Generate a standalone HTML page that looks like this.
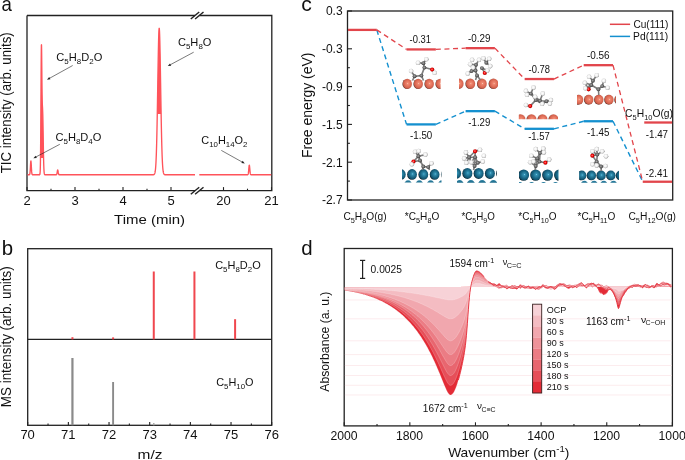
<!DOCTYPE html>
<html><head><meta charset="utf-8"><style>
html,body{margin:0;padding:0;background:#fff;}
svg{display:block;will-change:transform;font-family:"Liberation Sans",sans-serif;}
</style></head><body>
<svg width="685" height="460" viewBox="0 0 685 460">
<defs>
<radialGradient id="gcu" cx="0.55" cy="0.47" r="0.56" fx="0.56" fy="0.46"><stop offset="0" stop-color="#F9CDB9"/><stop offset="0.14" stop-color="#F08A72"/><stop offset="0.55" stop-color="#E06E58"/><stop offset="0.8" stop-color="#CC5E4A"/><stop offset="0.92" stop-color="#8A3A2C"/><stop offset="1" stop-color="#2A100A"/></radialGradient>
<radialGradient id="gpd" cx="0.55" cy="0.47" r="0.56" fx="0.56" fy="0.46"><stop offset="0" stop-color="#8AD8F0"/><stop offset="0.13" stop-color="#3593B5"/><stop offset="0.55" stop-color="#1B6A88"/><stop offset="0.8" stop-color="#135470"/><stop offset="0.92" stop-color="#0A3244"/><stop offset="1" stop-color="#02090C"/></radialGradient>
<linearGradient id="gpd2" x1="0" y1="0" x2="0" y2="1"><stop offset="0" stop-color="#2A80A2"/><stop offset="0.3" stop-color="#1D6A89"/><stop offset="1" stop-color="#0E4258"/></linearGradient>
<radialGradient id="gc" cx="0.45" cy="0.45" r="0.58"><stop offset="0" stop-color="#A8A8A8"/><stop offset="0.5" stop-color="#707070"/><stop offset="1" stop-color="#303030"/></radialGradient>
<radialGradient id="gh" cx="0.45" cy="0.45" r="0.58"><stop offset="0" stop-color="#FFFFFF"/><stop offset="0.5" stop-color="#F2F2F2"/><stop offset="0.82" stop-color="#C4C4C4"/><stop offset="1" stop-color="#707070"/></radialGradient>
<radialGradient id="go" cx="0.45" cy="0.45" r="0.6"><stop offset="0" stop-color="#FF8080"/><stop offset="0.5" stop-color="#F00000"/><stop offset="1" stop-color="#8A0000"/></radialGradient>
<clipPath id="cl0"><rect x="402.00" y="70.00" width="38.60" height="20.00"/></clipPath><clipPath id="cl1"><rect x="459.00" y="70.00" width="39.00" height="20.00"/></clipPath><clipPath id="cl2"><rect x="518.80" y="105.00" width="39.20" height="14.30"/></clipPath><clipPath id="cl3"><rect x="577.00" y="85.00" width="39.00" height="21.00"/></clipPath><clipPath id="cl4"><rect x="402.00" y="160.00" width="39.50" height="22.60"/></clipPath><clipPath id="cl5"><rect x="457.00" y="160.00" width="40.00" height="22.80"/></clipPath><clipPath id="cl6"><rect x="519.00" y="160.00" width="39.50" height="23.00"/></clipPath><clipPath id="cl7"><rect x="579.10" y="160.00" width="39.90" height="22.80"/></clipPath></defs>
<rect width="685" height="460" fill="#fff"/>
<text transform="translate(1.45 10.50) scale(0.9320 1)" fill="#111" font-size="20.00" ><tspan x="0.00" dy="0.00" font-size="20.00">a</tspan></text>
<text transform="translate(1.77 254.70) scale(1.0222 1)" fill="#111" font-size="20.00" ><tspan x="0.00" dy="0.00" font-size="20.00">b</tspan></text>
<text transform="translate(301.35 10.70) scale(1.0575 1)" fill="#111" font-size="20.00" ><tspan x="0.00" dy="0.00" font-size="20.00">c</tspan></text>
<text transform="translate(301.18 254.70) scale(1.0222 1)" fill="#111" font-size="20.00" ><tspan x="0.00" dy="0.00" font-size="20.00">d</tspan></text>
<path d="M195.00 15.50 H27.00 M199.30 15.50 H271.80 V190.70 H199.30 M195.00 190.70 H27.00 V15.50" fill="none" stroke="#222" stroke-width="1.3"/>
<line x1="190.80" y1="19.00" x2="199.20" y2="12.00" stroke="#222" stroke-width="1.45" />
<line x1="195.10" y1="19.00" x2="203.50" y2="12.00" stroke="#222" stroke-width="1.45" />
<line x1="190.80" y1="194.20" x2="199.20" y2="187.20" stroke="#222" stroke-width="1.45" />
<line x1="195.10" y1="194.20" x2="203.50" y2="187.20" stroke="#222" stroke-width="1.45" />
<line x1="27.00" y1="190.70" x2="27.00" y2="187.10" stroke="#222" stroke-width="1.10" />
<line x1="75.00" y1="190.70" x2="75.00" y2="187.10" stroke="#222" stroke-width="1.10" />
<line x1="123.00" y1="190.70" x2="123.00" y2="187.10" stroke="#222" stroke-width="1.10" />
<line x1="171.00" y1="190.70" x2="171.00" y2="187.10" stroke="#222" stroke-width="1.10" />
<line x1="223.50" y1="190.70" x2="223.50" y2="187.10" stroke="#222" stroke-width="1.10" />
<line x1="271.50" y1="190.70" x2="271.50" y2="187.10" stroke="#222" stroke-width="1.10" />
<line x1="51.00" y1="190.70" x2="51.00" y2="188.70" stroke="#222" stroke-width="1.10" />
<line x1="99.00" y1="190.70" x2="99.00" y2="188.70" stroke="#222" stroke-width="1.10" />
<line x1="147.00" y1="190.70" x2="147.00" y2="188.70" stroke="#222" stroke-width="1.10" />
<line x1="247.50" y1="190.70" x2="247.50" y2="188.70" stroke="#222" stroke-width="1.10" />
<text transform="translate(23.39 204.60) scale(1.0000 1)" fill="#111" font-size="13.00" ><tspan x="0.00" dy="0.00" font-size="13.00">2</tspan></text>
<text transform="translate(71.39 204.60) scale(1.0000 1)" fill="#111" font-size="13.00" ><tspan x="0.00" dy="0.00" font-size="13.00">3</tspan></text>
<text transform="translate(119.46 204.60) scale(1.0000 1)" fill="#111" font-size="13.00" ><tspan x="0.00" dy="0.00" font-size="13.00">4</tspan></text>
<text transform="translate(167.39 204.60) scale(1.0000 1)" fill="#111" font-size="13.00" ><tspan x="0.00" dy="0.00" font-size="13.00">5</tspan></text>
<text transform="translate(216.19 204.60) scale(1.0000 1)" fill="#111" font-size="13.00" ><tspan x="0.00" dy="0.00" font-size="13.00">20</tspan></text>
<text transform="translate(264.25 204.60) scale(1.0000 1)" fill="#111" font-size="13.00" ><tspan x="0.00" dy="0.00" font-size="13.00">21</tspan></text>
<text transform="translate(114.10 224.40) scale(1.1360 1)" fill="#111" font-size="13.20" ><tspan x="0.00" dy="0.00" font-size="13.20">Time (min)</tspan></text>
<text transform="translate(10.90 173.27) rotate(-90) scale(0.9997 1.0800)" fill="#111" font-size="13.30">TIC intensity (arb. units)</text>
<rect x="27.70" y="248.70" width="244.00" height="176.60" fill="none" stroke="#222" stroke-width="1.3"/>
<line x1="27.70" y1="339.40" x2="271.70" y2="339.40" stroke="#222" stroke-width="1.30" />
<line x1="27.70" y1="425.30" x2="27.70" y2="421.90" stroke="#222" stroke-width="1.10" />
<line x1="68.37" y1="425.30" x2="68.37" y2="421.90" stroke="#222" stroke-width="1.10" />
<line x1="109.03" y1="425.30" x2="109.03" y2="421.90" stroke="#222" stroke-width="1.10" />
<line x1="149.70" y1="425.30" x2="149.70" y2="421.90" stroke="#222" stroke-width="1.10" />
<line x1="190.37" y1="425.30" x2="190.37" y2="421.90" stroke="#222" stroke-width="1.10" />
<line x1="231.03" y1="425.30" x2="231.03" y2="421.90" stroke="#222" stroke-width="1.10" />
<line x1="271.70" y1="425.30" x2="271.70" y2="421.90" stroke="#222" stroke-width="1.10" />
<line x1="48.03" y1="425.30" x2="48.03" y2="423.50" stroke="#222" stroke-width="1.10" />
<line x1="88.70" y1="425.30" x2="88.70" y2="423.50" stroke="#222" stroke-width="1.10" />
<line x1="129.37" y1="425.30" x2="129.37" y2="423.50" stroke="#222" stroke-width="1.10" />
<line x1="170.03" y1="425.30" x2="170.03" y2="423.50" stroke="#222" stroke-width="1.10" />
<line x1="210.70" y1="425.30" x2="210.70" y2="423.50" stroke="#222" stroke-width="1.10" />
<line x1="251.37" y1="425.30" x2="251.37" y2="423.50" stroke="#222" stroke-width="1.10" />
<text transform="translate(20.39 439.40) scale(1.0000 1)" fill="#111" font-size="13.00" ><tspan x="0.00" dy="0.00" font-size="13.00">70</tspan></text>
<text transform="translate(61.12 439.40) scale(1.0000 1)" fill="#111" font-size="13.00" ><tspan x="0.00" dy="0.00" font-size="13.00">71</tspan></text>
<text transform="translate(101.82 439.40) scale(1.0000 1)" fill="#111" font-size="13.00" ><tspan x="0.00" dy="0.00" font-size="13.00">72</tspan></text>
<text transform="translate(142.42 439.40) scale(1.0000 1)" fill="#111" font-size="13.00" ><tspan x="0.00" dy="0.00" font-size="13.00">73</tspan></text>
<text transform="translate(183.02 439.40) scale(1.0000 1)" fill="#111" font-size="13.00" ><tspan x="0.00" dy="0.00" font-size="13.00">74</tspan></text>
<text transform="translate(223.75 439.40) scale(1.0000 1)" fill="#111" font-size="13.00" ><tspan x="0.00" dy="0.00" font-size="13.00">75</tspan></text>
<text transform="translate(264.42 439.40) scale(1.0000 1)" fill="#111" font-size="13.00" ><tspan x="0.00" dy="0.00" font-size="13.00">76</tspan></text>
<text transform="translate(137.60 459.20) scale(1.1706 1)" fill="#111" font-size="13.20" ><tspan x="0.00" dy="0.00" font-size="13.20">m/z</tspan></text>
<text transform="translate(10.90 407.17) rotate(-90) scale(1.0095 1.0800)" fill="#111" font-size="13.30">MS intensity (arb. units)</text>
<rect x="347.50" y="11.00" width="325.20" height="189.00" fill="none" stroke="#222" stroke-width="1.3"/>
<line x1="347.50" y1="11.00" x2="352.00" y2="11.00" stroke="#222" stroke-width="1.10" />
<line x1="347.50" y1="29.90" x2="349.90" y2="29.90" stroke="#222" stroke-width="1.10" />
<text x="342.6" y="15.30" font-size="12" text-anchor="end" fill="#111">0.3</text>
<line x1="347.50" y1="48.80" x2="352.00" y2="48.80" stroke="#222" stroke-width="1.10" />
<line x1="347.50" y1="67.70" x2="349.90" y2="67.70" stroke="#222" stroke-width="1.10" />
<text x="342.6" y="53.10" font-size="12" text-anchor="end" fill="#111">-0.3</text>
<line x1="347.50" y1="86.60" x2="352.00" y2="86.60" stroke="#222" stroke-width="1.10" />
<line x1="347.50" y1="105.50" x2="349.90" y2="105.50" stroke="#222" stroke-width="1.10" />
<text x="342.6" y="90.90" font-size="12" text-anchor="end" fill="#111">-0.9</text>
<line x1="347.50" y1="124.40" x2="352.00" y2="124.40" stroke="#222" stroke-width="1.10" />
<line x1="347.50" y1="143.30" x2="349.90" y2="143.30" stroke="#222" stroke-width="1.10" />
<text x="342.6" y="128.70" font-size="12" text-anchor="end" fill="#111">-1.5</text>
<line x1="347.50" y1="162.20" x2="352.00" y2="162.20" stroke="#222" stroke-width="1.10" />
<line x1="347.50" y1="181.10" x2="349.90" y2="181.10" stroke="#222" stroke-width="1.10" />
<text x="342.6" y="166.50" font-size="12" text-anchor="end" fill="#111">-2.1</text>
<line x1="347.50" y1="200.00" x2="352.00" y2="200.00" stroke="#222" stroke-width="1.10" />
<text x="342.6" y="204.30" font-size="12" text-anchor="end" fill="#111">-2.7</text>
<text transform="translate(311.60 158.12) rotate(-90) scale(1.0283 1.0300)" fill="#111" font-size="13.60">Free energy (eV)</text>
<rect x="344.20" y="248.50" width="328.20" height="177.40" fill="none" stroke="#222" stroke-width="1.3"/>
<line x1="344.20" y1="425.90" x2="344.20" y2="422.30" stroke="#222" stroke-width="1.10" />
<line x1="377.02" y1="425.90" x2="377.02" y2="423.90" stroke="#222" stroke-width="1.10" />
<line x1="409.84" y1="425.90" x2="409.84" y2="422.30" stroke="#222" stroke-width="1.10" />
<line x1="442.66" y1="425.90" x2="442.66" y2="423.90" stroke="#222" stroke-width="1.10" />
<line x1="475.48" y1="425.90" x2="475.48" y2="422.30" stroke="#222" stroke-width="1.10" />
<line x1="508.30" y1="425.90" x2="508.30" y2="423.90" stroke="#222" stroke-width="1.10" />
<line x1="541.12" y1="425.90" x2="541.12" y2="422.30" stroke="#222" stroke-width="1.10" />
<line x1="573.94" y1="425.90" x2="573.94" y2="423.90" stroke="#222" stroke-width="1.10" />
<line x1="606.76" y1="425.90" x2="606.76" y2="422.30" stroke="#222" stroke-width="1.10" />
<line x1="639.58" y1="425.90" x2="639.58" y2="423.90" stroke="#222" stroke-width="1.10" />
<line x1="672.40" y1="425.90" x2="672.40" y2="422.30" stroke="#222" stroke-width="1.10" />
<text transform="translate(330.54 440.00) scale(1.0000 1)" fill="#111" font-size="12.20" ><tspan x="0.00" dy="0.00" font-size="12.20">2000</tspan></text>
<text transform="translate(396.02 440.00) scale(1.0000 1)" fill="#111" font-size="12.20" ><tspan x="0.00" dy="0.00" font-size="12.20">1800</tspan></text>
<text transform="translate(461.66 440.00) scale(1.0000 1)" fill="#111" font-size="12.20" ><tspan x="0.00" dy="0.00" font-size="12.20">1600</tspan></text>
<text transform="translate(527.30 440.00) scale(1.0000 1)" fill="#111" font-size="12.20" ><tspan x="0.00" dy="0.00" font-size="12.20">1400</tspan></text>
<text transform="translate(592.94 440.00) scale(1.0000 1)" fill="#111" font-size="12.20" ><tspan x="0.00" dy="0.00" font-size="12.20">1200</tspan></text>
<text transform="translate(658.58 440.00) scale(1.0000 1)" fill="#111" font-size="12.20" ><tspan x="0.00" dy="0.00" font-size="12.20">1000</tspan></text>
<text transform="translate(448.13 457.40) scale(1.0119 1)" fill="#111" font-size="13.60" ><tspan x="0.00" dy="0.00" font-size="13.60">Wavenumber (cm</tspan><tspan x="106.81" dy="-5.17" font-size="9.52">-1</tspan><tspan x="115.28" dy="5.17" font-size="13.60">)</tspan></text>
<text transform="translate(329.30 391.70) rotate(-90) scale(0.9520 1.0500)" fill="#111" font-size="12.80">Absorbance (a. u.)</text>
<path d="M157.30 114.00 L157.30 112.66 L157.35 109.83 L157.40 106.95 L157.45 104.03 L157.50 101.07 L157.55 98.08 L157.60 95.06 L157.65 92.02 L157.70 88.96 L157.75 85.90 L157.80 82.84 L157.85 79.79 L157.90 76.75 L157.95 73.74 L158.00 70.75 L158.05 67.81 L158.10 64.91 L158.15 62.06 L158.20 59.29 L158.25 56.58 L158.30 53.95 L158.35 51.41 L158.40 48.97 L158.45 46.63 L158.50 44.40 L158.55 42.29 L158.60 40.31 L158.65 38.46 L158.70 36.75 L158.75 35.18 L158.80 33.77 L158.85 32.50 L158.90 31.40 L158.95 30.46 L159.00 29.69 L159.05 29.08 L159.10 28.65 L159.15 28.39 L159.20 28.30 L159.25 28.39 L159.30 28.65 L159.35 29.08 L159.40 29.69 L159.45 30.46 L159.50 31.40 L159.55 32.50 L159.60 33.77 L159.65 35.18 L159.70 36.75 L159.75 38.46 L159.80 40.31 L159.85 42.29 L159.90 44.40 L159.95 46.63 L160.00 48.97 L160.05 51.41 L160.10 53.95 L160.15 56.58 L160.20 59.29 L160.25 62.06 L160.30 64.91 L160.35 67.81 L160.40 70.75 L160.45 73.74 L160.50 76.75 L160.55 79.79 L160.60 82.84 L160.65 85.90 L160.70 88.96 L160.75 92.02 L160.80 95.06 L160.85 98.08 L160.90 101.07 L160.95 104.03 L161.00 106.95 L161.05 109.83 L161.10 112.66 L161.10 114.00 Z" fill="#FF535A"/>
<path d="M40.55 158.00 L40.55 154.14 L40.60 149.48 L40.65 144.14 L40.70 138.11 L40.75 131.43 L40.80 124.14 L40.85 116.34 L40.90 108.15 L40.95 99.71 L41.00 91.22 L41.05 82.86 L41.10 74.85 L41.15 67.40 L41.20 60.73 L41.25 55.02 L41.30 50.43 L41.35 47.07 L41.40 45.01 L41.45 44.27 L41.50 44.81 L41.55 46.55 L41.60 49.35 L41.65 53.04 L41.70 57.44 L41.75 62.33 L41.80 67.50 L41.85 72.74 L41.90 77.88 L41.95 82.75 L42.00 87.23 L42.05 91.23 L42.10 94.71 L42.15 97.65 L42.20 100.08 L42.25 102.02 L42.30 103.57 L42.35 104.79 L42.40 105.78 L42.45 106.63 L42.50 107.44 L42.55 108.28 L42.60 109.24 L42.65 110.35 L42.70 111.69 L42.75 113.26 L42.80 115.09 L42.85 117.18 L42.90 119.52 L42.95 122.08 L43.00 124.84 L43.05 127.75 L43.10 130.79 L43.15 133.91 L43.20 137.05 L43.25 140.20 L43.30 143.29 L43.35 146.30 L43.40 149.20 L43.45 151.97 L43.50 154.57 L43.55 157.00 L43.55 158.00 Z" fill="#FF535A"/>
<path d="M27.6 174.7 L27.7 174.7 L27.8 174.7 L27.9 174.7 L28.0 174.7 L28.1 174.7 L28.2 174.7 L28.3 174.7 L28.4 174.7 L28.5 174.7 L28.6 174.7 L28.7 174.7 L28.8 174.7 L28.9 174.7 L29.0 174.7 L29.1 174.7 L29.2 174.7 L29.3 174.7 L29.4 174.6 L29.5 174.6 L29.6 174.5 L29.7 174.3 L29.8 174.0 L29.9 173.5 L30.0 172.8 L30.1 171.9 L30.2 170.6 L30.3 169.0 L30.4 167.3 L30.5 165.4 L30.6 163.6 L30.7 162.2 L30.8 161.2 L30.9 160.9 L31.0 161.2 L31.1 162.2 L31.2 163.6 L31.3 165.4 L31.4 167.3 L31.5 169.0 L31.6 170.6 L31.7 171.9 L31.8 172.8 L31.9 173.5 L32.0 174.0 L32.1 174.3 L32.2 174.5 L32.3 174.6 L32.4 174.6 L32.5 174.7 L32.6 174.7 L32.7 174.7 L32.8 174.7 L32.9 174.7 L33.0 174.7 L33.1 174.7 L33.2 174.7 L33.3 174.7 L33.4 174.7 L33.5 174.7 L33.6 174.7 L33.7 174.7 L33.8 174.7 L33.9 174.7 L34.0 174.7 L34.1 174.7 L34.2 174.7 L34.3 174.7 L34.4 174.7 L34.5 174.7 L34.6 174.7 L34.7 174.7 L34.8 174.7 L34.9 174.7 L35.0 174.7 L35.1 174.7 L35.2 174.7 L35.3 174.7 L35.4 174.7 L35.5 174.7 L35.6 174.7 L35.7 174.7 L35.8 174.7 L35.9 174.7 L36.0 174.7 L36.1 174.7 L36.2 174.7 L36.3 174.7 L36.4 174.7 L36.5 174.7 L36.6 174.7 L36.7 174.7 L36.8 174.7 L36.9 174.7 L37.0 174.7 L37.1 174.7 L37.2 174.7 L37.3 174.7 L37.4 174.7 L37.5 174.7 L37.6 174.7 L37.7 174.7 L37.8 174.7 L37.9 174.7 L38.0 174.7 L38.1 174.7 L38.2 174.7 L38.3 174.7 L38.4 174.7 L38.5 174.7 L38.6 174.7 L38.7 174.7 L38.8 174.7 L38.9 174.7 L39.0 174.7 L39.1 174.7 L39.2 174.7 L39.3 174.7 L39.4 174.7 L39.5 174.7 L39.6 174.7 L39.7 174.6 L39.8 174.5 L39.9 174.2 L40.0 173.7 L40.1 172.8 L40.2 171.2 L40.3 168.5 L40.4 164.4 L40.5 158.1 L40.6 149.5 L40.7 138.1 L40.8 124.1 L40.9 108.1 L41.0 91.2 L41.1 74.8 L41.2 60.7 L41.3 50.4 L41.4 45.0 L41.5 44.8 L41.6 49.3 L41.7 57.4 L41.8 67.5 L41.9 77.9 L42.0 87.2 L42.1 94.7 L42.2 100.1 L42.3 103.6 L42.4 105.8 L42.5 107.4 L42.6 109.2 L42.7 111.7 L42.8 115.1 L42.9 119.5 L43.0 124.8 L43.1 130.8 L43.2 137.1 L43.3 143.3 L43.4 149.2 L43.5 154.6 L43.6 159.2 L43.7 163.2 L43.8 166.3 L43.9 168.8 L44.0 170.6 L44.1 172.0 L44.2 172.9 L44.3 173.6 L44.4 174.0 L44.5 174.3 L44.6 174.5 L44.7 174.6 L44.8 174.6 L44.9 174.7 L45.0 174.7 L45.1 174.7 L45.2 174.7 L45.3 174.7 L45.4 174.7 L45.5 174.7 L45.6 174.7 L45.7 174.7 L45.8 174.7 L45.9 174.7 L46.0 174.7 L46.1 174.7 L46.2 174.7 L46.3 174.7 L46.4 174.7 L46.5 174.7 L46.6 174.7 L46.7 174.7 L46.8 174.7 L46.9 174.7 L47.0 174.7 L47.1 174.7 L47.2 174.7 L47.3 174.7 L47.4 174.7 L47.5 174.7 L47.6 174.7 L47.7 174.7 L47.8 174.7 L47.9 174.7 L48.0 174.7 L48.1 174.7 L48.2 174.7 L48.3 174.7 L48.4 174.7 L48.5 174.7 L48.6 174.7 L48.7 174.7 L48.8 174.7 L48.9 174.7 L49.0 174.7 L49.1 174.7 L49.2 174.7 L49.3 174.7 L49.4 174.7 L49.5 174.7 L49.6 174.7 L49.7 174.7 L49.8 174.7 L49.9 174.7 L50.0 174.7 L50.1 174.7 L50.2 174.7 L50.3 174.7 L50.4 174.7 L50.5 174.7 L50.6 174.7 L50.7 174.7 L50.8 174.7 L50.9 174.7 L51.0 174.7 L51.1 174.7 L51.2 174.7 L51.3 174.7 L51.4 174.7 L51.5 174.7 L51.6 174.7 L51.7 174.7 L51.8 174.7 L51.9 174.7 L52.0 174.7 L52.1 174.7 L52.2 174.7 L52.3 174.7 L52.4 174.7 L52.5 174.7 L52.6 174.7 L52.7 174.7 L52.8 174.7 L52.9 174.7 L53.0 174.7 L53.1 174.7 L53.2 174.7 L53.3 174.7 L53.4 174.7 L53.5 174.7 L53.6 174.7 L53.7 174.7 L53.8 174.7 L53.9 174.7 L54.0 174.7 L54.1 174.7 L54.2 174.7 L54.3 174.7 L54.4 174.7 L54.5 174.7 L54.6 174.7 L54.7 174.7 L54.8 174.7 L54.9 174.7 L55.0 174.7 L55.1 174.7 L55.2 174.7 L55.3 174.7 L55.4 174.7 L55.5 174.7 L55.6 174.7 L55.7 174.7 L55.8 174.7 L55.9 174.7 L56.0 174.7 L56.1 174.7 L56.2 174.7 L56.3 174.7 L56.4 174.6 L56.5 174.6 L56.6 174.5 L56.7 174.3 L56.8 174.1 L56.9 173.7 L57.0 173.3 L57.1 172.8 L57.2 172.2 L57.3 171.5 L57.4 170.9 L57.5 170.4 L57.6 170.1 L57.7 170.0 L57.8 170.1 L57.9 170.4 L58.0 170.9 L58.1 171.5 L58.2 172.2 L58.3 172.8 L58.4 173.3 L58.5 173.7 L58.6 174.1 L58.7 174.3 L58.8 174.5 L58.9 174.6 L59.0 174.6 L59.1 174.7 L59.2 174.7 L59.3 174.7 L59.4 174.7 L59.5 174.7 L59.6 174.7 L59.7 174.7 L59.8 174.7 L59.9 174.7 L60.0 174.7 L60.1 174.7 L60.2 174.7 L60.3 174.7 L60.4 174.7 L60.5 174.7 L60.6 174.7 L60.7 174.7 L60.8 174.7 L60.9 174.7 L61.0 174.7 L61.1 174.7 L61.2 174.7 L61.3 174.7 L61.4 174.7 L61.5 174.7 L61.6 174.7 L61.7 174.7 L61.8 174.7 L61.9 174.7 L62.0 174.7 L62.1 174.7 L62.2 174.7 L62.3 174.7 L62.4 174.7 L62.5 174.7 L62.6 174.7 L62.7 174.7 L62.8 174.7 L62.9 174.7 L63.0 174.7 L63.1 174.7 L63.2 174.7 L63.3 174.7 L63.4 174.7 L63.5 174.7 L63.6 174.7 L63.7 174.7 L63.8 174.7 L63.9 174.7 L64.0 174.7 L64.1 174.7 L64.2 174.7 L64.3 174.7 L64.4 174.7 L64.5 174.7 L64.6 174.7 L64.7 174.7 L64.8 174.7 L64.9 174.7 L65.0 174.7 L65.1 174.7 L65.2 174.7 L65.3 174.7 L65.4 174.7 L65.5 174.7 L65.6 174.7 L65.7 174.7 L65.8 174.7 L65.9 174.7 L66.0 174.7 L66.1 174.7 L66.2 174.7 L66.3 174.7 L66.4 174.7 L66.5 174.7 L66.6 174.7 L66.7 174.7 L66.8 174.7 L66.9 174.7 L67.0 174.7 L67.1 174.7 L67.2 174.7 L67.3 174.7 L67.4 174.7 L67.5 174.7 L67.6 174.7 L67.7 174.7 L67.8 174.7 L67.9 174.7 L68.0 174.7 L68.1 174.7 L68.2 174.7 L68.3 174.7 L68.4 174.7 L68.5 174.7 L68.6 174.7 L68.7 174.7 L68.8 174.7 L68.9 174.7 L69.0 174.7 L69.1 174.7 L69.2 174.7 L69.3 174.7 L69.4 174.7 L69.5 174.7 L69.6 174.7 L69.7 174.7 L69.8 174.7 L69.9 174.7 L70.0 174.7 L70.1 174.7 L70.2 174.7 L70.3 174.7 L70.4 174.7 L70.5 174.7 L70.6 174.7 L70.7 174.7 L70.8 174.7 L70.9 174.7 L71.0 174.7 L71.1 174.7 L71.2 174.7 L71.3 174.7 L71.4 174.7 L71.5 174.7 L71.6 174.7 L71.7 174.7 L71.8 174.7 L71.9 174.7 L72.0 174.7 L72.1 174.7 L72.2 174.7 L72.3 174.7 L72.4 174.7 L72.5 174.7 L72.6 174.7 L72.7 174.7 L72.8 174.7 L72.9 174.7 L73.0 174.7 L73.1 174.7 L73.2 174.7 L73.3 174.7 L73.4 174.7 L73.5 174.7 L73.6 174.7 L73.7 174.7 L73.8 174.7 L73.9 174.7 L74.0 174.7 L74.1 174.7 L74.2 174.7 L74.3 174.7 L74.4 174.7 L74.5 174.7 L74.6 174.7 L74.7 174.7 L74.8 174.7 L74.9 174.7 L75.0 174.7 L75.1 174.7 L75.2 174.7 L75.3 174.7 L75.4 174.7 L75.5 174.7 L75.6 174.7 L75.7 174.7 L75.8 174.7 L75.9 174.7 L76.0 174.7 L76.1 174.7 L76.2 174.7 L76.3 174.7 L76.4 174.7 L76.5 174.7 L76.6 174.7 L76.7 174.7 L76.8 174.7 L76.9 174.7 L77.0 174.7 L77.1 174.7 L77.2 174.7 L77.3 174.7 L77.4 174.7 L77.5 174.7 L77.6 174.7 L77.7 174.7 L77.8 174.7 L77.9 174.7 L78.0 174.7 L78.1 174.7 L78.2 174.7 L78.3 174.7 L78.4 174.7 L78.5 174.7 L78.6 174.7 L78.7 174.7 L78.8 174.7 L78.9 174.7 L79.0 174.7 L79.1 174.7 L79.2 174.7 L79.3 174.7 L79.4 174.7 L79.5 174.7 L79.6 174.7 L79.7 174.7 L79.8 174.7 L79.9 174.7 L80.0 174.7 L80.1 174.7 L80.2 174.7 L80.3 174.7 L80.4 174.7 L80.5 174.7 L80.6 174.7 L80.7 174.7 L80.8 174.7 L80.9 174.7 L81.0 174.7 L81.1 174.7 L81.2 174.7 L81.3 174.7 L81.4 174.7 L81.5 174.7 L81.6 174.7 L81.7 174.7 L81.8 174.7 L81.9 174.7 L82.0 174.7 L82.1 174.7 L82.2 174.7 L82.3 174.7 L82.4 174.7 L82.5 174.7 L82.6 174.7 L82.7 174.7 L82.8 174.7 L82.9 174.7 L83.0 174.7 L83.1 174.7 L83.2 174.7 L83.3 174.7 L83.4 174.7 L83.5 174.7 L83.6 174.7 L83.7 174.7 L83.8 174.7 L83.9 174.7 L84.0 174.7 L84.1 174.7 L84.2 174.7 L84.3 174.7 L84.4 174.7 L84.5 174.7 L84.6 174.7 L84.7 174.7 L84.8 174.7 L84.9 174.7 L85.0 174.7 L85.1 174.7 L85.2 174.7 L85.3 174.7 L85.4 174.7 L85.5 174.7 L85.6 174.7 L85.7 174.7 L85.8 174.7 L85.9 174.7 L86.0 174.7 L86.1 174.7 L86.2 174.7 L86.3 174.7 L86.4 174.7 L86.5 174.7 L86.6 174.7 L86.7 174.7 L86.8 174.7 L86.9 174.7 L87.0 174.7 L87.1 174.7 L87.2 174.7 L87.3 174.7 L87.4 174.7 L87.5 174.7 L87.6 174.7 L87.7 174.7 L87.8 174.7 L87.9 174.7 L88.0 174.7 L88.1 174.7 L88.2 174.7 L88.3 174.7 L88.4 174.7 L88.5 174.7 L88.6 174.7 L88.7 174.7 L88.8 174.7 L88.9 174.7 L89.0 174.7 L89.1 174.7 L89.2 174.7 L89.3 174.7 L89.4 174.7 L89.5 174.7 L89.6 174.7 L89.7 174.7 L89.8 174.7 L89.9 174.7 L90.0 174.7 L90.1 174.7 L90.2 174.7 L90.3 174.7 L90.4 174.7 L90.5 174.7 L90.6 174.7 L90.7 174.7 L90.8 174.7 L90.9 174.7 L91.0 174.7 L91.1 174.7 L91.2 174.7 L91.3 174.7 L91.4 174.7 L91.5 174.7 L91.6 174.7 L91.7 174.7 L91.8 174.7 L91.9 174.7 L92.0 174.7 L92.1 174.7 L92.2 174.7 L92.3 174.7 L92.4 174.7 L92.5 174.7 L92.6 174.7 L92.7 174.7 L92.8 174.7 L92.9 174.7 L93.0 174.7 L93.1 174.7 L93.2 174.7 L93.3 174.7 L93.4 174.7 L93.5 174.7 L93.6 174.7 L93.7 174.7 L93.8 174.7 L93.9 174.7 L94.0 174.7 L94.1 174.7 L94.2 174.7 L94.3 174.7 L94.4 174.7 L94.5 174.7 L94.6 174.7 L94.7 174.7 L94.8 174.7 L94.9 174.7 L95.0 174.7 L95.1 174.7 L95.2 174.7 L95.3 174.7 L95.4 174.7 L95.5 174.7 L95.6 174.7 L95.7 174.7 L95.8 174.7 L95.9 174.7 L96.0 174.7 L96.1 174.7 L96.2 174.7 L96.3 174.7 L96.4 174.7 L96.5 174.7 L96.6 174.7 L96.7 174.7 L96.8 174.7 L96.9 174.7 L97.0 174.7 L97.1 174.7 L97.2 174.7 L97.3 174.7 L97.4 174.7 L97.5 174.7 L97.6 174.7 L97.7 174.7 L97.8 174.7 L97.9 174.7 L98.0 174.7 L98.1 174.7 L98.2 174.7 L98.3 174.7 L98.4 174.7 L98.5 174.7 L98.6 174.7 L98.7 174.7 L98.8 174.7 L98.9 174.7 L99.0 174.7 L99.1 174.7 L99.2 174.7 L99.3 174.7 L99.4 174.7 L99.5 174.7 L99.6 174.7 L99.7 174.7 L99.8 174.7 L99.9 174.7 L100.0 174.7 L100.1 174.7 L100.2 174.7 L100.3 174.7 L100.4 174.7 L100.5 174.7 L100.6 174.7 L100.7 174.7 L100.8 174.7 L100.9 174.7 L101.0 174.7 L101.1 174.7 L101.2 174.7 L101.3 174.7 L101.4 174.7 L101.5 174.7 L101.6 174.7 L101.7 174.7 L101.8 174.7 L101.9 174.7 L102.0 174.7 L102.1 174.7 L102.2 174.7 L102.3 174.7 L102.4 174.7 L102.5 174.7 L102.6 174.7 L102.7 174.7 L102.8 174.7 L102.9 174.7 L103.0 174.7 L103.1 174.7 L103.2 174.7 L103.3 174.7 L103.4 174.7 L103.5 174.7 L103.6 174.7 L103.7 174.7 L103.8 174.7 L103.9 174.7 L104.0 174.7 L104.1 174.7 L104.2 174.7 L104.3 174.7 L104.4 174.7 L104.5 174.7 L104.6 174.7 L104.7 174.7 L104.8 174.7 L104.9 174.7 L105.0 174.7 L105.1 174.7 L105.2 174.7 L105.3 174.7 L105.4 174.7 L105.5 174.7 L105.6 174.7 L105.7 174.7 L105.8 174.7 L105.9 174.7 L106.0 174.7 L106.1 174.7 L106.2 174.7 L106.3 174.7 L106.4 174.7 L106.5 174.7 L106.6 174.7 L106.7 174.7 L106.8 174.7 L106.9 174.7 L107.0 174.7 L107.1 174.7 L107.2 174.7 L107.3 174.7 L107.4 174.7 L107.5 174.7 L107.6 174.7 L107.7 174.7 L107.8 174.7 L107.9 174.7 L108.0 174.7 L108.1 174.7 L108.2 174.7 L108.3 174.7 L108.4 174.7 L108.5 174.7 L108.6 174.7 L108.7 174.7 L108.8 174.7 L108.9 174.7 L109.0 174.7 L109.1 174.7 L109.2 174.7 L109.3 174.7 L109.4 174.7 L109.5 174.7 L109.6 174.7 L109.7 174.7 L109.8 174.7 L109.9 174.7 L110.0 174.7 L110.1 174.7 L110.2 174.7 L110.3 174.7 L110.4 174.7 L110.5 174.7 L110.6 174.7 L110.7 174.7 L110.8 174.7 L110.9 174.7 L111.0 174.7 L111.1 174.7 L111.2 174.7 L111.3 174.7 L111.4 174.7 L111.5 174.7 L111.6 174.7 L111.7 174.7 L111.8 174.7 L111.9 174.7 L112.0 174.7 L112.1 174.7 L112.2 174.7 L112.3 174.7 L112.4 174.7 L112.5 174.7 L112.6 174.7 L112.7 174.7 L112.8 174.7 L112.9 174.7 L113.0 174.7 L113.1 174.7 L113.2 174.7 L113.3 174.7 L113.4 174.7 L113.5 174.7 L113.6 174.7 L113.7 174.7 L113.8 174.7 L113.9 174.7 L114.0 174.7 L114.1 174.7 L114.2 174.7 L114.3 174.7 L114.4 174.7 L114.5 174.7 L114.6 174.7 L114.7 174.7 L114.8 174.7 L114.9 174.7 L115.0 174.7 L115.1 174.7 L115.2 174.7 L115.3 174.7 L115.4 174.7 L115.5 174.7 L115.6 174.7 L115.7 174.7 L115.8 174.7 L115.9 174.7 L116.0 174.7 L116.1 174.7 L116.2 174.7 L116.3 174.7 L116.4 174.7 L116.5 174.7 L116.6 174.7 L116.7 174.7 L116.8 174.7 L116.9 174.7 L117.0 174.7 L117.1 174.7 L117.2 174.7 L117.3 174.7 L117.4 174.7 L117.5 174.7 L117.6 174.7 L117.7 174.7 L117.8 174.7 L117.9 174.7 L118.0 174.7 L118.1 174.7 L118.2 174.7 L118.3 174.7 L118.4 174.7 L118.5 174.7 L118.6 174.7 L118.7 174.7 L118.8 174.7 L118.9 174.7 L119.0 174.7 L119.1 174.7 L119.2 174.7 L119.3 174.7 L119.4 174.7 L119.5 174.7 L119.6 174.7 L119.7 174.7 L119.8 174.7 L119.9 174.7 L120.0 174.7 L120.1 174.7 L120.2 174.7 L120.3 174.7 L120.4 174.7 L120.5 174.7 L120.6 174.7 L120.7 174.7 L120.8 174.7 L120.9 174.7 L121.0 174.7 L121.1 174.7 L121.2 174.7 L121.3 174.7 L121.4 174.7 L121.5 174.7 L121.6 174.7 L121.7 174.7 L121.8 174.7 L121.9 174.7 L122.0 174.7 L122.1 174.7 L122.2 174.7 L122.3 174.7 L122.4 174.7 L122.5 174.7 L122.6 174.7 L122.7 174.7 L122.8 174.7 L122.9 174.7 L123.0 174.7 L123.1 174.7 L123.2 174.7 L123.3 174.7 L123.4 174.7 L123.5 174.7 L123.6 174.7 L123.7 174.7 L123.8 174.7 L123.9 174.7 L124.0 174.7 L124.1 174.7 L124.2 174.7 L124.3 174.7 L124.4 174.7 L124.5 174.7 L124.6 174.7 L124.7 174.7 L124.8 174.7 L124.9 174.7 L125.0 174.7 L125.1 174.7 L125.2 174.7 L125.3 174.7 L125.4 174.7 L125.5 174.7 L125.6 174.7 L125.7 174.7 L125.8 174.7 L125.9 174.7 L126.0 174.7 L126.1 174.7 L126.2 174.7 L126.3 174.7 L126.4 174.7 L126.5 174.7 L126.6 174.7 L126.7 174.7 L126.8 174.7 L126.9 174.7 L127.0 174.7 L127.1 174.7 L127.2 174.7 L127.3 174.7 L127.4 174.7 L127.5 174.7 L127.6 174.7 L127.7 174.7 L127.8 174.7 L127.9 174.7 L128.0 174.7 L128.1 174.7 L128.2 174.7 L128.3 174.7 L128.4 174.7 L128.5 174.7 L128.6 174.7 L128.7 174.7 L128.8 174.7 L128.9 174.7 L129.0 174.7 L129.1 174.7 L129.2 174.7 L129.3 174.7 L129.4 174.7 L129.5 174.7 L129.6 174.7 L129.7 174.7 L129.8 174.7 L129.9 174.7 L130.0 174.7 L130.1 174.7 L130.2 174.7 L130.3 174.7 L130.4 174.7 L130.5 174.7 L130.6 174.7 L130.7 174.7 L130.8 174.7 L130.9 174.7 L131.0 174.7 L131.1 174.7 L131.2 174.7 L131.3 174.7 L131.4 174.7 L131.5 174.7 L131.6 174.7 L131.7 174.7 L131.8 174.7 L131.9 174.7 L132.0 174.7 L132.1 174.7 L132.2 174.7 L132.3 174.7 L132.4 174.7 L132.5 174.7 L132.6 174.7 L132.7 174.7 L132.8 174.7 L132.9 174.7 L133.0 174.7 L133.1 174.7 L133.2 174.7 L133.3 174.7 L133.4 174.7 L133.5 174.7 L133.6 174.7 L133.7 174.7 L133.8 174.7 L133.9 174.7 L134.0 174.7 L134.1 174.7 L134.2 174.7 L134.3 174.7 L134.4 174.7 L134.5 174.7 L134.6 174.7 L134.7 174.7 L134.8 174.7 L134.9 174.7 L135.0 174.7 L135.1 174.7 L135.2 174.7 L135.3 174.7 L135.4 174.7 L135.5 174.7 L135.6 174.7 L135.7 174.7 L135.8 174.7 L135.9 174.7 L136.0 174.7 L136.1 174.7 L136.2 174.7 L136.3 174.7 L136.4 174.7 L136.5 174.7 L136.6 174.7 L136.7 174.7 L136.8 174.7 L136.9 174.7 L137.0 174.7 L137.1 174.7 L137.2 174.7 L137.3 174.7 L137.4 174.7 L137.5 174.7 L137.6 174.7 L137.7 174.7 L137.8 174.7 L137.9 174.7 L138.0 174.7 L138.1 174.7 L138.2 174.7 L138.3 174.7 L138.4 174.7 L138.5 174.7 L138.6 174.7 L138.7 174.7 L138.8 174.7 L138.9 174.7 L139.0 174.7 L139.1 174.7 L139.2 174.7 L139.3 174.7 L139.4 174.7 L139.5 174.7 L139.6 174.7 L139.7 174.7 L139.8 174.7 L139.9 174.7 L140.0 174.7 L140.1 174.7 L140.2 174.7 L140.3 174.7 L140.4 174.7 L140.5 174.7 L140.6 174.7 L140.7 174.7 L140.8 174.7 L140.9 174.7 L141.0 174.7 L141.1 174.7 L141.2 174.7 L141.3 174.7 L141.4 174.7 L141.5 174.7 L141.6 174.7 L141.7 174.7 L141.8 174.7 L141.9 174.7 L142.0 174.7 L142.1 174.7 L142.2 174.7 L142.3 174.7 L142.4 174.7 L142.5 174.7 L142.6 174.7 L142.7 174.7 L142.8 174.7 L142.9 174.7 L143.0 174.7 L143.1 174.7 L143.2 174.7 L143.3 174.7 L143.4 174.7 L143.5 174.7 L143.6 174.7 L143.7 174.7 L143.8 174.7 L143.9 174.7 L144.0 174.7 L144.1 174.7 L144.2 174.7 L144.3 174.7 L144.4 174.7 L144.5 174.7 L144.6 174.7 L144.7 174.7 L144.8 174.7 L144.9 174.7 L145.0 174.7 L145.1 174.7 L145.2 174.7 L145.3 174.7 L145.4 174.7 L145.5 174.7 L145.6 174.7 L145.7 174.7 L145.8 174.7 L145.9 174.7 L146.0 174.7 L146.1 174.7 L146.2 174.7 L146.3 174.7 L146.4 174.7 L146.5 174.7 L146.6 174.7 L146.7 174.7 L146.8 174.7 L146.9 174.7 L147.0 174.7 L147.1 174.7 L147.2 174.7 L147.3 174.7 L147.4 174.7 L147.5 174.7 L147.6 174.7 L147.7 174.7 L147.8 174.7 L147.9 174.7 L148.0 174.7 L148.1 174.7 L148.2 174.7 L148.3 174.7 L148.4 174.7 L148.5 174.7 L148.6 174.7 L148.7 174.7 L148.8 174.7 L148.9 174.7 L149.0 174.7 L149.1 174.7 L149.2 174.7 L149.3 174.7 L149.4 174.7 L149.5 174.7 L149.6 174.7 L149.7 174.7 L149.8 174.7 L149.9 174.7 L150.0 174.7 L150.1 174.7 L150.2 174.7 L150.3 174.7 L150.4 174.7 L150.5 174.7 L150.6 174.7 L150.7 174.7 L150.8 174.7 L150.9 174.7 L151.0 174.7 L151.1 174.7 L151.2 174.7 L151.3 174.7 L151.4 174.7 L151.5 174.7 L151.6 174.7 L151.7 174.7 L151.8 174.7 L151.9 174.7 L152.0 174.7 L152.1 174.7 L152.2 174.7 L152.3 174.7 L152.4 174.7 L152.5 174.7 L152.6 174.7 L152.7 174.7 L152.8 174.7 L152.9 174.7 L153.0 174.7 L153.1 174.7 L153.2 174.7 L153.3 174.7 L153.4 174.7 L153.5 174.6 L153.6 174.6 L153.7 174.6 L153.8 174.6 L153.9 174.5 L154.0 174.5 L154.1 174.4 L154.2 174.3 L154.3 174.2 L154.4 174.1 L154.5 173.9 L154.6 173.7 L154.7 173.5 L154.8 173.2 L154.9 172.9 L155.0 172.5 L155.1 172.0 L155.2 171.4 L155.3 170.8 L155.4 170.0 L155.5 169.1 L155.6 168.0 L155.7 166.8 L155.8 165.3 L155.9 163.7 L156.0 161.9 L156.1 159.8 L156.2 157.5 L156.3 154.9 L156.4 152.0 L156.5 148.8 L156.6 145.4 L156.7 141.6 L156.8 137.5 L156.9 133.1 L157.0 128.4 L157.1 123.4 L157.2 118.2 L157.3 112.7 L157.4 106.9 L157.5 101.1 L157.6 95.1 L157.7 89.0 L157.8 82.8 L157.9 76.8 L158.0 70.8 L158.1 64.9 L158.2 59.3 L158.3 54.0 L158.4 49.0 L158.5 44.4 L158.6 40.3 L158.7 36.8 L158.8 33.8 L158.9 31.4 L159.0 29.7 L159.1 28.6 L159.2 28.3 L159.3 28.6 L159.4 29.7 L159.5 31.4 L159.6 33.8 L159.7 36.8 L159.8 40.3 L159.9 44.4 L160.0 49.0 L160.1 54.0 L160.2 59.3 L160.3 64.9 L160.4 70.8 L160.5 76.8 L160.6 82.8 L160.7 89.0 L160.8 95.1 L160.9 101.1 L161.0 106.9 L161.1 112.7 L161.2 118.2 L161.3 123.4 L161.4 128.4 L161.5 133.1 L161.6 137.5 L161.7 141.6 L161.8 145.4 L161.9 148.8 L162.0 152.0 L162.1 154.9 L162.2 157.5 L162.3 159.8 L162.4 161.9 L162.5 163.7 L162.6 165.3 L162.7 166.8 L162.8 168.0 L162.9 169.1 L163.0 170.0 L163.1 170.8 L163.2 171.4 L163.3 172.0 L163.4 172.5 L163.5 172.9 L163.6 173.2 L163.7 173.5 L163.8 173.7 L163.9 173.9 L164.0 174.1 L164.1 174.2 L164.2 174.3 L164.3 174.4 L164.4 174.5 L164.5 174.5 L164.6 174.6 L164.7 174.6 L164.8 174.6 L164.9 174.6 L165.0 174.7 L165.1 174.7 L165.2 174.7 L165.3 174.7 L165.4 174.7 L165.5 174.7 L165.6 174.7 L165.7 174.7 L165.8 174.7 L165.9 174.7 L166.0 174.7 L166.1 174.7 L166.2 174.7 L166.3 174.7 L166.4 174.7 L166.5 174.7 L166.6 174.7 L166.7 174.7 L166.8 174.7 L166.9 174.7 L167.0 174.7 L167.1 174.7 L167.2 174.7 L167.3 174.7 L167.4 174.7 L167.5 174.7 L167.6 174.7 L167.7 174.7 L167.8 174.7 L167.9 174.7 L168.0 174.7 L168.1 174.7 L168.2 174.7 L168.3 174.7 L168.4 174.7 L168.5 174.7 L168.6 174.7 L168.7 174.7 L168.8 174.7 L168.9 174.7 L169.0 174.7 L169.1 174.7 L169.2 174.7 L169.3 174.7 L169.4 174.7 L169.5 174.7 L169.6 174.7 L169.7 174.7 L169.8 174.7 L169.9 174.7 L170.0 174.7 L170.1 174.7 L170.2 174.7 L170.3 174.7 L170.4 174.7 L170.5 174.7 L170.6 174.7 L170.7 174.7 L170.8 174.7 L170.9 174.7 L171.0 174.7 L171.1 174.7 L171.2 174.7 L171.3 174.7 L171.4 174.7 L171.5 174.7 L171.6 174.7 L171.7 174.7 L171.8 174.7 L171.9 174.7 L172.0 174.7 L172.1 174.7 L172.2 174.7 L172.3 174.7 L172.4 174.7 L172.5 174.7 L172.6 174.7 L172.7 174.7 L172.8 174.7 L172.9 174.7 L173.0 174.7 L173.1 174.7 L173.2 174.7 L173.3 174.7 L173.4 174.7 L173.5 174.7 L173.6 174.7 L173.7 174.7 L173.8 174.7 L173.9 174.7 L174.0 174.7 L174.1 174.7 L174.2 174.7 L174.3 174.7 L174.4 174.7 L174.5 174.7 L174.6 174.7 L174.7 174.7 L174.8 174.7 L174.9 174.7 L175.0 174.7 L175.1 174.7 L175.2 174.7 L175.3 174.7 L175.4 174.7 L175.5 174.7 L175.6 174.7 L175.7 174.7 L175.8 174.7 L175.9 174.7 L176.0 174.7 L176.1 174.7 L176.2 174.7 L176.3 174.7 L176.4 174.7 L176.5 174.7 L176.6 174.7 L176.7 174.7 L176.8 174.7 L176.9 174.7 L177.0 174.7 L177.1 174.7 L177.2 174.7 L177.3 174.7 L177.4 174.7 L177.5 174.7 L177.6 174.7 L177.7 174.7 L177.8 174.7 L177.9 174.7 L178.0 174.7 L178.1 174.7 L178.2 174.7 L178.3 174.7 L178.4 174.7 L178.5 174.7 L178.6 174.7 L178.7 174.7 L178.8 174.7 L178.9 174.7 L179.0 174.7 L179.1 174.7 L179.2 174.7 L179.3 174.7 L179.4 174.7 L179.5 174.7 L179.6 174.7 L179.7 174.7 L179.8 174.7 L179.9 174.7 L180.0 174.7 L180.1 174.7 L180.2 174.7 L180.3 174.7 L180.4 174.7 L180.5 174.7 L180.6 174.7 L180.7 174.7 L180.8 174.7 L180.9 174.7 L181.0 174.7 L181.1 174.7 L181.2 174.7 L181.3 174.7 L181.4 174.7 L181.5 174.7 L181.6 174.7 L181.7 174.7 L181.8 174.7 L181.9 174.7 L182.0 174.7 L182.1 174.7 L182.2 174.7 L182.3 174.7 L182.4 174.7 L182.5 174.7 L182.6 174.7 L182.7 174.7 L182.8 174.7 L182.9 174.7 L183.0 174.7 L183.1 174.7 L183.2 174.7 L183.3 174.7 L183.4 174.7 L183.5 174.7 L183.6 174.7 L183.7 174.7 L183.8 174.7 L183.9 174.7 L184.0 174.7 L184.1 174.7 L184.2 174.7 L184.3 174.7 L184.4 174.7 L184.5 174.7 L184.6 174.7 L184.7 174.7 L184.8 174.7 L184.9 174.7 L185.0 174.7 L185.1 174.7 L185.2 174.7 L185.3 174.7 L185.4 174.7 L185.5 174.7 L185.6 174.7 L185.7 174.7 L185.8 174.7 L185.9 174.7 L186.0 174.7 L186.1 174.7 L186.2 174.7 L186.3 174.7 L186.4 174.7 L186.5 174.7 L186.6 174.7 L186.7 174.7 L186.8 174.7 L186.9 174.7 L187.0 174.7 L187.1 174.7 L187.2 174.7 L187.3 174.7 L187.4 174.7 L187.5 174.7 L187.6 174.7 L187.7 174.7 L187.8 174.7 L187.9 174.7 L188.0 174.7 L188.1 174.7 L188.2 174.7 L188.3 174.7 L188.4 174.7 L188.5 174.7 L188.6 174.7 L188.7 174.7 L188.8 174.7 L188.9 174.7 L189.0 174.7 L189.1 174.7 L189.2 174.7 L189.3 174.7 L189.4 174.7 L189.5 174.7 L189.6 174.7 L189.7 174.7 L189.8 174.7 L189.9 174.7 L190.0 174.7 L190.1 174.7 L190.2 174.7 L190.3 174.7 L190.4 174.7 L190.5 174.7 L190.6 174.7 L190.7 174.7 L190.8 174.7 L190.9 174.7 L191.0 174.7 L191.1 174.7 L191.2 174.7 L191.3 174.7 L191.4 174.7 L191.5 174.7 L191.6 174.7 L191.7 174.7 L191.8 174.7 L191.9 174.7 L192.0 174.7 L192.1 174.7 L192.2 174.7 L192.3 174.7 L192.4 174.7 L192.5 174.7 L192.6 174.7 L192.7 174.7 L192.8 174.7 L192.9 174.7 L193.0 174.7 L193.1 174.7 L193.2 174.7 L193.3 174.7 L193.4 174.7 L193.5 174.7 L193.6 174.7 L193.7 174.7 L193.8 174.7 L193.9 174.7 L194.0 174.7 L194.1 174.7 L194.2 174.7 L194.3 174.7 L194.4 174.7 L194.5 174.7 L194.6 174.7 L194.7 174.7 L194.8 174.7 L194.9 174.7 L195.0 174.7" fill="none" stroke="#FF535A" stroke-width="1.35" stroke-linejoin="round" />
<path d="M199.3 174.7 L199.4 174.7 L199.5 174.7 L199.6 174.7 L199.7 174.7 L199.8 174.7 L199.9 174.7 L200.0 174.7 L200.1 174.7 L200.2 174.7 L200.3 174.7 L200.4 174.7 L200.5 174.7 L200.6 174.7 L200.7 174.7 L200.8 174.7 L200.9 174.7 L201.0 174.7 L201.1 174.7 L201.2 174.7 L201.3 174.7 L201.4 174.7 L201.5 174.7 L201.6 174.7 L201.7 174.7 L201.8 174.7 L201.9 174.7 L202.0 174.7 L202.1 174.7 L202.2 174.7 L202.3 174.7 L202.4 174.7 L202.5 174.7 L202.6 174.7 L202.7 174.7 L202.8 174.7 L202.9 174.7 L203.0 174.7 L203.1 174.7 L203.2 174.7 L203.3 174.7 L203.4 174.7 L203.5 174.7 L203.6 174.7 L203.7 174.7 L203.8 174.7 L203.9 174.7 L204.0 174.7 L204.1 174.7 L204.2 174.7 L204.3 174.7 L204.4 174.7 L204.5 174.7 L204.6 174.7 L204.7 174.7 L204.8 174.7 L204.9 174.7 L205.0 174.7 L205.1 174.7 L205.2 174.7 L205.3 174.7 L205.4 174.7 L205.5 174.7 L205.6 174.7 L205.7 174.7 L205.8 174.7 L205.9 174.7 L206.0 174.7 L206.1 174.7 L206.2 174.7 L206.3 174.7 L206.4 174.7 L206.5 174.7 L206.6 174.7 L206.7 174.7 L206.8 174.7 L206.9 174.7 L207.0 174.7 L207.1 174.7 L207.2 174.7 L207.3 174.7 L207.4 174.7 L207.5 174.7 L207.6 174.7 L207.7 174.7 L207.8 174.7 L207.9 174.7 L208.0 174.7 L208.1 174.7 L208.2 174.7 L208.3 174.7 L208.4 174.7 L208.5 174.7 L208.6 174.7 L208.7 174.7 L208.8 174.7 L208.9 174.7 L209.0 174.7 L209.1 174.7 L209.2 174.7 L209.3 174.7 L209.4 174.7 L209.5 174.7 L209.6 174.7 L209.7 174.7 L209.8 174.7 L209.9 174.7 L210.0 174.7 L210.1 174.7 L210.2 174.7 L210.3 174.7 L210.4 174.7 L210.5 174.7 L210.6 174.7 L210.7 174.7 L210.8 174.7 L210.9 174.7 L211.0 174.7 L211.1 174.7 L211.2 174.7 L211.3 174.7 L211.4 174.7 L211.5 174.7 L211.6 174.7 L211.7 174.7 L211.8 174.7 L211.9 174.7 L212.0 174.7 L212.1 174.7 L212.2 174.7 L212.3 174.7 L212.4 174.7 L212.5 174.7 L212.6 174.7 L212.7 174.7 L212.8 174.7 L212.9 174.7 L213.0 174.7 L213.1 174.7 L213.2 174.7 L213.3 174.7 L213.4 174.7 L213.5 174.7 L213.6 174.7 L213.7 174.7 L213.8 174.7 L213.9 174.7 L214.0 174.7 L214.1 174.7 L214.2 174.7 L214.3 174.7 L214.4 174.7 L214.5 174.7 L214.6 174.7 L214.7 174.7 L214.8 174.7 L214.9 174.7 L215.0 174.7 L215.1 174.7 L215.2 174.7 L215.3 174.7 L215.4 174.7 L215.5 174.7 L215.6 174.7 L215.7 174.7 L215.8 174.7 L215.9 174.7 L216.0 174.7 L216.1 174.7 L216.2 174.7 L216.3 174.7 L216.4 174.7 L216.5 174.7 L216.6 174.7 L216.7 174.7 L216.8 174.7 L216.9 174.7 L217.0 174.7 L217.1 174.7 L217.2 174.7 L217.3 174.7 L217.4 174.7 L217.5 174.7 L217.6 174.7 L217.7 174.7 L217.8 174.7 L217.9 174.7 L218.0 174.7 L218.1 174.7 L218.2 174.7 L218.3 174.7 L218.4 174.7 L218.5 174.7 L218.6 174.7 L218.7 174.7 L218.8 174.7 L218.9 174.7 L219.0 174.7 L219.1 174.7 L219.2 174.7 L219.3 174.7 L219.4 174.7 L219.5 174.7 L219.6 174.7 L219.7 174.7 L219.8 174.7 L219.9 174.7 L220.0 174.7 L220.1 174.7 L220.2 174.7 L220.3 174.7 L220.4 174.7 L220.5 174.7 L220.6 174.7 L220.7 174.7 L220.8 174.7 L220.9 174.7 L221.0 174.7 L221.1 174.7 L221.2 174.7 L221.3 174.7 L221.4 174.7 L221.5 174.7 L221.6 174.7 L221.7 174.7 L221.8 174.7 L221.9 174.7 L222.0 174.7 L222.1 174.7 L222.2 174.7 L222.3 174.7 L222.4 174.7 L222.5 174.7 L222.6 174.7 L222.7 174.7 L222.8 174.7 L222.9 174.7 L223.0 174.7 L223.1 174.7 L223.2 174.7 L223.3 174.7 L223.4 174.7 L223.5 174.7 L223.6 174.7 L223.7 174.7 L223.8 174.7 L223.9 174.7 L224.0 174.7 L224.1 174.7 L224.2 174.7 L224.3 174.7 L224.4 174.7 L224.5 174.7 L224.6 174.7 L224.7 174.7 L224.8 174.7 L224.9 174.7 L225.0 174.7 L225.1 174.7 L225.2 174.7 L225.3 174.7 L225.4 174.7 L225.5 174.7 L225.6 174.7 L225.7 174.7 L225.8 174.7 L225.9 174.7 L226.0 174.7 L226.1 174.7 L226.2 174.7 L226.3 174.7 L226.4 174.7 L226.5 174.7 L226.6 174.7 L226.7 174.7 L226.8 174.7 L226.9 174.7 L227.0 174.7 L227.1 174.7 L227.2 174.7 L227.3 174.7 L227.4 174.7 L227.5 174.7 L227.6 174.7 L227.7 174.7 L227.8 174.7 L227.9 174.7 L228.0 174.7 L228.1 174.7 L228.2 174.7 L228.3 174.7 L228.4 174.7 L228.5 174.7 L228.6 174.7 L228.7 174.7 L228.8 174.7 L228.9 174.7 L229.0 174.7 L229.1 174.7 L229.2 174.7 L229.3 174.7 L229.4 174.7 L229.5 174.7 L229.6 174.7 L229.7 174.7 L229.8 174.7 L229.9 174.7 L230.0 174.7 L230.1 174.7 L230.2 174.7 L230.3 174.7 L230.4 174.7 L230.5 174.7 L230.6 174.7 L230.7 174.7 L230.8 174.7 L230.9 174.7 L231.0 174.7 L231.1 174.7 L231.2 174.7 L231.3 174.7 L231.4 174.7 L231.5 174.7 L231.6 174.7 L231.7 174.7 L231.8 174.7 L231.9 174.7 L232.0 174.7 L232.1 174.7 L232.2 174.7 L232.3 174.7 L232.4 174.7 L232.5 174.7 L232.6 174.7 L232.7 174.7 L232.8 174.7 L232.9 174.7 L233.0 174.7 L233.1 174.7 L233.2 174.7 L233.3 174.7 L233.4 174.7 L233.5 174.7 L233.6 174.7 L233.7 174.7 L233.8 174.7 L233.9 174.7 L234.0 174.7 L234.1 174.7 L234.2 174.7 L234.3 174.7 L234.4 174.7 L234.5 174.7 L234.6 174.7 L234.7 174.7 L234.8 174.7 L234.9 174.7 L235.0 174.7 L235.1 174.7 L235.2 174.7 L235.3 174.7 L235.4 174.7 L235.5 174.7 L235.6 174.7 L235.7 174.7 L235.8 174.7 L235.9 174.7 L236.0 174.7 L236.1 174.7 L236.2 174.7 L236.3 174.7 L236.4 174.7 L236.5 174.7 L236.6 174.7 L236.7 174.7 L236.8 174.7 L236.9 174.7 L237.0 174.7 L237.1 174.7 L237.2 174.7 L237.3 174.7 L237.4 174.7 L237.5 174.7 L237.6 174.7 L237.7 174.7 L237.8 174.7 L237.9 174.7 L238.0 174.7 L238.1 174.7 L238.2 174.7 L238.3 174.7 L238.4 174.7 L238.5 174.7 L238.6 174.7 L238.7 174.7 L238.8 174.7 L238.9 174.7 L239.0 174.7 L239.1 174.7 L239.2 174.7 L239.3 174.7 L239.4 174.7 L239.5 174.7 L239.6 174.7 L239.7 174.7 L239.8 174.7 L239.9 174.7 L240.0 174.7 L240.1 174.7 L240.2 174.7 L240.3 174.7 L240.4 174.7 L240.5 174.7 L240.6 174.7 L240.7 174.7 L240.8 174.7 L240.9 174.7 L241.0 174.7 L241.1 174.7 L241.2 174.7 L241.3 174.7 L241.4 174.7 L241.5 174.7 L241.6 174.7 L241.7 174.7 L241.8 174.7 L241.9 174.7 L242.0 174.7 L242.1 174.7 L242.2 174.7 L242.3 174.7 L242.4 174.7 L242.5 174.7 L242.6 174.7 L242.7 174.7 L242.8 174.7 L242.9 174.7 L243.0 174.7 L243.1 174.7 L243.2 174.7 L243.3 174.7 L243.4 174.7 L243.5 174.7 L243.6 174.7 L243.7 174.7 L243.8 174.7 L243.9 174.7 L244.0 174.7 L244.1 174.7 L244.2 174.7 L244.3 174.7 L244.4 174.7 L244.5 174.7 L244.6 174.7 L244.7 174.7 L244.8 174.7 L244.9 174.7 L245.0 174.7 L245.1 174.7 L245.2 174.7 L245.3 174.7 L245.4 174.7 L245.5 174.7 L245.6 174.7 L245.7 174.7 L245.8 174.7 L245.9 174.7 L246.0 174.7 L246.1 174.7 L246.2 174.7 L246.3 174.7 L246.4 174.7 L246.5 174.7 L246.6 174.7 L246.7 174.7 L246.8 174.7 L246.9 174.7 L247.0 174.7 L247.1 174.7 L247.2 174.7 L247.3 174.7 L247.4 174.7 L247.5 174.7 L247.6 174.7 L247.7 174.6 L247.8 174.6 L247.9 174.5 L248.0 174.4 L248.1 174.2 L248.2 173.9 L248.3 173.4 L248.4 172.8 L248.5 172.1 L248.6 171.1 L248.7 170.1 L248.8 168.9 L248.9 167.8 L249.0 166.8 L249.1 165.9 L249.2 165.4 L249.3 165.2 L249.4 165.4 L249.5 165.9 L249.6 166.8 L249.7 167.8 L249.8 168.9 L249.9 170.1 L250.0 171.1 L250.1 172.1 L250.2 172.8 L250.3 173.4 L250.4 173.9 L250.5 174.2 L250.6 174.4 L250.7 174.5 L250.8 174.6 L250.9 174.6 L251.0 174.7 L251.1 174.7 L251.2 174.7 L251.3 174.7 L251.4 174.7 L251.5 174.7 L251.6 174.7 L251.7 174.7 L251.8 174.7 L251.9 174.7 L252.0 174.7 L252.1 174.7 L252.2 174.7 L252.3 174.7 L252.4 174.7 L252.5 174.7 L252.6 174.7 L252.7 174.7 L252.8 174.7 L252.9 174.7 L253.0 174.7 L253.1 174.7 L253.2 174.7 L253.3 174.7 L253.4 174.7 L253.5 174.7 L253.6 174.7 L253.7 174.7 L253.8 174.7 L253.9 174.7 L254.0 174.7 L254.1 174.7 L254.2 174.7 L254.3 174.7 L254.4 174.7 L254.5 174.7 L254.6 174.7 L254.7 174.7 L254.8 174.7 L254.9 174.7 L255.0 174.7 L255.1 174.7 L255.2 174.7 L255.3 174.7 L255.4 174.7 L255.5 174.7 L255.6 174.7 L255.7 174.7 L255.8 174.7 L255.9 174.7 L256.0 174.7 L256.1 174.7 L256.2 174.7 L256.3 174.7 L256.4 174.7 L256.5 174.7 L256.6 174.7 L256.7 174.7 L256.8 174.7 L256.9 174.7 L257.0 174.7 L257.1 174.7 L257.2 174.7 L257.3 174.7 L257.4 174.7 L257.5 174.7 L257.6 174.7 L257.7 174.7 L257.8 174.7 L257.9 174.7 L258.0 174.7 L258.1 174.7 L258.2 174.7 L258.3 174.7 L258.4 174.7 L258.5 174.7 L258.6 174.7 L258.7 174.7 L258.8 174.7 L258.9 174.7 L259.0 174.7 L259.1 174.7 L259.2 174.7 L259.3 174.7 L259.4 174.7 L259.5 174.7 L259.6 174.7 L259.7 174.7 L259.8 174.7 L259.9 174.7 L260.0 174.7 L260.1 174.7 L260.2 174.7 L260.3 174.7 L260.4 174.7 L260.5 174.7 L260.6 174.7 L260.7 174.7 L260.8 174.7 L260.9 174.7 L261.0 174.7 L261.1 174.7 L261.2 174.7 L261.3 174.7 L261.4 174.7 L261.5 174.7 L261.6 174.7 L261.7 174.7 L261.8 174.7 L261.9 174.7 L262.0 174.7 L262.1 174.7 L262.2 174.7 L262.3 174.7 L262.4 174.7 L262.5 174.7 L262.6 174.7 L262.7 174.7 L262.8 174.7 L262.9 174.7 L263.0 174.7 L263.1 174.7 L263.2 174.7 L263.3 174.7 L263.4 174.7 L263.5 174.7 L263.6 174.7 L263.7 174.7 L263.8 174.7 L263.9 174.7 L264.0 174.7 L264.1 174.7 L264.2 174.7 L264.3 174.7 L264.4 174.7 L264.5 174.7 L264.6 174.7 L264.7 174.7 L264.8 174.7 L264.9 174.7 L265.0 174.7 L265.1 174.7 L265.2 174.7 L265.3 174.7 L265.4 174.7 L265.5 174.7 L265.6 174.7 L265.7 174.7 L265.8 174.7 L265.9 174.7 L266.0 174.7 L266.1 174.7 L266.2 174.7 L266.3 174.7 L266.4 174.7 L266.5 174.7 L266.6 174.7 L266.7 174.7 L266.8 174.7 L266.9 174.7 L267.0 174.7 L267.1 174.7 L267.2 174.7 L267.3 174.7 L267.4 174.7 L267.5 174.7 L267.6 174.7 L267.7 174.7 L267.8 174.7 L267.9 174.7 L268.0 174.7 L268.1 174.7 L268.2 174.7 L268.3 174.7 L268.4 174.7 L268.5 174.7 L268.6 174.7 L268.7 174.7 L268.8 174.7 L268.9 174.7 L269.0 174.7 L269.1 174.7 L269.2 174.7 L269.3 174.7 L269.4 174.7 L269.5 174.7 L269.6 174.7 L269.7 174.7 L269.8 174.7 L269.9 174.7 L270.0 174.7 L270.1 174.7 L270.2 174.7 L270.3 174.7 L270.4 174.7 L270.5 174.7 L270.6 174.7 L270.7 174.7 L270.8 174.7 L270.9 174.7 L271.0 174.7 L271.1 174.7 L271.2 174.7" fill="none" stroke="#FF535A" stroke-width="1.35" stroke-linejoin="round" />
<text transform="translate(56.34 61.30) scale(1.0899 1)" fill="#111" font-size="10.20" ><tspan x="0.00" dy="0.00" font-size="10.20">C</tspan><tspan x="7.37" dy="2.75" font-size="7.34">5</tspan><tspan x="11.45" dy="-2.75" font-size="10.20">H</tspan><tspan x="18.82" dy="2.75" font-size="7.34">8</tspan><tspan x="22.90" dy="-2.75" font-size="10.20">D</tspan><tspan x="30.27" dy="2.75" font-size="7.34">2</tspan><tspan x="34.35" dy="-2.75" font-size="10.20">O</tspan></text>
<text transform="translate(55.45 141.00) scale(1.0875 1)" fill="#111" font-size="10.20" ><tspan x="0.00" dy="0.00" font-size="10.20">C</tspan><tspan x="7.37" dy="2.75" font-size="7.34">5</tspan><tspan x="11.45" dy="-2.75" font-size="10.20">H</tspan><tspan x="18.82" dy="2.75" font-size="7.34">8</tspan><tspan x="22.90" dy="-2.75" font-size="10.20">D</tspan><tspan x="30.27" dy="2.75" font-size="7.34">4</tspan><tspan x="34.35" dy="-2.75" font-size="10.20">O</tspan></text>
<text transform="translate(177.95 45.90) scale(1.0859 1)" fill="#111" font-size="10.20" ><tspan x="0.00" dy="0.00" font-size="10.20">C</tspan><tspan x="7.37" dy="2.75" font-size="7.34">5</tspan><tspan x="11.45" dy="-2.75" font-size="10.20">H</tspan><tspan x="18.82" dy="2.75" font-size="7.34">8</tspan><tspan x="22.90" dy="-2.75" font-size="10.20">O</tspan></text>
<text transform="translate(201.25 143.80) scale(1.0710 1)" fill="#111" font-size="10.20" ><tspan x="0.00" dy="0.00" font-size="10.20">C</tspan><tspan x="7.37" dy="2.75" font-size="7.34">10</tspan><tspan x="15.54" dy="-2.75" font-size="10.20">H</tspan><tspan x="22.90" dy="2.75" font-size="7.34">14</tspan><tspan x="31.07" dy="-2.75" font-size="10.20">O</tspan><tspan x="39.00" dy="2.75" font-size="7.34">2</tspan></text>
<line x1="72.70" y1="65.50" x2="49.36" y2="78.39" stroke="#222" stroke-width="0.60" />
<path d="M47.00 79.70 L49.17 77.01 L50.43 79.29 Z" fill="#222"/>
<line x1="59.80" y1="144.30" x2="35.79" y2="157.04" stroke="#222" stroke-width="0.60" />
<path d="M33.40 158.30 L35.62 155.65 L36.84 157.95 Z" fill="#222"/>
<line x1="193.70" y1="52.20" x2="170.18" y2="64.82" stroke="#222" stroke-width="0.60" />
<path d="M167.80 66.10 L170.00 63.44 L171.23 65.73 Z" fill="#222"/>
<line x1="221.30" y1="150.40" x2="242.44" y2="162.19" stroke="#222" stroke-width="0.60" />
<path d="M244.80 163.50 L241.37 163.08 L242.64 160.81 Z" fill="#222"/>
<rect x="71.43" y="337.20" width="2.00" height="2.20" fill="#F0474E"/>
<rect x="112.10" y="337.40" width="2.00" height="2.00" fill="#F0474E"/>
<rect x="152.77" y="271.50" width="2.00" height="67.90" fill="#F0474E"/>
<rect x="193.43" y="271.50" width="2.00" height="67.90" fill="#F0474E"/>
<rect x="234.10" y="319.20" width="2.00" height="20.20" fill="#F0474E"/>
<rect x="71.33" y="358.00" width="2.20" height="67.30" fill="#8A8A8A"/>
<rect x="112.15" y="382.00" width="1.90" height="43.30" fill="#8A8A8A"/>
<rect x="153.02" y="423.00" width="1.50" height="2.30" fill="#aaa"/>
<text transform="translate(215.15 269.20) scale(1.0778 1)" fill="#111" font-size="10.20" ><tspan x="0.00" dy="0.00" font-size="10.20">C</tspan><tspan x="7.37" dy="2.75" font-size="7.34">5</tspan><tspan x="11.45" dy="-2.75" font-size="10.20">H</tspan><tspan x="18.82" dy="2.75" font-size="7.34">8</tspan><tspan x="22.90" dy="-2.75" font-size="10.20">D</tspan><tspan x="30.27" dy="2.75" font-size="7.34">2</tspan><tspan x="34.35" dy="-2.75" font-size="10.20">O</tspan></text>
<text transform="translate(216.15 386.20) scale(1.0701 1)" fill="#111" font-size="10.20" ><tspan x="0.00" dy="0.00" font-size="10.20">C</tspan><tspan x="7.37" dy="2.75" font-size="7.34">5</tspan><tspan x="11.45" dy="-2.75" font-size="10.20">H</tspan><tspan x="18.82" dy="2.75" font-size="7.34">10</tspan><tspan x="26.99" dy="-2.75" font-size="10.20">O</tspan></text>
<g clip-path="url(#cl0)"><ellipse cx="407.20" cy="83.90" rx="4.75" ry="5.20" fill="url(#gcu)"/><ellipse cx="418.20" cy="83.90" rx="4.75" ry="5.20" fill="url(#gcu)"/><ellipse cx="429.20" cy="83.90" rx="4.75" ry="5.20" fill="url(#gcu)"/><ellipse cx="440.20" cy="83.90" rx="4.75" ry="5.20" fill="url(#gcu)"/></g>
<g clip-path="url(#cl1)"><ellipse cx="458.70" cy="83.80" rx="4.90" ry="5.30" fill="url(#gcu)"/><ellipse cx="470.30" cy="83.80" rx="4.90" ry="5.30" fill="url(#gcu)"/><ellipse cx="481.90" cy="83.80" rx="4.90" ry="5.30" fill="url(#gcu)"/><ellipse cx="493.50" cy="83.80" rx="4.90" ry="5.30" fill="url(#gcu)"/></g>
<g clip-path="url(#cl2)"><ellipse cx="520.50" cy="119.60" rx="5.00" ry="5.40" fill="url(#gcu)"/><ellipse cx="531.50" cy="119.60" rx="5.00" ry="5.40" fill="url(#gcu)"/><ellipse cx="542.50" cy="119.60" rx="5.00" ry="5.40" fill="url(#gcu)"/><ellipse cx="553.50" cy="119.60" rx="5.00" ry="5.40" fill="url(#gcu)"/></g>
<g clip-path="url(#cl3)"><ellipse cx="578.60" cy="99.70" rx="4.70" ry="5.00" fill="url(#gcu)"/><ellipse cx="588.70" cy="99.70" rx="4.70" ry="5.00" fill="url(#gcu)"/><ellipse cx="598.80" cy="99.70" rx="4.70" ry="5.00" fill="url(#gcu)"/><ellipse cx="608.90" cy="99.70" rx="4.70" ry="5.00" fill="url(#gcu)"/><ellipse cx="619.00" cy="99.70" rx="4.70" ry="5.00" fill="url(#gcu)"/></g>
<g clip-path="url(#cl4)"><ellipse cx="385.53" cy="184.90" rx="4.00" ry="4.6" fill="url(#gpd2)"/><ellipse cx="396.80" cy="184.90" rx="4.00" ry="4.6" fill="url(#gpd2)"/><ellipse cx="408.07" cy="184.90" rx="4.00" ry="4.6" fill="url(#gpd2)"/><ellipse cx="419.34" cy="184.90" rx="4.00" ry="4.6" fill="url(#gpd2)"/><ellipse cx="430.61" cy="184.90" rx="4.00" ry="4.6" fill="url(#gpd2)"/><ellipse cx="441.88" cy="184.90" rx="4.00" ry="4.6" fill="url(#gpd2)"/><ellipse cx="453.15" cy="184.90" rx="4.00" ry="4.6" fill="url(#gpd2)"/><ellipse cx="400.80" cy="174.40" rx="4.90" ry="5.30" fill="url(#gpd)"/><ellipse cx="412.07" cy="174.40" rx="4.90" ry="5.30" fill="url(#gpd)"/><ellipse cx="423.34" cy="174.40" rx="4.90" ry="5.30" fill="url(#gpd)"/><ellipse cx="434.61" cy="174.40" rx="4.90" ry="5.30" fill="url(#gpd)"/><ellipse cx="445.88" cy="174.40" rx="4.90" ry="5.30" fill="url(#gpd)"/></g>
<g clip-path="url(#cl5)"><ellipse cx="448.33" cy="184.70" rx="4.20" ry="4.6" fill="url(#gpd2)"/><ellipse cx="459.60" cy="184.70" rx="4.20" ry="4.6" fill="url(#gpd2)"/><ellipse cx="470.87" cy="184.70" rx="4.20" ry="4.6" fill="url(#gpd2)"/><ellipse cx="482.14" cy="184.70" rx="4.20" ry="4.6" fill="url(#gpd2)"/><ellipse cx="493.41" cy="184.70" rx="4.20" ry="4.6" fill="url(#gpd2)"/><ellipse cx="504.68" cy="184.70" rx="4.20" ry="4.6" fill="url(#gpd2)"/><ellipse cx="515.95" cy="184.70" rx="4.20" ry="4.6" fill="url(#gpd2)"/><ellipse cx="456.10" cy="173.40" rx="5.00" ry="5.50" fill="url(#gpd)"/><ellipse cx="467.37" cy="173.40" rx="5.00" ry="5.50" fill="url(#gpd)"/><ellipse cx="478.64" cy="173.40" rx="5.00" ry="5.50" fill="url(#gpd)"/><ellipse cx="489.91" cy="173.40" rx="5.00" ry="5.50" fill="url(#gpd)"/><ellipse cx="501.18" cy="173.40" rx="5.00" ry="5.50" fill="url(#gpd)"/></g>
<g clip-path="url(#cl6)"><ellipse cx="507.77" cy="186.70" rx="4.00" ry="4.6" fill="url(#gpd2)"/><ellipse cx="519.70" cy="186.70" rx="4.00" ry="4.6" fill="url(#gpd2)"/><ellipse cx="531.63" cy="186.70" rx="4.00" ry="4.6" fill="url(#gpd2)"/><ellipse cx="543.56" cy="186.70" rx="4.00" ry="4.6" fill="url(#gpd2)"/><ellipse cx="555.49" cy="186.70" rx="4.00" ry="4.6" fill="url(#gpd2)"/><ellipse cx="567.42" cy="186.70" rx="4.00" ry="4.6" fill="url(#gpd2)"/><ellipse cx="523.70" cy="175.10" rx="5.40" ry="5.70" fill="url(#gpd)"/><ellipse cx="535.63" cy="175.10" rx="5.40" ry="5.70" fill="url(#gpd)"/><ellipse cx="547.56" cy="175.10" rx="5.40" ry="5.70" fill="url(#gpd)"/><ellipse cx="559.49" cy="175.10" rx="5.40" ry="5.70" fill="url(#gpd)"/></g>
<g clip-path="url(#cl7)"><ellipse cx="574.70" cy="185.40" rx="4.00" ry="4.6" fill="url(#gpd2)"/><ellipse cx="584.40" cy="185.40" rx="4.00" ry="4.6" fill="url(#gpd2)"/><ellipse cx="594.10" cy="185.40" rx="4.00" ry="4.6" fill="url(#gpd2)"/><ellipse cx="603.80" cy="185.40" rx="4.00" ry="4.6" fill="url(#gpd2)"/><ellipse cx="613.50" cy="185.40" rx="4.00" ry="4.6" fill="url(#gpd2)"/><ellipse cx="623.20" cy="185.40" rx="4.00" ry="4.6" fill="url(#gpd2)"/><ellipse cx="632.90" cy="185.40" rx="4.00" ry="4.6" fill="url(#gpd2)"/><ellipse cx="581.70" cy="175.40" rx="4.70" ry="4.95" fill="url(#gpd)"/><ellipse cx="591.40" cy="175.40" rx="4.70" ry="4.95" fill="url(#gpd)"/><ellipse cx="601.10" cy="175.40" rx="4.70" ry="4.95" fill="url(#gpd)"/><ellipse cx="610.80" cy="175.40" rx="4.70" ry="4.95" fill="url(#gpd)"/><ellipse cx="620.50" cy="175.40" rx="4.70" ry="4.95" fill="url(#gpd)"/></g>
<g><line x1="411.10" y1="71.00" x2="414.60" y2="76.20" stroke="#7c7c7c" stroke-width="1.6"/><line x1="414.60" y1="76.20" x2="421.40" y2="75.60" stroke="#7c7c7c" stroke-width="1.6"/><line x1="421.40" y1="75.60" x2="424.40" y2="67.60" stroke="#7c7c7c" stroke-width="1.6"/><line x1="424.40" y1="67.60" x2="423.40" y2="63.20" stroke="#7c7c7c" stroke-width="1.6"/><line x1="424.40" y1="67.60" x2="432.20" y2="69.60" stroke="#7c7c7c" stroke-width="1.6"/><line x1="423.40" y1="63.20" x2="418.00" y2="62.70" stroke="#7c7c7c" stroke-width="1.6"/><line x1="423.40" y1="63.20" x2="426.30" y2="59.30" stroke="#7c7c7c" stroke-width="1.6"/><line x1="432.20" y1="69.60" x2="434.60" y2="72.80" stroke="#7c7c7c" stroke-width="1.6"/><line x1="414.60" y1="76.20" x2="412.50" y2="80.50" stroke="#7c7c7c" stroke-width="1.6"/><line x1="421.40" y1="75.60" x2="423.50" y2="80.50" stroke="#7c7c7c" stroke-width="1.6"/><circle cx="414.60" cy="76.20" r="1.95" fill="url(#gc)"/><circle cx="421.40" cy="75.60" r="1.95" fill="url(#gc)"/><circle cx="424.40" cy="67.60" r="1.95" fill="url(#gc)"/><circle cx="423.40" cy="63.20" r="1.95" fill="url(#gc)"/><circle cx="432.20" cy="69.60" r="2.10" fill="url(#go)"/><circle cx="411.10" cy="71.00" r="2.30" fill="url(#gh)"/><circle cx="418.00" cy="62.70" r="2.30" fill="url(#gh)"/><circle cx="426.30" cy="59.30" r="2.30" fill="url(#gh)"/><circle cx="434.60" cy="72.80" r="2.30" fill="url(#gh)"/></g>
<g><line x1="479.00" y1="59.80" x2="476.00" y2="64.70" stroke="#7c7c7c" stroke-width="1.6"/><line x1="483.40" y1="58.30" x2="486.30" y2="62.70" stroke="#7c7c7c" stroke-width="1.6"/><line x1="489.20" y1="58.80" x2="486.30" y2="62.70" stroke="#7c7c7c" stroke-width="1.6"/><line x1="470.20" y1="64.20" x2="476.00" y2="64.70" stroke="#7c7c7c" stroke-width="1.6"/><line x1="476.00" y1="64.70" x2="473.10" y2="67.60" stroke="#7c7c7c" stroke-width="1.6"/><line x1="476.00" y1="64.70" x2="475.50" y2="70.50" stroke="#7c7c7c" stroke-width="1.6"/><line x1="481.90" y1="68.10" x2="484.80" y2="73.00" stroke="#7c7c7c" stroke-width="1.6"/><line x1="481.90" y1="68.10" x2="487.30" y2="70.50" stroke="#7c7c7c" stroke-width="1.6"/><line x1="486.30" y1="62.70" x2="490.20" y2="66.10" stroke="#7c7c7c" stroke-width="1.6"/><line x1="473.10" y1="67.60" x2="475.50" y2="70.50" stroke="#7c7c7c" stroke-width="1.6"/><line x1="473.10" y1="67.60" x2="471.60" y2="71.00" stroke="#7c7c7c" stroke-width="1.6"/><line x1="475.50" y1="70.50" x2="471.60" y2="71.00" stroke="#7c7c7c" stroke-width="1.6"/><line x1="475.50" y1="70.50" x2="477.00" y2="75.40" stroke="#7c7c7c" stroke-width="1.6"/><line x1="467.70" y1="73.50" x2="471.60" y2="71.00" stroke="#7c7c7c" stroke-width="1.6"/><line x1="484.80" y1="73.00" x2="487.30" y2="70.50" stroke="#7c7c7c" stroke-width="1.6"/><line x1="477.00" y1="75.40" x2="475.50" y2="80.00" stroke="#7c7c7c" stroke-width="1.6"/><line x1="477.00" y1="75.40" x2="480.50" y2="80.00" stroke="#7c7c7c" stroke-width="1.6"/><circle cx="476.00" cy="64.70" r="1.95" fill="url(#gc)"/><circle cx="481.90" cy="68.10" r="1.95" fill="url(#gc)"/><circle cx="486.30" cy="62.70" r="1.95" fill="url(#gc)"/><circle cx="475.50" cy="70.50" r="1.95" fill="url(#gc)"/><circle cx="471.60" cy="71.00" r="1.95" fill="url(#gc)"/><circle cx="477.00" cy="75.40" r="1.95" fill="url(#gc)"/><circle cx="484.80" cy="73.00" r="2.10" fill="url(#go)"/><circle cx="472.10" cy="59.80" r="2.30" fill="url(#gh)"/><circle cx="479.00" cy="59.80" r="2.30" fill="url(#gh)"/><circle cx="483.40" cy="58.30" r="2.30" fill="url(#gh)"/><circle cx="489.20" cy="58.80" r="2.30" fill="url(#gh)"/><circle cx="470.20" cy="64.20" r="2.30" fill="url(#gh)"/><circle cx="490.20" cy="66.10" r="2.30" fill="url(#gh)"/><circle cx="473.10" cy="67.60" r="2.30" fill="url(#gh)"/><circle cx="467.70" cy="73.50" r="2.30" fill="url(#gh)"/><circle cx="487.30" cy="70.50" r="2.30" fill="url(#gh)"/></g>
<g><line x1="533.50" y1="87.60" x2="530.80" y2="93.60" stroke="#7c7c7c" stroke-width="1.6"/><line x1="525.90" y1="90.90" x2="530.80" y2="93.60" stroke="#7c7c7c" stroke-width="1.6"/><line x1="530.80" y1="93.60" x2="527.00" y2="94.80" stroke="#7c7c7c" stroke-width="1.6"/><line x1="530.80" y1="93.60" x2="535.10" y2="96.80" stroke="#7c7c7c" stroke-width="1.6"/><line x1="530.80" y1="93.60" x2="535.70" y2="100.10" stroke="#7c7c7c" stroke-width="1.6"/><line x1="535.10" y1="96.80" x2="535.70" y2="100.10" stroke="#7c7c7c" stroke-width="1.6"/><line x1="535.10" y1="96.80" x2="540.00" y2="100.70" stroke="#7c7c7c" stroke-width="1.6"/><line x1="535.70" y1="100.10" x2="540.00" y2="100.70" stroke="#7c7c7c" stroke-width="1.6"/><line x1="535.70" y1="100.10" x2="542.20" y2="103.80" stroke="#7c7c7c" stroke-width="1.6"/><line x1="535.70" y1="100.10" x2="530.20" y2="106.10" stroke="#7c7c7c" stroke-width="1.6"/><line x1="540.00" y1="100.70" x2="542.70" y2="93.60" stroke="#7c7c7c" stroke-width="1.6"/><line x1="540.00" y1="100.70" x2="546.50" y2="101.20" stroke="#7c7c7c" stroke-width="1.6"/><line x1="540.00" y1="100.70" x2="542.20" y2="103.80" stroke="#7c7c7c" stroke-width="1.6"/><line x1="546.50" y1="101.20" x2="550.90" y2="100.10" stroke="#7c7c7c" stroke-width="1.6"/><line x1="546.50" y1="101.20" x2="549.80" y2="103.60" stroke="#7c7c7c" stroke-width="1.6"/><line x1="546.50" y1="101.20" x2="542.20" y2="103.80" stroke="#7c7c7c" stroke-width="1.6"/><line x1="530.20" y1="106.10" x2="525.90" y2="105.00" stroke="#7c7c7c" stroke-width="1.6"/><circle cx="530.80" cy="93.60" r="1.95" fill="url(#gc)"/><circle cx="535.70" cy="100.10" r="1.95" fill="url(#gc)"/><circle cx="540.00" cy="100.70" r="1.95" fill="url(#gc)"/><circle cx="546.50" cy="101.20" r="1.95" fill="url(#gc)"/><circle cx="530.20" cy="106.10" r="2.10" fill="url(#go)"/><circle cx="533.50" cy="87.60" r="2.30" fill="url(#gh)"/><circle cx="525.90" cy="90.90" r="2.30" fill="url(#gh)"/><circle cx="527.00" cy="94.80" r="2.30" fill="url(#gh)"/><circle cx="535.10" cy="96.80" r="2.30" fill="url(#gh)"/><circle cx="542.70" cy="93.60" r="2.30" fill="url(#gh)"/><circle cx="550.90" cy="100.10" r="2.30" fill="url(#gh)"/><circle cx="549.80" cy="103.60" r="2.30" fill="url(#gh)"/><circle cx="542.20" cy="103.80" r="2.30" fill="url(#gh)"/><circle cx="525.90" cy="105.00" r="2.30" fill="url(#gh)"/></g>
<g><line x1="589.10" y1="76.80" x2="592.90" y2="80.70" stroke="#7c7c7c" stroke-width="1.6"/><line x1="596.70" y1="75.20" x2="592.90" y2="80.70" stroke="#7c7c7c" stroke-width="1.6"/><line x1="592.90" y1="80.70" x2="591.30" y2="85.00" stroke="#7c7c7c" stroke-width="1.6"/><line x1="584.80" y1="82.80" x2="591.30" y2="85.00" stroke="#7c7c7c" stroke-width="1.6"/><line x1="584.80" y1="82.80" x2="588.60" y2="89.30" stroke="#7c7c7c" stroke-width="1.6"/><line x1="591.30" y1="85.00" x2="585.30" y2="88.30" stroke="#7c7c7c" stroke-width="1.6"/><line x1="591.30" y1="85.00" x2="588.60" y2="89.30" stroke="#7c7c7c" stroke-width="1.6"/><line x1="591.30" y1="85.00" x2="598.40" y2="89.30" stroke="#7c7c7c" stroke-width="1.6"/><line x1="585.30" y1="88.30" x2="588.60" y2="89.30" stroke="#7c7c7c" stroke-width="1.6"/><line x1="598.40" y1="89.30" x2="602.20" y2="86.10" stroke="#7c7c7c" stroke-width="1.6"/><line x1="603.80" y1="80.70" x2="602.20" y2="86.10" stroke="#7c7c7c" stroke-width="1.6"/><line x1="602.20" y1="86.10" x2="607.60" y2="87.70" stroke="#7c7c7c" stroke-width="1.6"/><line x1="598.40" y1="89.30" x2="598.80" y2="95.00" stroke="#7c7c7c" stroke-width="1.6"/><circle cx="592.90" cy="80.70" r="1.95" fill="url(#gc)"/><circle cx="591.30" cy="85.00" r="1.95" fill="url(#gc)"/><circle cx="598.40" cy="89.30" r="1.95" fill="url(#gc)"/><circle cx="602.20" cy="86.10" r="1.95" fill="url(#gc)"/><circle cx="588.60" cy="89.30" r="2.10" fill="url(#go)"/><circle cx="589.10" cy="76.80" r="2.30" fill="url(#gh)"/><circle cx="596.70" cy="75.20" r="2.30" fill="url(#gh)"/><circle cx="584.80" cy="82.80" r="2.30" fill="url(#gh)"/><circle cx="585.30" cy="88.30" r="2.30" fill="url(#gh)"/><circle cx="603.80" cy="80.70" r="2.30" fill="url(#gh)"/><circle cx="607.60" cy="87.70" r="2.30" fill="url(#gh)"/></g>
<g><line x1="415.10" y1="151.80" x2="418.40" y2="156.20" stroke="#7c7c7c" stroke-width="1.6"/><line x1="418.60" y1="151.00" x2="418.40" y2="156.20" stroke="#7c7c7c" stroke-width="1.6"/><line x1="418.40" y1="156.20" x2="425.40" y2="154.60" stroke="#7c7c7c" stroke-width="1.6"/><line x1="418.40" y1="156.20" x2="420.00" y2="160.50" stroke="#7c7c7c" stroke-width="1.6"/><line x1="418.40" y1="156.20" x2="413.50" y2="161.60" stroke="#7c7c7c" stroke-width="1.6"/><line x1="420.00" y1="160.50" x2="413.50" y2="161.60" stroke="#7c7c7c" stroke-width="1.6"/><line x1="420.00" y1="160.50" x2="423.30" y2="166.50" stroke="#7c7c7c" stroke-width="1.6"/><line x1="413.50" y1="161.60" x2="411.80" y2="164.30" stroke="#7c7c7c" stroke-width="1.6"/><line x1="423.30" y1="166.50" x2="428.20" y2="167.10" stroke="#7c7c7c" stroke-width="1.6"/><line x1="428.20" y1="167.10" x2="431.40" y2="163.30" stroke="#7c7c7c" stroke-width="1.6"/><line x1="423.30" y1="166.50" x2="422.50" y2="170.00" stroke="#7c7c7c" stroke-width="1.6"/><line x1="428.20" y1="167.10" x2="429.50" y2="170.00" stroke="#7c7c7c" stroke-width="1.6"/><circle cx="418.40" cy="156.20" r="1.95" fill="url(#gc)"/><circle cx="420.00" cy="160.50" r="1.95" fill="url(#gc)"/><circle cx="423.30" cy="166.50" r="1.95" fill="url(#gc)"/><circle cx="428.20" cy="167.10" r="1.95" fill="url(#gc)"/><circle cx="413.50" cy="161.60" r="2.10" fill="url(#go)"/><circle cx="415.10" cy="151.80" r="2.30" fill="url(#gh)"/><circle cx="418.60" cy="151.00" r="2.30" fill="url(#gh)"/><circle cx="425.40" cy="154.60" r="2.30" fill="url(#gh)"/><circle cx="411.80" cy="164.30" r="2.30" fill="url(#gh)"/><circle cx="431.40" cy="163.30" r="2.30" fill="url(#gh)"/></g>
<g><line x1="475.10" y1="151.30" x2="480.00" y2="149.70" stroke="#7c7c7c" stroke-width="1.6"/><line x1="475.10" y1="151.30" x2="469.10" y2="157.30" stroke="#7c7c7c" stroke-width="1.6"/><line x1="475.10" y1="151.30" x2="475.10" y2="157.30" stroke="#7c7c7c" stroke-width="1.6"/><line x1="465.90" y1="152.40" x2="469.10" y2="157.30" stroke="#7c7c7c" stroke-width="1.6"/><line x1="469.10" y1="157.30" x2="464.20" y2="158.40" stroke="#7c7c7c" stroke-width="1.6"/><line x1="469.10" y1="157.30" x2="475.10" y2="157.30" stroke="#7c7c7c" stroke-width="1.6"/><line x1="469.10" y1="157.30" x2="466.40" y2="162.70" stroke="#7c7c7c" stroke-width="1.6"/><line x1="469.10" y1="157.30" x2="471.30" y2="162.20" stroke="#7c7c7c" stroke-width="1.6"/><line x1="475.10" y1="157.30" x2="477.80" y2="162.70" stroke="#7c7c7c" stroke-width="1.6"/><line x1="475.10" y1="157.30" x2="471.30" y2="162.20" stroke="#7c7c7c" stroke-width="1.6"/><line x1="475.10" y1="157.30" x2="474.60" y2="166.00" stroke="#7c7c7c" stroke-width="1.6"/><line x1="477.80" y1="162.70" x2="471.30" y2="162.20" stroke="#7c7c7c" stroke-width="1.6"/><line x1="477.80" y1="162.70" x2="482.70" y2="161.60" stroke="#7c7c7c" stroke-width="1.6"/><line x1="477.80" y1="162.70" x2="474.60" y2="166.00" stroke="#7c7c7c" stroke-width="1.6"/><line x1="471.30" y1="162.20" x2="474.60" y2="166.00" stroke="#7c7c7c" stroke-width="1.6"/><line x1="474.60" y1="166.00" x2="473.50" y2="170.00" stroke="#7c7c7c" stroke-width="1.6"/><circle cx="469.10" cy="157.30" r="1.95" fill="url(#gc)"/><circle cx="475.10" cy="157.30" r="1.95" fill="url(#gc)"/><circle cx="477.80" cy="162.70" r="1.95" fill="url(#gc)"/><circle cx="474.60" cy="166.00" r="1.95" fill="url(#gc)"/><circle cx="475.10" cy="151.30" r="2.10" fill="url(#go)"/><circle cx="480.00" cy="149.70" r="2.30" fill="url(#gh)"/><circle cx="465.90" cy="152.40" r="2.30" fill="url(#gh)"/><circle cx="464.20" cy="158.40" r="2.30" fill="url(#gh)"/><circle cx="483.80" cy="155.70" r="2.30" fill="url(#gh)"/><circle cx="466.40" cy="162.70" r="2.30" fill="url(#gh)"/><circle cx="471.30" cy="162.20" r="2.30" fill="url(#gh)"/><circle cx="482.70" cy="161.60" r="2.30" fill="url(#gh)"/></g>
<g><line x1="535.70" y1="149.10" x2="540.00" y2="152.90" stroke="#7c7c7c" stroke-width="1.6"/><line x1="543.30" y1="148.60" x2="540.00" y2="152.90" stroke="#7c7c7c" stroke-width="1.6"/><line x1="540.00" y1="152.90" x2="543.80" y2="152.40" stroke="#7c7c7c" stroke-width="1.6"/><line x1="540.00" y1="152.90" x2="537.30" y2="158.40" stroke="#7c7c7c" stroke-width="1.6"/><line x1="540.00" y1="152.90" x2="539.50" y2="161.60" stroke="#7c7c7c" stroke-width="1.6"/><line x1="531.30" y1="155.70" x2="537.30" y2="158.40" stroke="#7c7c7c" stroke-width="1.6"/><line x1="537.30" y1="158.40" x2="533.50" y2="161.60" stroke="#7c7c7c" stroke-width="1.6"/><line x1="537.30" y1="158.40" x2="539.50" y2="161.60" stroke="#7c7c7c" stroke-width="1.6"/><line x1="537.30" y1="158.40" x2="535.70" y2="166.00" stroke="#7c7c7c" stroke-width="1.6"/><line x1="530.20" y1="162.20" x2="535.70" y2="166.00" stroke="#7c7c7c" stroke-width="1.6"/><line x1="533.50" y1="161.60" x2="539.50" y2="161.60" stroke="#7c7c7c" stroke-width="1.6"/><line x1="533.50" y1="161.60" x2="535.70" y2="166.00" stroke="#7c7c7c" stroke-width="1.6"/><line x1="539.50" y1="161.60" x2="545.40" y2="162.70" stroke="#7c7c7c" stroke-width="1.6"/><line x1="539.50" y1="161.60" x2="535.70" y2="166.00" stroke="#7c7c7c" stroke-width="1.6"/><line x1="545.40" y1="162.70" x2="549.20" y2="159.50" stroke="#7c7c7c" stroke-width="1.6"/><line x1="535.70" y1="166.00" x2="535.20" y2="170.00" stroke="#7c7c7c" stroke-width="1.6"/><circle cx="540.00" cy="152.90" r="1.95" fill="url(#gc)"/><circle cx="537.30" cy="158.40" r="1.95" fill="url(#gc)"/><circle cx="539.50" cy="161.60" r="1.95" fill="url(#gc)"/><circle cx="535.70" cy="166.00" r="1.95" fill="url(#gc)"/><circle cx="545.40" cy="162.70" r="2.10" fill="url(#go)"/><circle cx="535.70" cy="149.10" r="2.30" fill="url(#gh)"/><circle cx="543.30" cy="148.60" r="2.30" fill="url(#gh)"/><circle cx="543.80" cy="152.40" r="2.30" fill="url(#gh)"/><circle cx="531.30" cy="155.70" r="2.30" fill="url(#gh)"/><circle cx="530.20" cy="162.20" r="2.30" fill="url(#gh)"/><circle cx="533.50" cy="161.60" r="2.30" fill="url(#gh)"/><circle cx="549.20" cy="159.50" r="2.30" fill="url(#gh)"/></g>
<g><line x1="592.40" y1="151.30" x2="592.40" y2="155.70" stroke="#7c7c7c" stroke-width="1.6"/><line x1="592.40" y1="151.30" x2="597.30" y2="154.60" stroke="#7c7c7c" stroke-width="1.6"/><line x1="596.70" y1="149.10" x2="597.30" y2="154.60" stroke="#7c7c7c" stroke-width="1.6"/><line x1="592.40" y1="155.70" x2="597.30" y2="154.60" stroke="#7c7c7c" stroke-width="1.6"/><line x1="592.40" y1="155.70" x2="596.70" y2="161.60" stroke="#7c7c7c" stroke-width="1.6"/><line x1="597.30" y1="154.60" x2="602.20" y2="151.30" stroke="#7c7c7c" stroke-width="1.6"/><line x1="597.30" y1="154.60" x2="596.70" y2="161.60" stroke="#7c7c7c" stroke-width="1.6"/><line x1="596.70" y1="161.60" x2="592.40" y2="164.30" stroke="#7c7c7c" stroke-width="1.6"/><line x1="596.70" y1="161.60" x2="596.70" y2="165.40" stroke="#7c7c7c" stroke-width="1.6"/><line x1="596.70" y1="161.60" x2="601.10" y2="166.50" stroke="#7c7c7c" stroke-width="1.6"/><line x1="596.70" y1="165.40" x2="601.10" y2="166.50" stroke="#7c7c7c" stroke-width="1.6"/><line x1="601.10" y1="166.50" x2="605.40" y2="166.00" stroke="#7c7c7c" stroke-width="1.6"/><line x1="601.10" y1="166.50" x2="601.20" y2="171.00" stroke="#7c7c7c" stroke-width="1.6"/><circle cx="597.30" cy="154.60" r="1.95" fill="url(#gc)"/><circle cx="596.70" cy="161.60" r="1.95" fill="url(#gc)"/><circle cx="601.10" cy="166.50" r="1.95" fill="url(#gc)"/><circle cx="592.40" cy="155.70" r="2.10" fill="url(#go)"/><circle cx="592.40" cy="151.30" r="2.30" fill="url(#gh)"/><circle cx="596.70" cy="149.10" r="2.30" fill="url(#gh)"/><circle cx="602.20" cy="151.30" r="2.30" fill="url(#gh)"/><circle cx="606.00" cy="156.20" r="2.30" fill="url(#gh)"/><circle cx="592.40" cy="164.30" r="2.30" fill="url(#gh)"/><circle cx="596.70" cy="165.40" r="2.30" fill="url(#gh)"/><circle cx="605.40" cy="166.00" r="2.30" fill="url(#gh)"/></g>
<line x1="376.80" y1="29.90" x2="406.55" y2="124.40" stroke="#1490CF" stroke-width="1.40" stroke-dasharray="5 3.6"/>
<line x1="435.85" y1="124.40" x2="465.60" y2="111.17" stroke="#1490CF" stroke-width="1.40" stroke-dasharray="5 3.6"/>
<line x1="494.90" y1="111.17" x2="524.65" y2="128.81" stroke="#1490CF" stroke-width="1.40" stroke-dasharray="5 3.6"/>
<line x1="553.95" y1="128.81" x2="583.70" y2="121.25" stroke="#1490CF" stroke-width="1.40" stroke-dasharray="5 3.6"/>
<line x1="613.00" y1="121.25" x2="642.75" y2="181.73" stroke="#1490CF" stroke-width="1.40" stroke-dasharray="5 3.6"/>
<line x1="406.55" y1="124.40" x2="435.85" y2="124.40" stroke="#1490CF" stroke-width="2.30" />
<line x1="465.60" y1="111.17" x2="494.90" y2="111.17" stroke="#1490CF" stroke-width="2.30" />
<line x1="524.65" y1="128.81" x2="553.95" y2="128.81" stroke="#1490CF" stroke-width="2.30" />
<line x1="583.70" y1="121.25" x2="613.00" y2="121.25" stroke="#1490CF" stroke-width="2.30" />
<line x1="376.80" y1="29.90" x2="406.55" y2="49.43" stroke="#E2454B" stroke-width="1.30" stroke-dasharray="5 3.6"/>
<line x1="435.85" y1="49.43" x2="465.60" y2="48.17" stroke="#E2454B" stroke-width="1.30" stroke-dasharray="5 3.6"/>
<line x1="494.90" y1="48.17" x2="524.65" y2="79.04" stroke="#E2454B" stroke-width="1.30" stroke-dasharray="5 3.6"/>
<line x1="553.95" y1="79.04" x2="583.70" y2="65.18" stroke="#E2454B" stroke-width="1.30" stroke-dasharray="5 3.6"/>
<line x1="613.00" y1="65.18" x2="642.75" y2="181.73" stroke="#E2454B" stroke-width="1.30" stroke-dasharray="5 3.6"/>
<line x1="348.10" y1="29.90" x2="376.80" y2="29.90" stroke="#E2454B" stroke-width="2.30" />
<line x1="406.55" y1="49.43" x2="435.85" y2="49.43" stroke="#E2454B" stroke-width="2.30" />
<line x1="465.60" y1="48.17" x2="494.90" y2="48.17" stroke="#E2454B" stroke-width="2.30" />
<line x1="524.65" y1="79.04" x2="553.95" y2="79.04" stroke="#E2454B" stroke-width="2.30" />
<line x1="583.70" y1="65.18" x2="613.00" y2="65.18" stroke="#E2454B" stroke-width="2.30" />
<line x1="642.75" y1="181.73" x2="672.10" y2="181.73" stroke="#E2454B" stroke-width="2.30" />
<line x1="644.25" y1="122.51" x2="672.10" y2="122.51" stroke="#E2454B" stroke-width="2.30" />
<text transform="translate(409.58 42.60) scale(0.9222 1)" fill="#111" font-size="10.20" ><tspan x="0.00" dy="0.00" font-size="10.20">-0.31</tspan></text>
<text transform="translate(467.96 42.10) scale(0.9670 1)" fill="#111" font-size="10.20" ><tspan x="0.00" dy="0.00" font-size="10.20">-0.29</tspan></text>
<text transform="translate(528.58 73.30) scale(0.9201 1)" fill="#111" font-size="10.20" ><tspan x="0.00" dy="0.00" font-size="10.20">-0.78</tspan></text>
<text transform="translate(586.95 59.30) scale(0.9782 1)" fill="#111" font-size="10.20" ><tspan x="0.00" dy="0.00" font-size="10.20">-0.56</tspan></text>
<text transform="translate(410.06 139.10) scale(0.9581 1)" fill="#111" font-size="10.20" ><tspan x="0.00" dy="0.00" font-size="10.20">-1.50</tspan></text>
<text transform="translate(468.37 125.50) scale(0.9446 1)" fill="#111" font-size="10.20" ><tspan x="0.00" dy="0.00" font-size="10.20">-1.29</tspan></text>
<text transform="translate(528.17 139.70) scale(0.9288 1)" fill="#111" font-size="10.20" ><tspan x="0.00" dy="0.00" font-size="10.20">-1.57</tspan></text>
<text transform="translate(586.96 136.10) scale(0.9648 1)" fill="#111" font-size="10.20" ><tspan x="0.00" dy="0.00" font-size="10.20">-1.45</tspan></text>
<text transform="translate(645.76 138.00) scale(0.9602 1)" fill="#111" font-size="10.20" ><tspan x="0.00" dy="0.00" font-size="10.20">-1.47</tspan></text>
<text transform="translate(645.56 176.60) scale(0.9670 1)" fill="#111" font-size="10.20" ><tspan x="0.00" dy="0.00" font-size="10.20">-2.41</tspan></text>
<line x1="609.90" y1="24.30" x2="630.10" y2="24.30" stroke="#E2454B" stroke-width="1.50" />
<line x1="609.90" y1="36.40" x2="630.10" y2="36.40" stroke="#1490CF" stroke-width="1.50" />
<text transform="translate(633.39 27.50) scale(0.9921 1)" fill="#111" font-size="10.20" ><tspan x="0.00" dy="0.00" font-size="10.20">Cu(111)</tspan></text>
<text transform="translate(633.08 39.80) scale(1.0089 1)" fill="#111" font-size="10.20" ><tspan x="0.00" dy="0.00" font-size="10.20">Pd(111)</tspan></text>
<text transform="translate(343.39 220.00) scale(1.0193 1)" fill="#111" font-size="10.00" ><tspan x="0.00" dy="0.00" font-size="10.00">C</tspan><tspan x="7.22" dy="2.70" font-size="7.20">5</tspan><tspan x="11.23" dy="-2.70" font-size="10.00">H</tspan><tspan x="18.45" dy="2.70" font-size="7.20">8</tspan><tspan x="22.45" dy="-2.70" font-size="10.00">O(g)</tspan></text>
<text transform="translate(404.85 220.00) scale(1.0091 1)" fill="#111" font-size="10.00" ><tspan x="0.00" dy="0.00" font-size="10.00">*C</tspan><tspan x="11.11" dy="2.70" font-size="7.20">5</tspan><tspan x="15.12" dy="-2.70" font-size="10.00">H</tspan><tspan x="22.34" dy="2.70" font-size="7.20">8</tspan><tspan x="26.34" dy="-2.70" font-size="10.00">O</tspan></text>
<text transform="translate(461.45 220.00) scale(0.9793 1)" fill="#111" font-size="10.00" ><tspan x="0.00" dy="0.00" font-size="10.00">*C</tspan><tspan x="11.11" dy="2.70" font-size="7.20">5</tspan><tspan x="15.12" dy="-2.70" font-size="10.00">H</tspan><tspan x="22.34" dy="2.70" font-size="7.20">9</tspan><tspan x="26.34" dy="-2.70" font-size="10.00">O</tspan></text>
<text transform="translate(518.35 220.00) scale(1.0000 1)" fill="#111" font-size="10.00" ><tspan x="0.00" dy="0.00" font-size="10.00">*C</tspan><tspan x="11.11" dy="2.70" font-size="7.20">5</tspan><tspan x="15.12" dy="-2.70" font-size="10.00">H</tspan><tspan x="22.34" dy="2.70" font-size="7.20">10</tspan><tspan x="30.35" dy="-2.70" font-size="10.00">O</tspan></text>
<text transform="translate(577.45 220.00) scale(1.0118 1)" fill="#111" font-size="10.00" ><tspan x="0.00" dy="0.00" font-size="10.00">*C</tspan><tspan x="11.11" dy="2.70" font-size="7.20">5</tspan><tspan x="15.12" dy="-2.70" font-size="10.00">H</tspan><tspan x="22.34" dy="2.70" font-size="7.20">11</tspan><tspan x="29.81" dy="-2.70" font-size="10.00">O</tspan></text>
<text transform="translate(628.49 220.00) scale(1.0241 1)" fill="#111" font-size="10.00" ><tspan x="0.00" dy="0.00" font-size="10.00">C</tspan><tspan x="7.22" dy="2.70" font-size="7.20">5</tspan><tspan x="11.23" dy="-2.70" font-size="10.00">H</tspan><tspan x="18.45" dy="2.70" font-size="7.20">12</tspan><tspan x="26.46" dy="-2.70" font-size="10.00">O(g)</tspan></text>
<text transform="translate(625.08 117.40) scale(1.0330 1)" fill="#111" font-size="10.00" ><tspan x="0.00" dy="0.00" font-size="10.00">C</tspan><tspan x="7.22" dy="2.70" font-size="7.20">5</tspan><tspan x="11.23" dy="-2.70" font-size="10.00">H</tspan><tspan x="18.45" dy="2.70" font-size="7.20">10</tspan><tspan x="26.46" dy="-2.70" font-size="10.00">O(g)</tspan></text>
<line x1="344.90" y1="300.00" x2="671.70" y2="300.00" stroke="#FBE4E7" stroke-width="0.70" />
<line x1="344.90" y1="318.80" x2="671.70" y2="318.80" stroke="#FBE4E7" stroke-width="0.70" />
<line x1="344.90" y1="340.80" x2="671.70" y2="340.80" stroke="#FBE4E7" stroke-width="0.70" />
<line x1="344.90" y1="354.60" x2="671.70" y2="354.60" stroke="#FBE4E7" stroke-width="0.70" />
<line x1="344.90" y1="365.50" x2="671.70" y2="365.50" stroke="#FBE4E7" stroke-width="0.70" />
<line x1="344.90" y1="375.50" x2="671.70" y2="375.50" stroke="#FBE4E7" stroke-width="0.70" />
<line x1="344.90" y1="385.30" x2="671.70" y2="385.30" stroke="#FBE4E7" stroke-width="0.70" />
<line x1="344.90" y1="395.00" x2="671.70" y2="395.00" stroke="#FBE4E7" stroke-width="0.70" />
<path d="M344.90 287.60 L344.9 290.6 L345.4 290.6 L345.9 290.7 L346.4 290.8 L346.9 290.9 L347.4 290.9 L347.9 291.0 L348.4 291.1 L348.9 291.2 L349.4 291.3 L349.9 291.3 L350.4 291.4 L350.9 291.5 L351.4 291.6 L351.9 291.7 L352.4 291.8 L352.9 291.9 L353.4 292.0 L353.9 292.1 L354.4 292.2 L354.9 292.3 L355.4 292.4 L355.9 292.5 L356.4 292.6 L356.9 292.7 L357.4 292.8 L357.9 293.0 L358.4 293.1 L358.9 293.2 L359.4 293.3 L359.9 293.4 L360.4 293.6 L360.9 293.7 L361.4 293.8 L361.9 293.9 L362.4 294.1 L362.9 294.2 L363.4 294.4 L363.9 294.5 L364.4 294.6 L364.9 294.8 L365.4 294.9 L365.9 295.1 L366.4 295.2 L366.9 295.4 L367.4 295.5 L367.9 295.7 L368.4 295.9 L368.9 296.0 L369.4 296.2 L369.9 296.4 L370.4 296.5 L370.9 296.7 L371.4 296.9 L371.9 297.1 L372.4 297.3 L372.9 297.4 L373.4 297.6 L373.9 297.8 L374.4 298.0 L374.9 298.2 L375.4 298.4 L375.9 298.6 L376.4 298.8 L376.9 299.0 L377.4 299.3 L377.9 299.5 L378.4 299.7 L378.9 299.9 L379.4 300.2 L379.9 300.4 L380.4 300.6 L380.9 300.9 L381.4 301.1 L381.9 301.3 L382.4 301.6 L382.9 301.8 L383.4 302.1 L383.9 302.4 L384.4 302.6 L384.9 302.9 L385.4 303.2 L385.9 303.4 L386.4 303.7 L386.9 304.0 L387.4 304.3 L387.9 304.6 L388.4 304.9 L388.9 305.2 L389.4 305.5 L389.9 305.8 L390.4 306.1 L390.9 306.4 L391.4 306.7 L391.9 307.1 L392.4 307.4 L392.9 307.7 L393.4 308.1 L393.9 308.4 L394.4 308.8 L394.9 309.1 L395.4 309.5 L395.9 309.9 L396.4 310.2 L396.9 310.6 L397.4 311.0 L397.9 311.4 L398.4 311.8 L398.9 312.2 L399.4 312.6 L399.9 313.0 L400.4 313.4 L400.9 313.8 L401.4 314.3 L401.9 314.7 L402.4 315.1 L402.9 315.6 L403.4 316.0 L403.9 316.5 L404.4 317.0 L404.9 317.4 L405.4 317.9 L405.9 318.4 L406.4 318.9 L406.9 319.4 L407.4 319.9 L407.9 320.4 L408.4 321.0 L408.9 321.5 L409.4 322.0 L409.9 322.6 L410.4 323.1 L410.9 323.7 L411.4 324.3 L411.9 324.9 L412.4 325.4 L412.9 326.0 L413.4 326.6 L413.9 327.3 L414.4 327.9 L414.9 328.5 L415.4 329.2 L415.9 329.8 L416.4 330.5 L416.9 331.1 L417.4 331.8 L417.9 332.5 L418.4 333.2 L418.9 333.9 L419.4 334.6 L419.9 335.4 L420.4 336.1 L420.9 336.8 L421.4 337.6 L421.9 338.4 L422.4 339.2 L422.9 340.0 L423.4 340.8 L423.9 341.6 L424.4 342.4 L424.9 343.2 L425.4 344.1 L425.9 345.0 L426.4 345.8 L426.9 346.7 L427.4 347.6 L427.9 348.5 L428.4 349.5 L428.9 350.4 L429.4 351.4 L429.9 352.3 L430.4 353.3 L430.9 354.3 L431.4 355.3 L431.9 356.3 L432.4 357.3 L432.9 358.4 L433.4 359.4 L433.9 360.5 L434.4 361.6 L434.9 362.7 L435.4 363.8 L435.9 364.9 L436.4 366.1 L436.9 367.2 L437.4 368.4 L437.9 369.5 L438.4 370.7 L438.9 371.9 L439.4 373.1 L439.9 374.3 L440.4 375.6 L440.9 376.8 L441.4 378.0 L441.9 379.3 L442.4 380.5 L442.9 381.7 L443.4 383.0 L443.9 384.2 L444.4 385.4 L444.9 386.6 L445.4 387.7 L445.9 388.8 L446.4 389.9 L446.9 390.9 L447.4 391.9 L447.9 392.7 L448.4 393.5 L448.9 394.1 L449.4 394.6 L449.9 394.9 L450.4 395.0 L450.9 395.0 L451.4 394.8 L451.9 394.5 L452.4 394.1 L452.9 393.5 L453.4 392.9 L453.9 392.1 L454.4 391.2 L454.9 390.1 L455.4 389.0 L455.9 387.7 L456.4 386.4 L456.9 384.9 L457.4 383.4 L457.9 381.7 L458.4 380.0 L458.9 378.2 L459.4 376.3 L459.9 374.3 L460.4 372.3 L460.9 370.2 L461.4 368.0 L461.9 365.7 L462.4 363.4 L462.9 360.9 L463.4 358.3 L463.9 355.6 L464.4 352.5 L464.9 349.2 L465.4 345.4 L465.9 340.9 L466.4 335.8 L466.9 329.9 L467.4 323.3 L467.9 316.3 L468.4 309.3 L468.9 302.9 L469.4 297.3 L469.9 292.7 L470.4 289.1 L470.9 286.1 L471.4 283.7 L471.9 281.6 L472.4 279.8 L472.9 278.1 L473.4 276.5 L473.9 275.0 L474.4 273.7 L474.9 272.6 L475.4 271.7 L475.9 271.2 L476.4 271.0 L476.9 271.0 L477.4 271.1 L477.9 271.2 L478.4 271.4 L478.9 271.7 L479.4 272.0 L479.9 272.4 L480.4 272.8 L480.9 273.3 L481.4 273.8 L481.9 274.3 L482.4 274.9 L482.9 275.4 L483.4 276.0 L483.9 276.7 L484.4 277.3 L484.9 277.9 L485.4 278.5 L485.9 279.1 L486.4 279.6 L486.9 280.2 L487.4 280.6 L487.9 281.1 L488.4 281.5 L488.9 281.9 L489.4 282.2 L489.9 282.5 L490.4 282.8 L490.9 283.1 L491.4 283.5 L491.9 284.0 L492.4 284.4 L492.9 284.9 L493.4 285.2 L493.9 285.3 L494.4 285.1 L494.9 284.9 L495.4 284.9 L495.9 285.1 L496.4 285.4 L496.9 285.5 L497.4 285.2 L497.9 284.6 L498.4 284.0 L498.9 283.7 L499.4 283.8 L499.9 284.2 L500.4 284.8 L500.9 285.4 L501.4 285.8 L501.9 286.0 L502.4 286.0 L502.9 286.1 L503.4 286.2 L503.9 286.4 L504.4 286.8 L504.9 287.1 L505.4 287.5 L505.9 288.0 L506.4 288.6 L506.9 288.8 L507.4 288.7 L507.9 288.2 L508.4 287.7 L508.9 287.5 L509.4 287.6 L509.9 287.9 L510.4 288.1 L510.9 288.2 L511.4 288.2 L511.9 288.3 L512.4 288.4 L512.9 288.4 L513.4 288.4 L513.9 288.2 L514.4 288.2 L514.9 288.2 L515.4 288.4 L515.9 288.7 L516.4 288.9 L516.9 289.0 L517.4 288.7 L517.9 288.2 L518.4 287.4 L518.9 286.6 L519.4 285.9 L519.9 285.6 L520.4 285.6 L520.9 285.9 L521.4 286.3 L521.9 286.6 L522.4 286.9 L522.9 287.2 L523.4 287.5 L523.9 287.8 L524.4 288.0 L524.9 288.1 L525.4 288.1 L525.9 288.0 L526.4 287.7 L526.9 287.3 L527.4 286.7 L527.9 286.4 L528.4 286.5 L528.9 286.9 L529.4 287.5 L529.9 287.9 L530.4 288.1 L530.9 288.2 L531.4 288.1 L531.9 287.8 L532.4 287.4 L532.9 287.2 L533.4 287.3 L533.9 287.8 L534.4 288.5 L534.9 289.1 L535.4 289.4 L535.9 289.3 L536.4 289.0 L536.9 288.5 L537.4 288.1 L537.9 287.7 L538.4 287.3 L538.9 287.0 L539.4 286.9 L539.9 287.0 L540.4 287.2 L540.9 287.2 L541.4 286.9 L541.9 286.5 L542.4 286.1 L542.9 286.0 L543.4 286.2 L543.9 286.7 L544.4 287.1 L544.9 287.4 L545.4 287.7 L545.9 287.9 L546.4 288.0 L546.9 288.0 L547.4 287.8 L547.9 287.6 L548.4 287.4 L548.9 287.2 L549.4 286.9 L549.9 286.7 L550.4 286.7 L550.9 286.8 L551.4 287.0 L551.9 287.3 L552.4 287.7 L552.9 288.2 L553.4 288.7 L553.9 289.1 L554.4 289.3 L554.9 289.2 L555.4 288.9 L555.9 288.4 L556.4 287.9 L556.9 287.4 L557.4 286.7 L557.9 286.1 L558.4 285.5 L558.9 285.1 L559.4 284.9 L559.9 284.7 L560.4 284.6 L560.9 284.6 L561.4 284.6 L561.9 284.6 L562.4 284.5 L562.9 284.6 L563.4 285.0 L563.9 285.5 L564.4 285.9 L564.9 286.3 L565.4 286.5 L565.9 286.8 L566.4 287.2 L566.9 287.5 L567.4 287.8 L567.9 288.0 L568.4 288.2 L568.9 288.3 L569.4 288.1 L569.9 287.7 L570.4 287.2 L570.9 286.9 L571.4 286.9 L571.9 287.2 L572.4 287.6 L572.9 287.7 L573.4 287.4 L573.9 286.9 L574.4 286.5 L574.9 286.4 L575.4 286.6 L575.9 287.0 L576.4 287.4 L576.9 287.5 L577.4 287.2 L577.9 286.7 L578.4 286.0 L578.9 285.5 L579.4 285.2 L579.9 285.1 L580.4 285.1 L580.9 285.2 L581.4 285.5 L581.9 285.7 L582.4 285.8 L582.9 285.6 L583.4 285.5 L583.9 285.5 L584.4 285.8 L584.9 286.4 L585.4 287.0 L585.9 287.6 L586.4 287.8 L586.9 287.6 L587.4 287.1 L587.9 286.5 L588.4 285.9 L588.9 285.3 L589.4 284.8 L589.9 284.4 L590.4 284.1 L590.9 284.1 L591.4 284.1 L591.9 284.0 L592.4 283.7 L592.9 283.4 L593.4 283.3 L593.9 283.5 L594.4 284.1 L594.9 284.8 L595.4 285.4 L595.9 285.9 L596.4 286.3 L596.9 287.0 L597.4 287.7 L597.9 288.4 L598.4 289.2 L598.9 290.3 L599.4 291.5 L599.9 292.4 L600.4 292.8 L600.9 292.8 L601.4 292.8 L601.9 293.1 L602.4 293.7 L602.9 294.2 L603.4 294.5 L603.9 294.4 L604.4 294.2 L604.9 293.9 L605.4 293.8 L605.9 293.6 L606.4 293.2 L606.9 292.5 L607.4 291.6 L607.9 290.7 L608.4 290.0 L608.9 289.5 L609.4 289.4 L609.9 289.4 L610.4 289.5 L610.9 289.7 L611.4 290.1 L611.9 290.8 L612.4 291.6 L612.9 292.3 L613.4 292.9 L613.9 293.6 L614.4 294.7 L614.9 296.0 L615.4 297.5 L615.9 299.0 L616.4 300.8 L616.9 302.7 L617.4 304.9 L617.9 307.1 L618.4 308.6 L618.9 308.0 L619.4 306.3 L619.9 304.5 L620.4 302.6 L620.9 300.9 L621.4 299.2 L621.9 297.8 L622.4 296.8 L622.9 296.0 L623.4 295.4 L623.9 294.6 L624.4 293.7 L624.9 292.8 L625.4 292.1 L625.9 291.5 L626.4 290.8 L626.9 289.9 L627.4 289.0 L627.9 288.1 L628.4 287.4 L628.9 287.0 L629.4 286.9 L629.9 286.9 L630.4 286.7 L630.9 286.4 L631.4 286.1 L631.9 285.8 L632.4 285.7 L632.9 285.6 L633.4 285.6 L633.9 285.7 L634.4 286.0 L634.9 286.2 L635.4 286.3 L635.9 286.3 L636.4 286.1 L636.9 285.7 L637.4 285.3 L637.9 285.0 L638.4 284.9 L638.9 285.1 L639.4 285.4 L639.9 285.7 L640.4 286.1 L640.9 286.4 L641.4 286.8 L641.9 287.3 L642.4 287.7 L642.9 287.7 L643.4 287.0 L643.9 286.0 L644.4 285.0 L644.9 284.5 L645.4 284.5 L645.9 284.9 L646.4 285.1 L646.9 285.2 L647.4 285.2 L647.9 285.5 L648.4 286.1 L648.9 286.6 L649.4 286.9 L649.9 286.9 L650.4 286.7 L650.9 286.5 L651.4 286.3 L651.9 286.3 L652.4 286.6 L652.9 287.0 L653.4 287.5 L653.9 287.8 L654.4 287.7 L654.9 287.0 L655.4 285.9 L655.9 284.6 L656.4 283.7 L656.9 283.4 L657.4 283.6 L657.9 284.0 L658.4 284.5 L658.9 284.9 L659.4 285.3 L659.9 285.6 L660.4 285.7 L660.9 285.6 L661.4 285.3 L661.9 285.0 L662.4 284.7 L662.9 284.6 L663.4 284.6 L663.9 284.7 L664.4 284.8 L664.9 284.8 L665.4 284.6 L665.9 284.3 L666.4 284.0 L666.9 283.8 L667.4 283.8 L667.9 283.9 L668.4 284.3 L668.9 284.9 L669.4 285.7 L669.9 286.4 L670.4 286.9 L670.9 286.8 L671.4 286.5 L671.40 286.00 Z" fill="#E32B36" stroke="none"/>
<path d="M344.90 287.60 L344.9 290.3 L345.4 290.4 L345.9 290.4 L346.4 290.5 L346.9 290.6 L347.4 290.6 L347.9 290.7 L348.4 290.8 L348.9 290.9 L349.4 290.9 L349.9 291.0 L350.4 291.1 L350.9 291.2 L351.4 291.2 L351.9 291.3 L352.4 291.4 L352.9 291.5 L353.4 291.6 L353.9 291.7 L354.4 291.8 L354.9 291.9 L355.4 292.0 L355.9 292.1 L356.4 292.2 L356.9 292.3 L357.4 292.4 L357.9 292.5 L358.4 292.6 L358.9 292.7 L359.4 292.8 L359.9 292.9 L360.4 293.0 L360.9 293.1 L361.4 293.3 L361.9 293.4 L362.4 293.5 L362.9 293.6 L363.4 293.7 L363.9 293.9 L364.4 294.0 L364.9 294.1 L365.4 294.3 L365.9 294.4 L366.4 294.5 L366.9 294.7 L367.4 294.8 L367.9 295.0 L368.4 295.1 L368.9 295.3 L369.4 295.4 L369.9 295.6 L370.4 295.7 L370.9 295.9 L371.4 296.0 L371.9 296.2 L372.4 296.4 L372.9 296.6 L373.4 296.7 L373.9 296.9 L374.4 297.1 L374.9 297.3 L375.4 297.4 L375.9 297.6 L376.4 297.8 L376.9 298.0 L377.4 298.2 L377.9 298.4 L378.4 298.6 L378.9 298.8 L379.4 299.0 L379.9 299.2 L380.4 299.4 L380.9 299.6 L381.4 299.9 L381.9 300.1 L382.4 300.3 L382.9 300.5 L383.4 300.8 L383.9 301.0 L384.4 301.3 L384.9 301.5 L385.4 301.7 L385.9 302.0 L386.4 302.2 L386.9 302.5 L387.4 302.8 L387.9 303.0 L388.4 303.3 L388.9 303.6 L389.4 303.8 L389.9 304.1 L390.4 304.4 L390.9 304.7 L391.4 305.0 L391.9 305.3 L392.4 305.6 L392.9 305.9 L393.4 306.2 L393.9 306.5 L394.4 306.8 L394.9 307.2 L395.4 307.5 L395.9 307.8 L396.4 308.2 L396.9 308.5 L397.4 308.9 L397.9 309.2 L398.4 309.6 L398.9 309.9 L399.4 310.3 L399.9 310.7 L400.4 311.1 L400.9 311.4 L401.4 311.8 L401.9 312.2 L402.4 312.6 L402.9 313.0 L403.4 313.5 L403.9 313.9 L404.4 314.3 L404.9 314.7 L405.4 315.2 L405.9 315.6 L406.4 316.1 L406.9 316.5 L407.4 317.0 L407.9 317.5 L408.4 317.9 L408.9 318.4 L409.4 318.9 L409.9 319.4 L410.4 319.9 L410.9 320.4 L411.4 320.9 L411.9 321.5 L412.4 322.0 L412.9 322.6 L413.4 323.1 L413.9 323.7 L414.4 324.2 L414.9 324.8 L415.4 325.4 L415.9 326.0 L416.4 326.6 L416.9 327.2 L417.4 327.8 L417.9 328.4 L418.4 329.1 L418.9 329.7 L419.4 330.4 L419.9 331.0 L420.4 331.7 L420.9 332.4 L421.4 333.1 L421.9 333.8 L422.4 334.5 L422.9 335.2 L423.4 335.9 L423.9 336.7 L424.4 337.4 L424.9 338.2 L425.4 339.0 L425.9 339.8 L426.4 340.6 L426.9 341.4 L427.4 342.2 L427.9 343.0 L428.4 343.9 L428.9 344.7 L429.4 345.6 L429.9 346.5 L430.4 347.4 L430.9 348.3 L431.4 349.2 L431.9 350.1 L432.4 351.0 L432.9 352.0 L433.4 352.9 L433.9 353.9 L434.4 354.9 L434.9 355.9 L435.4 356.9 L435.9 357.9 L436.4 359.0 L436.9 360.0 L437.4 361.1 L437.9 362.1 L438.4 363.2 L438.9 364.3 L439.4 365.4 L439.9 366.5 L440.4 367.6 L440.9 368.7 L441.4 369.9 L441.9 371.0 L442.4 372.1 L442.9 373.2 L443.4 374.3 L443.9 375.5 L444.4 376.6 L444.9 377.6 L445.4 378.7 L445.9 379.7 L446.4 380.7 L446.9 381.6 L447.4 382.5 L447.9 383.2 L448.4 383.9 L448.9 384.5 L449.4 384.9 L449.9 385.2 L450.4 385.3 L450.9 385.3 L451.4 385.1 L451.9 384.9 L452.4 384.5 L452.9 384.0 L453.4 383.4 L453.9 382.6 L454.4 381.8 L454.9 380.9 L455.4 379.8 L455.9 378.7 L456.4 377.4 L456.9 376.1 L457.4 374.7 L457.9 373.2 L458.4 371.6 L458.9 370.0 L459.4 368.2 L459.9 366.5 L460.4 364.6 L460.9 362.7 L461.4 360.7 L461.9 358.6 L462.4 356.5 L462.9 354.3 L463.4 351.9 L463.9 349.4 L464.4 346.7 L464.9 343.6 L465.4 340.1 L465.9 336.1 L466.4 331.4 L466.9 326.0 L467.4 320.0 L467.9 313.7 L468.4 307.3 L468.9 301.4 L469.4 296.3 L469.9 292.1 L470.4 288.8 L470.9 286.1 L471.4 283.9 L471.9 282.0 L472.4 280.2 L472.9 278.6 L473.4 277.1 L473.9 275.7 L474.4 274.5 L474.9 273.5 L475.4 272.7 L475.9 272.2 L476.4 272.0 L476.9 272.0 L477.4 272.1 L477.9 272.2 L478.4 272.4 L478.9 272.7 L479.4 273.0 L479.9 273.3 L480.4 273.7 L480.9 274.1 L481.4 274.6 L481.9 275.1 L482.4 275.6 L482.9 276.2 L483.4 276.7 L483.9 277.3 L484.4 277.9 L484.9 278.5 L485.4 279.0 L485.9 279.6 L486.4 280.1 L486.9 280.7 L487.4 281.3 L487.9 281.8 L488.4 282.3 L488.9 282.6 L489.4 282.8 L489.9 282.9 L490.4 283.1 L490.9 283.3 L491.4 283.5 L491.9 283.7 L492.4 283.7 L492.9 283.8 L493.4 283.8 L493.9 283.8 L494.4 283.9 L494.9 284.2 L495.4 284.6 L495.9 284.9 L496.4 285.2 L496.9 285.6 L497.4 285.9 L497.9 286.3 L498.4 286.7 L498.9 287.0 L499.4 287.3 L499.9 287.4 L500.4 287.4 L500.9 287.2 L501.4 286.9 L501.9 286.7 L502.4 286.6 L502.9 286.6 L503.4 286.9 L503.9 287.2 L504.4 287.4 L504.9 287.4 L505.4 287.1 L505.9 286.8 L506.4 286.7 L506.9 286.8 L507.4 287.1 L507.9 287.3 L508.4 287.4 L508.9 287.3 L509.4 287.2 L509.9 286.9 L510.4 286.6 L510.9 286.3 L511.4 286.1 L511.9 285.9 L512.4 285.9 L512.9 286.1 L513.4 286.6 L513.9 287.3 L514.4 287.7 L514.9 287.9 L515.4 287.7 L515.9 287.4 L516.4 287.1 L516.9 286.8 L517.4 286.6 L517.9 286.6 L518.4 286.7 L518.9 287.1 L519.4 287.6 L519.9 288.1 L520.4 288.2 L520.9 287.9 L521.4 287.3 L521.9 286.6 L522.4 286.0 L522.9 285.7 L523.4 285.7 L523.9 285.9 L524.4 286.1 L524.9 286.4 L525.4 286.5 L525.9 286.7 L526.4 286.7 L526.9 286.7 L527.4 286.6 L527.9 286.3 L528.4 286.1 L528.9 286.1 L529.4 286.5 L529.9 287.0 L530.4 287.4 L530.9 287.6 L531.4 287.6 L531.9 287.5 L532.4 287.6 L532.9 287.8 L533.4 288.0 L533.9 288.2 L534.4 288.3 L534.9 288.3 L535.4 288.2 L535.9 288.2 L536.4 288.1 L536.9 288.1 L537.4 287.9 L537.9 287.6 L538.4 287.3 L538.9 287.0 L539.4 286.9 L539.9 287.0 L540.4 287.0 L540.9 286.9 L541.4 286.6 L541.9 286.1 L542.4 285.8 L542.9 285.7 L543.4 285.9 L543.9 286.1 L544.4 286.3 L544.9 286.5 L545.4 286.8 L545.9 287.2 L546.4 287.6 L546.9 288.0 L547.4 288.3 L547.9 288.4 L548.4 288.3 L548.9 288.0 L549.4 287.6 L549.9 287.1 L550.4 286.8 L550.9 286.7 L551.4 286.8 L551.9 286.9 L552.4 287.1 L552.9 287.4 L553.4 287.6 L553.9 287.5 L554.4 287.3 L554.9 287.0 L555.4 286.6 L555.9 286.3 L556.4 286.0 L556.9 285.8 L557.4 285.4 L557.9 284.8 L558.4 284.3 L558.9 283.9 L559.4 283.7 L559.9 283.6 L560.4 283.6 L560.9 283.8 L561.4 284.0 L561.9 284.0 L562.4 284.0 L562.9 283.9 L563.4 283.9 L563.9 284.3 L564.4 284.9 L564.9 285.5 L565.4 286.0 L565.9 286.1 L566.4 285.9 L566.9 285.6 L567.4 285.5 L567.9 285.5 L568.4 285.7 L568.9 286.1 L569.4 286.5 L569.9 286.8 L570.4 286.8 L570.9 286.7 L571.4 286.5 L571.9 286.4 L572.4 286.2 L572.9 286.0 L573.4 285.9 L573.9 286.0 L574.4 286.3 L574.9 286.5 L575.4 286.5 L575.9 286.1 L576.4 285.7 L576.9 285.4 L577.4 285.1 L577.9 284.9 L578.4 284.7 L578.9 284.4 L579.4 284.1 L579.9 283.6 L580.4 283.1 L580.9 282.8 L581.4 282.6 L581.9 282.9 L582.4 283.4 L582.9 283.9 L583.4 284.5 L583.9 285.0 L584.4 285.4 L584.9 285.7 L585.4 285.5 L585.9 285.0 L586.4 284.5 L586.9 284.1 L587.4 283.9 L587.9 283.8 L588.4 283.8 L588.9 283.8 L589.4 283.9 L589.9 283.8 L590.4 283.6 L590.9 283.4 L591.4 283.2 L591.9 283.3 L592.4 283.6 L592.9 283.9 L593.4 284.4 L593.9 284.9 L594.4 285.5 L594.9 285.9 L595.4 286.1 L595.9 285.9 L596.4 285.5 L596.9 285.0 L597.4 284.5 L597.9 284.3 L598.4 284.2 L598.9 284.4 L599.4 284.7 L599.9 285.2 L600.4 285.9 L600.9 286.5 L601.4 287.0 L601.9 287.3 L602.4 287.6 L602.9 287.7 L603.4 287.8 L603.9 288.0 L604.4 288.3 L604.9 288.7 L605.4 289.1 L605.9 289.5 L606.4 289.6 L606.9 289.4 L607.4 288.8 L607.9 288.0 L608.4 287.3 L608.9 287.2 L609.4 287.5 L609.9 287.9 L610.4 288.3 L610.9 288.6 L611.4 288.9 L611.9 289.5 L612.4 290.4 L612.9 291.5 L613.4 292.8 L613.9 294.1 L614.4 295.2 L614.9 296.3 L615.4 297.2 L615.9 298.0 L616.4 299.0 L616.9 300.1 L617.4 301.4 L617.9 302.7 L618.4 303.8 L618.9 303.3 L619.4 302.2 L619.9 301.0 L620.4 299.8 L620.9 298.6 L621.4 297.6 L621.9 296.7 L622.4 295.8 L622.9 294.8 L623.4 293.7 L623.9 292.7 L624.4 291.7 L624.9 290.9 L625.4 290.3 L625.9 289.8 L626.4 289.5 L626.9 289.3 L627.4 289.0 L627.9 288.8 L628.4 288.6 L628.9 288.4 L629.4 288.1 L629.9 287.7 L630.4 287.2 L630.9 287.1 L631.4 287.2 L631.9 287.5 L632.4 287.5 L632.9 287.2 L633.4 286.7 L633.9 286.1 L634.4 285.6 L634.9 285.4 L635.4 285.3 L635.9 285.5 L636.4 285.7 L636.9 286.0 L637.4 286.1 L637.9 286.1 L638.4 286.1 L638.9 286.0 L639.4 285.9 L639.9 285.9 L640.4 285.9 L640.9 285.9 L641.4 286.0 L641.9 286.1 L642.4 286.1 L642.9 286.0 L643.4 285.7 L643.9 285.5 L644.4 285.6 L644.9 286.2 L645.4 286.8 L645.9 287.3 L646.4 287.4 L646.9 287.3 L647.4 287.3 L647.9 287.4 L648.4 287.7 L648.9 287.8 L649.4 287.7 L649.9 287.4 L650.4 286.9 L650.9 286.5 L651.4 286.1 L651.9 285.9 L652.4 285.9 L652.9 286.0 L653.4 286.1 L653.9 286.2 L654.4 286.3 L654.9 286.2 L655.4 286.1 L655.9 285.9 L656.4 285.8 L656.9 285.6 L657.4 285.3 L657.9 285.1 L658.4 285.0 L658.9 285.0 L659.4 284.8 L659.9 284.4 L660.4 283.9 L660.9 283.6 L661.4 283.4 L661.9 283.5 L662.4 283.7 L662.9 283.9 L663.4 283.9 L663.9 283.8 L664.4 283.6 L664.9 283.5 L665.4 283.3 L665.9 283.3 L666.4 283.2 L666.9 283.3 L667.4 283.4 L667.9 283.5 L668.4 283.7 L668.9 284.0 L669.4 284.3 L669.9 284.7 L670.4 285.2 L670.9 285.6 L671.4 285.9 L671.40 286.00 Z" fill="#E64F59" stroke="none"/>
<path d="M344.90 287.60 L344.9 290.0 L345.4 290.1 L345.9 290.1 L346.4 290.2 L346.9 290.3 L347.4 290.3 L347.9 290.4 L348.4 290.5 L348.9 290.5 L349.4 290.6 L349.9 290.7 L350.4 290.7 L350.9 290.8 L351.4 290.9 L351.9 291.0 L352.4 291.0 L352.9 291.1 L353.4 291.2 L353.9 291.3 L354.4 291.4 L354.9 291.4 L355.4 291.5 L355.9 291.6 L356.4 291.7 L356.9 291.8 L357.4 291.9 L357.9 292.0 L358.4 292.1 L358.9 292.2 L359.4 292.3 L359.9 292.4 L360.4 292.5 L360.9 292.6 L361.4 292.7 L361.9 292.8 L362.4 292.9 L362.9 293.0 L363.4 293.1 L363.9 293.2 L364.4 293.3 L364.9 293.5 L365.4 293.6 L365.9 293.7 L366.4 293.8 L366.9 294.0 L367.4 294.1 L367.9 294.2 L368.4 294.4 L368.9 294.5 L369.4 294.6 L369.9 294.8 L370.4 294.9 L370.9 295.0 L371.4 295.2 L371.9 295.3 L372.4 295.5 L372.9 295.6 L373.4 295.8 L373.9 296.0 L374.4 296.1 L374.9 296.3 L375.4 296.4 L375.9 296.6 L376.4 296.8 L376.9 297.0 L377.4 297.1 L377.9 297.3 L378.4 297.5 L378.9 297.7 L379.4 297.9 L379.9 298.0 L380.4 298.2 L380.9 298.4 L381.4 298.6 L381.9 298.8 L382.4 299.0 L382.9 299.2 L383.4 299.4 L383.9 299.7 L384.4 299.9 L384.9 300.1 L385.4 300.3 L385.9 300.5 L386.4 300.8 L386.9 301.0 L387.4 301.2 L387.9 301.5 L388.4 301.7 L388.9 302.0 L389.4 302.2 L389.9 302.5 L390.4 302.7 L390.9 303.0 L391.4 303.2 L391.9 303.5 L392.4 303.8 L392.9 304.1 L393.4 304.3 L393.9 304.6 L394.4 304.9 L394.9 305.2 L395.4 305.5 L395.9 305.8 L396.4 306.1 L396.9 306.4 L397.4 306.7 L397.9 307.0 L398.4 307.4 L398.9 307.7 L399.4 308.0 L399.9 308.4 L400.4 308.7 L400.9 309.0 L401.4 309.4 L401.9 309.7 L402.4 310.1 L402.9 310.5 L403.4 310.8 L403.9 311.2 L404.4 311.6 L404.9 312.0 L405.4 312.4 L405.9 312.8 L406.4 313.2 L406.9 313.6 L407.4 314.0 L407.9 314.4 L408.4 314.9 L408.9 315.3 L409.4 315.8 L409.9 316.2 L410.4 316.7 L410.9 317.1 L411.4 317.6 L411.9 318.1 L412.4 318.5 L412.9 319.0 L413.4 319.5 L413.9 320.0 L414.4 320.5 L414.9 321.1 L415.4 321.6 L415.9 322.1 L416.4 322.7 L416.9 323.2 L417.4 323.8 L417.9 324.3 L418.4 324.9 L418.9 325.5 L419.4 326.1 L419.9 326.7 L420.4 327.3 L420.9 327.9 L421.4 328.5 L421.9 329.1 L422.4 329.8 L422.9 330.4 L423.4 331.1 L423.9 331.8 L424.4 332.4 L424.9 333.1 L425.4 333.8 L425.9 334.5 L426.4 335.2 L426.9 336.0 L427.4 336.7 L427.9 337.5 L428.4 338.2 L428.9 339.0 L429.4 339.8 L429.9 340.5 L430.4 341.3 L430.9 342.2 L431.4 343.0 L431.9 343.8 L432.4 344.7 L432.9 345.5 L433.4 346.4 L433.9 347.3 L434.4 348.1 L434.9 349.0 L435.4 350.0 L435.9 350.9 L436.4 351.8 L436.9 352.7 L437.4 353.7 L437.9 354.7 L438.4 355.6 L438.9 356.6 L439.4 357.6 L439.9 358.6 L440.4 359.6 L440.9 360.6 L441.4 361.6 L441.9 362.6 L442.4 363.6 L442.9 364.6 L443.4 365.6 L443.9 366.6 L444.4 367.6 L444.9 368.6 L445.4 369.5 L445.9 370.5 L446.4 371.3 L446.9 372.2 L447.4 372.9 L447.9 373.6 L448.4 374.2 L448.9 374.7 L449.4 375.1 L449.9 375.4 L450.4 375.5 L450.9 375.5 L451.4 375.3 L451.9 375.1 L452.4 374.8 L452.9 374.3 L453.4 373.8 L453.9 373.1 L454.4 372.4 L454.9 371.5 L455.4 370.6 L455.9 369.5 L456.4 368.4 L456.9 367.2 L457.4 366.0 L457.9 364.6 L458.4 363.2 L458.9 361.7 L459.4 360.1 L459.9 358.5 L460.4 356.9 L460.9 355.1 L461.4 353.3 L461.9 351.5 L462.4 349.6 L462.9 347.6 L463.4 345.4 L463.9 343.2 L464.4 340.7 L464.9 337.9 L465.4 334.8 L465.9 331.2 L466.4 327.0 L466.9 322.1 L467.4 316.7 L467.9 311.0 L468.4 305.3 L468.9 299.9 L469.4 295.3 L469.9 291.5 L470.4 288.5 L470.9 286.1 L471.4 284.0 L471.9 282.3 L472.4 280.7 L472.9 279.2 L473.4 277.8 L473.9 276.5 L474.4 275.4 L474.9 274.4 L475.4 273.7 L475.9 273.2 L476.4 273.1 L476.9 273.1 L477.4 273.1 L477.9 273.3 L478.4 273.4 L478.9 273.7 L479.4 274.0 L479.9 274.3 L480.4 274.6 L480.9 275.0 L481.4 275.5 L481.9 276.0 L482.4 276.4 L482.9 276.9 L483.4 277.5 L483.9 278.0 L484.4 278.5 L484.9 279.1 L485.4 279.6 L485.9 280.1 L486.4 280.6 L486.9 281.0 L487.4 281.4 L487.9 281.8 L488.4 282.1 L488.9 282.5 L489.4 282.9 L489.9 283.3 L490.4 283.7 L490.9 284.1 L491.4 284.4 L491.9 284.7 L492.4 285.1 L492.9 285.5 L493.4 285.8 L493.9 285.8 L494.4 285.8 L494.9 285.9 L495.4 286.0 L495.9 286.3 L496.4 286.5 L496.9 286.7 L497.4 286.8 L497.9 286.9 L498.4 286.8 L498.9 286.7 L499.4 286.6 L499.9 286.4 L500.4 286.2 L500.9 285.9 L501.4 285.8 L501.9 285.8 L502.4 286.1 L502.9 286.5 L503.4 286.8 L503.9 287.1 L504.4 287.4 L504.9 287.6 L505.4 287.7 L505.9 287.8 L506.4 288.0 L506.9 288.2 L507.4 288.5 L507.9 288.6 L508.4 288.4 L508.9 287.9 L509.4 287.4 L509.9 286.9 L510.4 286.5 L510.9 286.1 L511.4 285.7 L511.9 285.4 L512.4 285.3 L512.9 285.3 L513.4 285.5 L513.9 285.4 L514.4 285.3 L514.9 285.1 L515.4 285.3 L515.9 285.9 L516.4 286.7 L516.9 287.4 L517.4 287.6 L517.9 287.4 L518.4 286.7 L518.9 285.8 L519.4 284.9 L519.9 284.4 L520.4 284.2 L520.9 284.4 L521.4 284.7 L521.9 285.0 L522.4 285.2 L522.9 285.5 L523.4 285.8 L523.9 286.2 L524.4 286.4 L524.9 286.7 L525.4 286.9 L525.9 287.2 L526.4 287.4 L526.9 287.3 L527.4 287.0 L527.9 286.8 L528.4 286.8 L528.9 287.1 L529.4 287.5 L529.9 288.0 L530.4 288.3 L530.9 288.4 L531.4 288.4 L531.9 288.2 L532.4 288.2 L532.9 288.2 L533.4 288.1 L533.9 288.0 L534.4 287.8 L534.9 287.8 L535.4 287.9 L535.9 288.0 L536.4 287.9 L536.9 287.8 L537.4 287.7 L537.9 287.5 L538.4 287.2 L538.9 286.9 L539.4 286.8 L539.9 287.0 L540.4 287.4 L540.9 287.9 L541.4 288.2 L541.9 288.2 L542.4 287.8 L542.9 287.1 L543.4 286.2 L543.9 285.5 L544.4 285.4 L544.9 285.7 L545.4 286.3 L545.9 286.7 L546.4 286.9 L546.9 287.0 L547.4 287.1 L547.9 287.2 L548.4 287.4 L548.9 287.6 L549.4 287.8 L549.9 287.9 L550.4 288.0 L550.9 288.0 L551.4 288.0 L551.9 288.2 L552.4 288.6 L552.9 288.9 L553.4 289.1 L553.9 289.0 L554.4 288.6 L554.9 288.0 L555.4 287.4 L555.9 286.7 L556.4 286.1 L556.9 285.5 L557.4 285.2 L557.9 285.0 L558.4 285.1 L558.9 285.4 L559.4 285.6 L559.9 285.7 L560.4 285.8 L560.9 285.9 L561.4 286.1 L561.9 286.4 L562.4 286.7 L562.9 286.7 L563.4 286.5 L563.9 286.1 L564.4 285.6 L564.9 285.4 L565.4 285.2 L565.9 285.1 L566.4 285.1 L566.9 285.2 L567.4 285.4 L567.9 285.8 L568.4 286.1 L568.9 286.3 L569.4 286.4 L569.9 286.4 L570.4 286.5 L570.9 286.6 L571.4 286.7 L571.9 287.0 L572.4 287.3 L572.9 287.3 L573.4 287.0 L573.9 286.5 L574.4 285.9 L574.9 285.4 L575.4 285.0 L575.9 284.8 L576.4 284.4 L576.9 284.2 L577.4 284.1 L577.9 284.3 L578.4 284.7 L578.9 285.0 L579.4 285.2 L579.9 285.2 L580.4 285.1 L580.9 284.9 L581.4 284.9 L581.9 284.9 L582.4 285.2 L582.9 285.4 L583.4 285.5 L583.9 285.4 L584.4 285.2 L584.9 284.9 L585.4 284.7 L585.9 284.6 L586.4 284.7 L586.9 284.8 L587.4 285.0 L587.9 285.1 L588.4 285.2 L588.9 285.2 L589.4 285.2 L589.9 285.1 L590.4 285.0 L590.9 284.8 L591.4 284.6 L591.9 284.5 L592.4 284.5 L592.9 284.7 L593.4 284.9 L593.9 285.0 L594.4 285.0 L594.9 285.0 L595.4 285.1 L595.9 285.3 L596.4 285.4 L596.9 285.7 L597.4 285.8 L597.9 285.9 L598.4 285.8 L598.9 285.5 L599.4 285.4 L599.9 285.3 L600.4 285.4 L600.9 285.4 L601.4 285.4 L601.9 285.4 L602.4 285.8 L602.9 286.3 L603.4 287.1 L603.9 288.0 L604.4 288.7 L604.9 289.3 L605.4 289.6 L605.9 289.6 L606.4 289.5 L606.9 289.3 L607.4 289.1 L607.9 289.1 L608.4 289.0 L608.9 289.0 L609.4 289.2 L609.9 289.6 L610.4 290.0 L610.9 290.3 L611.4 290.6 L611.9 290.9 L612.4 291.2 L612.9 291.5 L613.4 291.9 L613.9 292.3 L614.4 292.9 L614.9 293.9 L615.4 295.2 L615.9 296.7 L616.4 298.1 L616.9 299.5 L617.4 301.0 L617.9 302.7 L618.4 304.2 L618.9 304.3 L619.4 303.5 L619.9 302.2 L620.4 300.7 L620.9 299.1 L621.4 297.5 L621.9 295.9 L622.4 294.4 L622.9 292.9 L623.4 291.4 L623.9 290.1 L624.4 289.0 L624.9 288.3 L625.4 287.8 L625.9 287.7 L626.4 287.7 L626.9 287.9 L627.4 288.0 L627.9 288.0 L628.4 287.9 L628.9 287.7 L629.4 287.4 L629.9 287.0 L630.4 286.6 L630.9 286.3 L631.4 286.0 L631.9 285.7 L632.4 285.3 L632.9 284.9 L633.4 284.4 L633.9 283.9 L634.4 283.7 L634.9 283.7 L635.4 283.9 L635.9 284.1 L636.4 284.1 L636.9 284.2 L637.4 284.5 L637.9 285.0 L638.4 285.3 L638.9 285.4 L639.4 285.2 L639.9 285.0 L640.4 285.0 L640.9 285.2 L641.4 285.5 L641.9 285.9 L642.4 286.2 L642.9 286.3 L643.4 286.2 L643.9 286.1 L644.4 286.1 L644.9 286.0 L645.4 285.8 L645.9 285.3 L646.4 285.0 L646.9 285.1 L647.4 285.5 L647.9 285.8 L648.4 286.0 L648.9 285.9 L649.4 285.9 L649.9 286.1 L650.4 286.5 L650.9 286.9 L651.4 287.1 L651.9 286.9 L652.4 286.6 L652.9 286.2 L653.4 286.0 L653.9 286.0 L654.4 286.1 L654.9 286.3 L655.4 286.4 L655.9 286.3 L656.4 286.1 L656.9 285.8 L657.4 285.5 L657.9 285.1 L658.4 284.8 L658.9 284.6 L659.4 284.4 L659.9 284.4 L660.4 284.5 L660.9 284.5 L661.4 284.4 L661.9 284.0 L662.4 283.8 L662.9 283.8 L663.4 283.9 L663.9 283.9 L664.4 283.7 L664.9 283.6 L665.4 283.7 L665.9 284.2 L666.4 284.7 L666.9 285.2 L667.4 285.6 L667.9 285.8 L668.4 286.0 L668.9 286.0 L669.4 286.0 L669.9 285.9 L670.4 285.7 L670.9 285.6 L671.4 285.6 L671.40 286.00 Z" fill="#E8666F" stroke="none"/>
<path d="M344.90 287.60 L344.9 289.7 L345.4 289.8 L345.9 289.9 L346.4 289.9 L346.9 290.0 L347.4 290.0 L347.9 290.1 L348.4 290.1 L348.9 290.2 L349.4 290.3 L349.9 290.3 L350.4 290.4 L350.9 290.4 L351.4 290.5 L351.9 290.6 L352.4 290.6 L352.9 290.7 L353.4 290.8 L353.9 290.9 L354.4 290.9 L354.9 291.0 L355.4 291.1 L355.9 291.2 L356.4 291.2 L356.9 291.3 L357.4 291.4 L357.9 291.5 L358.4 291.6 L358.9 291.6 L359.4 291.7 L359.9 291.8 L360.4 291.9 L360.9 292.0 L361.4 292.1 L361.9 292.2 L362.4 292.3 L362.9 292.4 L363.4 292.5 L363.9 292.6 L364.4 292.7 L364.9 292.8 L365.4 292.9 L365.9 293.0 L366.4 293.1 L366.9 293.2 L367.4 293.3 L367.9 293.5 L368.4 293.6 L368.9 293.7 L369.4 293.8 L369.9 293.9 L370.4 294.1 L370.9 294.2 L371.4 294.3 L371.9 294.5 L372.4 294.6 L372.9 294.7 L373.4 294.9 L373.9 295.0 L374.4 295.1 L374.9 295.3 L375.4 295.4 L375.9 295.6 L376.4 295.7 L376.9 295.9 L377.4 296.0 L377.9 296.2 L378.4 296.3 L378.9 296.5 L379.4 296.7 L379.9 296.8 L380.4 297.0 L380.9 297.2 L381.4 297.4 L381.9 297.5 L382.4 297.7 L382.9 297.9 L383.4 298.1 L383.9 298.3 L384.4 298.5 L384.9 298.7 L385.4 298.8 L385.9 299.0 L386.4 299.3 L386.9 299.5 L387.4 299.7 L387.9 299.9 L388.4 300.1 L388.9 300.3 L389.4 300.5 L389.9 300.8 L390.4 301.0 L390.9 301.2 L391.4 301.4 L391.9 301.7 L392.4 301.9 L392.9 302.2 L393.4 302.4 L393.9 302.7 L394.4 302.9 L394.9 303.2 L395.4 303.4 L395.9 303.7 L396.4 304.0 L396.9 304.2 L397.4 304.5 L397.9 304.8 L398.4 305.1 L398.9 305.4 L399.4 305.7 L399.9 306.0 L400.4 306.3 L400.9 306.6 L401.4 306.9 L401.9 307.2 L402.4 307.5 L402.9 307.9 L403.4 308.2 L403.9 308.5 L404.4 308.9 L404.9 309.2 L405.4 309.6 L405.9 309.9 L406.4 310.3 L406.9 310.6 L407.4 311.0 L407.9 311.4 L408.4 311.8 L408.9 312.1 L409.4 312.5 L409.9 312.9 L410.4 313.3 L410.9 313.7 L411.4 314.2 L411.9 314.6 L412.4 315.0 L412.9 315.4 L413.4 315.9 L413.9 316.3 L414.4 316.8 L414.9 317.2 L415.4 317.7 L415.9 318.2 L416.4 318.7 L416.9 319.1 L417.4 319.6 L417.9 320.1 L418.4 320.6 L418.9 321.2 L419.4 321.7 L419.9 322.2 L420.4 322.7 L420.9 323.3 L421.4 323.8 L421.9 324.4 L422.4 325.0 L422.9 325.5 L423.4 326.1 L423.9 326.7 L424.4 327.3 L424.9 327.9 L425.4 328.5 L425.9 329.2 L426.4 329.8 L426.9 330.5 L427.4 331.1 L427.9 331.8 L428.4 332.4 L428.9 333.1 L429.4 333.8 L429.9 334.5 L430.4 335.2 L430.9 335.9 L431.4 336.7 L431.9 337.4 L432.4 338.2 L432.9 338.9 L433.4 339.7 L433.9 340.5 L434.4 341.2 L434.9 342.0 L435.4 342.8 L435.9 343.7 L436.4 344.5 L436.9 345.3 L437.4 346.2 L437.9 347.0 L438.4 347.9 L438.9 348.7 L439.4 349.6 L439.9 350.5 L440.4 351.4 L440.9 352.3 L441.4 353.2 L441.9 354.1 L442.4 355.0 L442.9 355.9 L443.4 356.8 L443.9 357.6 L444.4 358.5 L444.9 359.4 L445.4 360.2 L445.9 361.0 L446.4 361.8 L446.9 362.6 L447.4 363.2 L447.9 363.9 L448.4 364.4 L448.9 364.8 L449.4 365.2 L449.9 365.4 L450.4 365.5 L450.9 365.5 L451.4 365.4 L451.9 365.1 L452.4 364.8 L452.9 364.4 L453.4 363.9 L453.9 363.4 L454.4 362.7 L454.9 362.0 L455.4 361.1 L455.9 360.2 L456.4 359.2 L456.9 358.2 L457.4 357.0 L457.9 355.8 L458.4 354.6 L458.9 353.3 L459.4 351.9 L459.9 350.4 L460.4 349.0 L460.9 347.4 L461.4 345.8 L461.9 344.2 L462.4 342.5 L462.9 340.7 L463.4 338.8 L463.9 336.8 L464.4 334.6 L464.9 332.2 L465.4 329.4 L465.9 326.2 L466.4 322.5 L466.9 318.2 L467.4 313.4 L467.9 308.2 L468.4 303.2 L468.9 298.4 L469.4 294.3 L469.9 291.0 L470.4 288.2 L470.9 286.0 L471.4 284.2 L471.9 282.6 L472.4 281.2 L472.9 279.8 L473.4 278.5 L473.9 277.4 L474.4 276.3 L474.9 275.5 L475.4 274.8 L475.9 274.3 L476.4 274.2 L476.9 274.2 L477.4 274.2 L477.9 274.4 L478.4 274.5 L478.9 274.7 L479.4 275.0 L479.9 275.3 L480.4 275.6 L480.9 276.0 L481.4 276.4 L481.9 276.8 L482.4 277.3 L482.9 277.7 L483.4 278.2 L483.9 278.7 L484.4 279.2 L484.9 279.7 L485.4 280.2 L485.9 280.7 L486.4 281.1 L486.9 281.5 L487.4 281.8 L487.9 282.0 L488.4 282.3 L488.9 282.6 L489.4 283.0 L489.9 283.3 L490.4 283.6 L490.9 283.9 L491.4 284.2 L491.9 284.4 L492.4 284.6 L492.9 284.9 L493.4 285.1 L493.9 285.3 L494.4 285.6 L494.9 286.0 L495.4 286.4 L495.9 286.6 L496.4 286.7 L496.9 286.9 L497.4 287.1 L497.9 287.4 L498.4 287.7 L498.9 287.9 L499.4 287.8 L499.9 287.8 L500.4 287.8 L500.9 287.8 L501.4 287.8 L501.9 287.7 L502.4 287.5 L502.9 287.1 L503.4 286.7 L503.9 286.4 L504.4 286.2 L504.9 286.1 L505.4 286.2 L505.9 286.2 L506.4 286.2 L506.9 286.3 L507.4 286.4 L507.9 286.6 L508.4 286.9 L508.9 287.1 L509.4 287.3 L509.9 287.3 L510.4 287.4 L510.9 287.3 L511.4 287.3 L511.9 287.3 L512.4 287.3 L512.9 287.4 L513.4 287.5 L513.9 287.4 L514.4 287.1 L514.9 286.8 L515.4 286.5 L515.9 286.4 L516.4 286.5 L516.9 286.6 L517.4 286.8 L517.9 286.9 L518.4 286.9 L518.9 286.8 L519.4 286.5 L519.9 286.2 L520.4 286.0 L520.9 286.0 L521.4 286.1 L521.9 286.3 L522.4 286.6 L522.9 286.9 L523.4 287.2 L523.9 287.3 L524.4 287.3 L524.9 287.4 L525.4 287.5 L525.9 287.7 L526.4 287.9 L526.9 288.1 L527.4 288.1 L527.9 288.0 L528.4 288.0 L528.9 288.2 L529.4 288.4 L529.9 288.5 L530.4 288.3 L530.9 287.9 L531.4 287.3 L531.9 287.0 L532.4 287.0 L532.9 287.1 L533.4 287.2 L533.9 287.3 L534.4 287.3 L534.9 287.3 L535.4 287.5 L535.9 287.8 L536.4 288.1 L536.9 288.5 L537.4 288.9 L537.9 289.3 L538.4 289.4 L538.9 289.3 L539.4 289.1 L539.9 288.8 L540.4 288.2 L540.9 287.4 L541.4 286.4 L541.9 285.5 L542.4 284.8 L542.9 284.6 L543.4 284.8 L543.9 285.2 L544.4 285.5 L544.9 285.7 L545.4 285.7 L545.9 285.6 L546.4 285.5 L546.9 285.7 L547.4 286.1 L547.9 286.6 L548.4 287.0 L548.9 287.3 L549.4 287.3 L549.9 287.3 L550.4 287.2 L550.9 287.1 L551.4 287.0 L551.9 287.0 L552.4 286.9 L552.9 287.0 L553.4 287.2 L553.9 287.5 L554.4 287.7 L554.9 287.7 L555.4 287.3 L555.9 286.7 L556.4 286.2 L556.9 285.9 L557.4 285.8 L557.9 285.8 L558.4 286.0 L558.9 286.0 L559.4 285.9 L559.9 285.7 L560.4 285.5 L560.9 285.2 L561.4 285.0 L561.9 284.8 L562.4 284.5 L562.9 284.3 L563.4 284.1 L563.9 284.0 L564.4 284.0 L564.9 284.2 L565.4 284.5 L565.9 284.8 L566.4 285.3 L566.9 285.7 L567.4 285.9 L567.9 285.7 L568.4 285.3 L568.9 285.0 L569.4 284.9 L569.9 285.0 L570.4 285.2 L570.9 285.4 L571.4 285.6 L571.9 285.7 L572.4 285.9 L572.9 286.3 L573.4 286.7 L573.9 287.1 L574.4 287.2 L574.9 287.0 L575.4 286.6 L575.9 286.3 L576.4 286.1 L576.9 285.9 L577.4 285.7 L577.9 285.4 L578.4 284.9 L578.9 284.5 L579.4 284.2 L579.9 283.9 L580.4 283.7 L580.9 283.6 L581.4 283.6 L581.9 283.8 L582.4 284.2 L582.9 284.7 L583.4 285.1 L583.9 285.4 L584.4 285.5 L584.9 285.5 L585.4 285.6 L585.9 285.8 L586.4 285.9 L586.9 285.8 L587.4 285.7 L587.9 285.5 L588.4 285.1 L588.9 284.6 L589.4 284.1 L589.9 283.9 L590.4 284.1 L590.9 284.9 L591.4 285.9 L591.9 286.7 L592.4 287.0 L592.9 286.8 L593.4 286.1 L593.9 285.5 L594.4 285.1 L594.9 284.9 L595.4 285.0 L595.9 285.0 L596.4 285.2 L596.9 285.3 L597.4 285.4 L597.9 285.3 L598.4 285.1 L598.9 284.9 L599.4 284.8 L599.9 284.9 L600.4 285.0 L600.9 285.2 L601.4 285.2 L601.9 285.2 L602.4 285.4 L602.9 285.8 L603.4 286.3 L603.9 286.8 L604.4 287.0 L604.9 287.2 L605.4 287.4 L605.9 287.4 L606.4 287.4 L606.9 287.3 L607.4 287.2 L607.9 287.1 L608.4 287.2 L608.9 287.5 L609.4 287.9 L609.9 288.5 L610.4 289.1 L610.9 289.7 L611.4 290.0 L611.9 290.3 L612.4 290.7 L612.9 291.2 L613.4 291.8 L613.9 292.6 L614.4 293.6 L614.9 294.7 L615.4 295.6 L615.9 296.4 L616.4 297.1 L616.9 297.7 L617.4 298.6 L617.9 299.6 L618.4 300.8 L618.9 300.9 L619.4 300.7 L619.9 300.2 L620.4 299.4 L620.9 298.3 L621.4 296.9 L621.9 295.5 L622.4 294.2 L622.9 293.0 L623.4 292.1 L623.9 291.2 L624.4 290.6 L624.9 290.2 L625.4 289.9 L625.9 289.6 L626.4 289.3 L626.9 288.9 L627.4 288.7 L627.9 288.4 L628.4 288.0 L628.9 287.5 L629.4 287.0 L629.9 286.5 L630.4 286.1 L630.9 285.8 L631.4 285.6 L631.9 285.5 L632.4 285.4 L632.9 285.3 L633.4 285.3 L633.9 285.3 L634.4 285.3 L634.9 285.2 L635.4 285.0 L635.9 284.8 L636.4 284.7 L636.9 284.7 L637.4 284.8 L637.9 285.0 L638.4 285.1 L638.9 285.4 L639.4 285.6 L639.9 285.7 L640.4 285.8 L640.9 285.9 L641.4 286.2 L641.9 286.4 L642.4 286.4 L642.9 286.4 L643.4 286.4 L643.9 286.5 L644.4 286.7 L644.9 286.9 L645.4 287.0 L645.9 287.0 L646.4 287.1 L646.9 287.1 L647.4 287.1 L647.9 287.0 L648.4 287.0 L648.9 287.2 L649.4 287.4 L649.9 287.6 L650.4 287.5 L650.9 287.1 L651.4 286.6 L651.9 286.1 L652.4 285.8 L652.9 285.6 L653.4 285.6 L653.9 285.8 L654.4 286.1 L654.9 286.4 L655.4 286.7 L655.9 286.9 L656.4 286.9 L656.9 286.8 L657.4 286.5 L657.9 286.2 L658.4 285.8 L658.9 285.5 L659.4 285.1 L659.9 284.6 L660.4 284.1 L660.9 283.6 L661.4 283.2 L661.9 282.7 L662.4 282.4 L662.9 282.1 L663.4 282.1 L663.9 282.2 L664.4 282.5 L664.9 283.0 L665.4 283.5 L665.9 284.1 L666.4 284.4 L666.9 284.6 L667.4 284.5 L667.9 284.4 L668.4 284.4 L668.9 284.5 L669.4 284.6 L669.9 284.7 L670.4 284.7 L670.9 284.7 L671.4 284.8 L671.40 286.00 Z" fill="#EB7C84" stroke="none"/>
<path d="M344.90 287.60 L344.9 289.6 L345.4 289.7 L345.9 289.7 L346.4 289.8 L346.9 289.8 L347.4 289.9 L347.9 289.9 L348.4 290.0 L348.9 290.0 L349.4 290.1 L349.9 290.1 L350.4 290.2 L350.9 290.2 L351.4 290.3 L351.9 290.4 L352.4 290.4 L352.9 290.5 L353.4 290.5 L353.9 290.6 L354.4 290.7 L354.9 290.7 L355.4 290.8 L355.9 290.9 L356.4 291.0 L356.9 291.0 L357.4 291.1 L357.9 291.2 L358.4 291.2 L358.9 291.3 L359.4 291.4 L359.9 291.5 L360.4 291.6 L360.9 291.6 L361.4 291.7 L361.9 291.8 L362.4 291.9 L362.9 292.0 L363.4 292.1 L363.9 292.2 L364.4 292.3 L364.9 292.4 L365.4 292.4 L365.9 292.5 L366.4 292.6 L366.9 292.7 L367.4 292.8 L367.9 292.9 L368.4 293.0 L368.9 293.2 L369.4 293.3 L369.9 293.4 L370.4 293.5 L370.9 293.6 L371.4 293.7 L371.9 293.8 L372.4 293.9 L372.9 294.1 L373.4 294.2 L373.9 294.3 L374.4 294.4 L374.9 294.6 L375.4 294.7 L375.9 294.8 L376.4 295.0 L376.9 295.1 L377.4 295.2 L377.9 295.4 L378.4 295.5 L378.9 295.7 L379.4 295.8 L379.9 296.0 L380.4 296.1 L380.9 296.3 L381.4 296.4 L381.9 296.6 L382.4 296.7 L382.9 296.9 L383.4 297.1 L383.9 297.2 L384.4 297.4 L384.9 297.6 L385.4 297.7 L385.9 297.9 L386.4 298.1 L386.9 298.3 L387.4 298.5 L387.9 298.7 L388.4 298.8 L388.9 299.0 L389.4 299.2 L389.9 299.4 L390.4 299.6 L390.9 299.8 L391.4 300.0 L391.9 300.2 L392.4 300.5 L392.9 300.7 L393.4 300.9 L393.9 301.1 L394.4 301.3 L394.9 301.6 L395.4 301.8 L395.9 302.0 L396.4 302.3 L396.9 302.5 L397.4 302.8 L397.9 303.0 L398.4 303.2 L398.9 303.5 L399.4 303.8 L399.9 304.0 L400.4 304.3 L400.9 304.6 L401.4 304.8 L401.9 305.1 L402.4 305.4 L402.9 305.7 L403.4 306.0 L403.9 306.3 L404.4 306.5 L404.9 306.9 L405.4 307.2 L405.9 307.5 L406.4 307.8 L406.9 308.1 L407.4 308.4 L407.9 308.7 L408.4 309.1 L408.9 309.4 L409.4 309.8 L409.9 310.1 L410.4 310.4 L410.9 310.8 L411.4 311.2 L411.9 311.5 L412.4 311.9 L412.9 312.3 L413.4 312.7 L413.9 313.0 L414.4 313.4 L414.9 313.8 L415.4 314.2 L415.9 314.6 L416.4 315.0 L416.9 315.5 L417.4 315.9 L417.9 316.3 L418.4 316.8 L418.9 317.2 L419.4 317.6 L419.9 318.1 L420.4 318.6 L420.9 319.0 L421.4 319.5 L421.9 320.0 L422.4 320.5 L422.9 321.0 L423.4 321.5 L423.9 322.0 L424.4 322.5 L424.9 323.0 L425.4 323.5 L425.9 324.1 L426.4 324.6 L426.9 325.2 L427.4 325.7 L427.9 326.3 L428.4 326.8 L428.9 327.4 L429.4 328.0 L429.9 328.6 L430.4 329.2 L430.9 329.8 L431.4 330.4 L431.9 331.1 L432.4 331.7 L432.9 332.3 L433.4 333.0 L433.9 333.6 L434.4 334.3 L434.9 335.0 L435.4 335.6 L435.9 336.3 L436.4 337.0 L436.9 337.7 L437.4 338.4 L437.9 339.2 L438.4 339.9 L438.9 340.6 L439.4 341.3 L439.9 342.1 L440.4 342.8 L440.9 343.6 L441.4 344.3 L441.9 345.1 L442.4 345.8 L442.9 346.6 L443.4 347.3 L443.9 348.1 L444.4 348.8 L444.9 349.5 L445.4 350.2 L445.9 350.9 L446.4 351.5 L446.9 352.1 L447.4 352.7 L447.9 353.2 L448.4 353.7 L448.9 354.0 L449.4 354.3 L449.9 354.5 L450.4 354.6 L450.9 354.6 L451.4 354.5 L451.9 354.3 L452.4 354.0 L452.9 353.7 L453.4 353.3 L453.9 352.8 L454.4 352.2 L454.9 351.5 L455.4 350.8 L455.9 350.0 L456.4 349.2 L456.9 348.3 L457.4 347.3 L457.9 346.3 L458.4 345.2 L458.9 344.0 L459.4 342.9 L459.9 341.6 L460.4 340.4 L460.9 339.0 L461.4 337.7 L461.9 336.3 L462.4 334.8 L462.9 333.3 L463.4 331.6 L463.9 329.9 L464.4 328.0 L464.9 325.9 L465.4 323.5 L465.9 320.7 L466.4 317.5 L466.9 313.8 L467.4 309.7 L467.9 305.3 L468.4 300.9 L468.9 296.8 L469.4 293.2 L469.9 290.3 L470.4 288.0 L470.9 286.0 L471.4 284.4 L471.9 283.0 L472.4 281.7 L472.9 280.5 L473.4 279.4 L473.9 278.3 L474.4 277.4 L474.9 276.6 L475.4 276.0 L475.9 275.6 L476.4 275.4 L476.9 275.5 L477.4 275.5 L477.9 275.6 L478.4 275.8 L478.9 276.0 L479.4 276.2 L479.9 276.5 L480.4 276.8 L480.9 277.1 L481.4 277.5 L481.9 277.8 L482.4 278.2 L482.9 278.7 L483.4 279.1 L483.9 279.5 L484.4 280.0 L484.9 280.4 L485.4 280.8 L485.9 281.2 L486.4 281.7 L486.9 282.1 L487.4 282.5 L487.9 282.8 L488.4 283.2 L488.9 283.5 L489.4 283.7 L489.9 284.0 L490.4 284.3 L490.9 284.6 L491.4 284.9 L491.9 285.1 L492.4 285.2 L492.9 285.3 L493.4 285.3 L493.9 285.4 L494.4 285.6 L494.9 285.7 L495.4 285.8 L495.9 285.9 L496.4 286.1 L496.9 286.3 L497.4 286.8 L497.9 287.4 L498.4 288.0 L498.9 288.4 L499.4 288.5 L499.9 288.3 L500.4 287.9 L500.9 287.5 L501.4 287.3 L501.9 287.3 L502.4 287.3 L502.9 287.3 L503.4 287.4 L503.9 287.6 L504.4 287.8 L504.9 287.9 L505.4 287.8 L505.9 287.7 L506.4 287.5 L506.9 287.4 L507.4 287.2 L507.9 287.0 L508.4 286.7 L508.9 286.5 L509.4 286.5 L509.9 286.5 L510.4 286.5 L510.9 286.6 L511.4 286.8 L511.9 287.1 L512.4 287.4 L512.9 287.4 L513.4 287.2 L513.9 286.9 L514.4 286.8 L514.9 286.8 L515.4 287.1 L515.9 287.5 L516.4 287.7 L516.9 287.8 L517.4 287.6 L517.9 287.1 L518.4 286.6 L518.9 286.2 L519.4 285.9 L519.9 285.8 L520.4 285.6 L520.9 285.5 L521.4 285.5 L521.9 285.6 L522.4 285.8 L522.9 286.1 L523.4 286.3 L523.9 286.5 L524.4 286.6 L524.9 286.6 L525.4 286.3 L525.9 286.0 L526.4 285.8 L526.9 285.9 L527.4 286.4 L527.9 287.1 L528.4 287.9 L528.9 288.4 L529.4 288.7 L529.9 288.7 L530.4 288.5 L530.9 288.2 L531.4 288.2 L531.9 288.3 L532.4 288.4 L532.9 288.5 L533.4 288.5 L533.9 288.6 L534.4 288.8 L534.9 289.0 L535.4 289.1 L535.9 289.1 L536.4 289.0 L536.9 288.8 L537.4 288.5 L537.9 288.3 L538.4 288.0 L538.9 287.6 L539.4 287.2 L539.9 286.8 L540.4 286.5 L540.9 286.4 L541.4 286.6 L541.9 286.8 L542.4 286.9 L542.9 286.9 L543.4 286.7 L543.9 286.6 L544.4 286.5 L544.9 286.5 L545.4 286.5 L545.9 286.6 L546.4 286.8 L546.9 287.1 L547.4 287.4 L547.9 287.7 L548.4 288.1 L548.9 288.5 L549.4 288.9 L549.9 289.2 L550.4 289.5 L550.9 289.7 L551.4 289.7 L551.9 289.5 L552.4 289.1 L552.9 288.8 L553.4 288.5 L553.9 288.3 L554.4 288.1 L554.9 287.7 L555.4 287.0 L555.9 286.2 L556.4 285.3 L556.9 284.7 L557.4 284.3 L557.9 284.2 L558.4 284.1 L558.9 283.9 L559.4 283.7 L559.9 283.6 L560.4 283.5 L560.9 283.5 L561.4 283.7 L561.9 283.8 L562.4 284.1 L562.9 284.5 L563.4 285.0 L563.9 285.5 L564.4 285.9 L564.9 286.0 L565.4 286.0 L565.9 285.9 L566.4 285.8 L566.9 285.8 L567.4 285.8 L567.9 285.9 L568.4 286.0 L568.9 286.2 L569.4 286.4 L569.9 286.7 L570.4 287.0 L570.9 287.3 L571.4 287.5 L571.9 287.4 L572.4 287.0 L572.9 286.3 L573.4 285.7 L573.9 285.1 L574.4 284.7 L574.9 284.5 L575.4 284.6 L575.9 284.7 L576.4 284.8 L576.9 284.9 L577.4 285.0 L577.9 285.1 L578.4 285.1 L578.9 285.2 L579.4 285.4 L579.9 285.7 L580.4 285.9 L580.9 286.0 L581.4 286.0 L581.9 286.0 L582.4 286.1 L582.9 286.1 L583.4 285.9 L583.9 285.5 L584.4 285.2 L584.9 285.0 L585.4 285.1 L585.9 285.4 L586.4 285.7 L586.9 286.0 L587.4 286.3 L587.9 286.4 L588.4 286.3 L588.9 286.1 L589.4 286.0 L589.9 285.9 L590.4 285.7 L590.9 285.4 L591.4 284.9 L591.9 284.6 L592.4 284.4 L592.9 284.4 L593.4 284.5 L593.9 284.6 L594.4 284.6 L594.9 284.6 L595.4 284.6 L595.9 284.7 L596.4 284.8 L596.9 285.0 L597.4 285.3 L597.9 285.5 L598.4 285.6 L598.9 285.8 L599.4 286.1 L599.9 286.3 L600.4 286.3 L600.9 286.3 L601.4 286.3 L601.9 286.4 L602.4 286.6 L602.9 286.9 L603.4 287.2 L603.9 287.4 L604.4 287.5 L604.9 287.6 L605.4 287.9 L605.9 288.2 L606.4 288.5 L606.9 288.7 L607.4 288.8 L607.9 288.8 L608.4 288.8 L608.9 288.7 L609.4 288.7 L609.9 288.7 L610.4 288.6 L610.9 288.7 L611.4 289.0 L611.9 289.5 L612.4 290.0 L612.9 290.4 L613.4 290.6 L613.9 290.7 L614.4 290.8 L614.9 291.0 L615.4 291.7 L615.9 292.8 L616.4 294.3 L616.9 295.8 L617.4 297.1 L617.9 298.2 L618.4 299.0 L618.9 298.7 L619.4 298.0 L619.9 297.3 L620.4 296.5 L620.9 295.8 L621.4 295.2 L621.9 294.5 L622.4 293.7 L622.9 292.9 L623.4 292.2 L623.9 291.7 L624.4 291.2 L624.9 290.8 L625.4 290.3 L625.9 289.7 L626.4 289.1 L626.9 288.7 L627.4 288.4 L627.9 288.1 L628.4 287.7 L628.9 287.2 L629.4 286.6 L629.9 286.1 L630.4 285.7 L630.9 285.4 L631.4 285.2 L631.9 285.1 L632.4 284.9 L632.9 284.6 L633.4 284.3 L633.9 284.1 L634.4 284.1 L634.9 284.3 L635.4 284.6 L635.9 284.9 L636.4 285.2 L636.9 285.4 L637.4 285.5 L637.9 285.5 L638.4 285.6 L638.9 285.6 L639.4 285.6 L639.9 285.6 L640.4 285.7 L640.9 285.8 L641.4 285.9 L641.9 285.9 L642.4 285.7 L642.9 285.4 L643.4 285.3 L643.9 285.2 L644.4 285.2 L644.9 285.2 L645.4 285.2 L645.9 285.3 L646.4 285.3 L646.9 285.2 L647.4 285.1 L647.9 285.0 L648.4 284.9 L648.9 285.1 L649.4 285.4 L649.9 285.7 L650.4 285.9 L650.9 285.9 L651.4 285.7 L651.9 285.5 L652.4 285.4 L652.9 285.6 L653.4 286.0 L653.9 286.3 L654.4 286.7 L654.9 287.0 L655.4 287.2 L655.9 287.2 L656.4 286.9 L656.9 286.4 L657.4 285.9 L657.9 285.6 L658.4 285.5 L658.9 285.5 L659.4 285.2 L659.9 284.7 L660.4 284.1 L660.9 283.7 L661.4 283.7 L661.9 283.9 L662.4 284.1 L662.9 284.2 L663.4 284.2 L663.9 284.2 L664.4 284.3 L664.9 284.3 L665.4 284.5 L665.9 284.6 L666.4 284.8 L666.9 284.9 L667.4 285.1 L667.9 285.3 L668.4 285.5 L668.9 285.9 L669.4 286.2 L669.9 286.4 L670.4 286.3 L670.9 286.2 L671.4 286.0 L671.40 286.00 Z" fill="#EE9299" stroke="none"/>
<path d="M344.90 287.60 L344.9 289.4 L345.4 289.4 L345.9 289.5 L346.4 289.5 L346.9 289.6 L347.4 289.6 L347.9 289.6 L348.4 289.7 L348.9 289.7 L349.4 289.8 L349.9 289.8 L350.4 289.9 L350.9 289.9 L351.4 290.0 L351.9 290.0 L352.4 290.1 L352.9 290.1 L353.4 290.2 L353.9 290.2 L354.4 290.3 L354.9 290.3 L355.4 290.4 L355.9 290.5 L356.4 290.5 L356.9 290.6 L357.4 290.6 L357.9 290.7 L358.4 290.8 L358.9 290.8 L359.4 290.9 L359.9 291.0 L360.4 291.0 L360.9 291.1 L361.4 291.2 L361.9 291.2 L362.4 291.3 L362.9 291.4 L363.4 291.5 L363.9 291.5 L364.4 291.6 L364.9 291.7 L365.4 291.8 L365.9 291.8 L366.4 291.9 L366.9 292.0 L367.4 292.1 L367.9 292.2 L368.4 292.3 L368.9 292.4 L369.4 292.4 L369.9 292.5 L370.4 292.6 L370.9 292.7 L371.4 292.8 L371.9 292.9 L372.4 293.0 L372.9 293.1 L373.4 293.2 L373.9 293.3 L374.4 293.4 L374.9 293.5 L375.4 293.6 L375.9 293.8 L376.4 293.9 L376.9 294.0 L377.4 294.1 L377.9 294.2 L378.4 294.3 L378.9 294.4 L379.4 294.6 L379.9 294.7 L380.4 294.8 L380.9 294.9 L381.4 295.1 L381.9 295.2 L382.4 295.3 L382.9 295.5 L383.4 295.6 L383.9 295.7 L384.4 295.9 L384.9 296.0 L385.4 296.2 L385.9 296.3 L386.4 296.5 L386.9 296.6 L387.4 296.8 L387.9 296.9 L388.4 297.1 L388.9 297.2 L389.4 297.4 L389.9 297.6 L390.4 297.7 L390.9 297.9 L391.4 298.1 L391.9 298.2 L392.4 298.4 L392.9 298.6 L393.4 298.8 L393.9 298.9 L394.4 299.1 L394.9 299.3 L395.4 299.5 L395.9 299.7 L396.4 299.9 L396.9 300.1 L397.4 300.3 L397.9 300.5 L398.4 300.7 L398.9 300.9 L399.4 301.1 L399.9 301.3 L400.4 301.5 L400.9 301.8 L401.4 302.0 L401.9 302.2 L402.4 302.4 L402.9 302.7 L403.4 302.9 L403.9 303.1 L404.4 303.4 L404.9 303.6 L405.4 303.9 L405.9 304.1 L406.4 304.4 L406.9 304.6 L407.4 304.9 L407.9 305.2 L408.4 305.4 L408.9 305.7 L409.4 306.0 L409.9 306.2 L410.4 306.5 L410.9 306.8 L411.4 307.1 L411.9 307.4 L412.4 307.7 L412.9 308.0 L413.4 308.3 L413.9 308.6 L414.4 308.9 L414.9 309.2 L415.4 309.6 L415.9 309.9 L416.4 310.2 L416.9 310.5 L417.4 310.9 L417.9 311.2 L418.4 311.6 L418.9 311.9 L419.4 312.3 L419.9 312.6 L420.4 313.0 L420.9 313.4 L421.4 313.7 L421.9 314.1 L422.4 314.5 L422.9 314.9 L423.4 315.3 L423.9 315.7 L424.4 316.1 L424.9 316.5 L425.4 316.9 L425.9 317.3 L426.4 317.8 L426.9 318.2 L427.4 318.6 L427.9 319.1 L428.4 319.5 L428.9 320.0 L429.4 320.4 L429.9 320.9 L430.4 321.3 L430.9 321.8 L431.4 322.3 L431.9 322.8 L432.4 323.3 L432.9 323.8 L433.4 324.3 L433.9 324.8 L434.4 325.3 L434.9 325.8 L435.4 326.3 L435.9 326.9 L436.4 327.4 L436.9 327.9 L437.4 328.5 L437.9 329.0 L438.4 329.6 L438.9 330.1 L439.4 330.7 L439.9 331.3 L440.4 331.8 L440.9 332.4 L441.4 333.0 L441.9 333.6 L442.4 334.1 L442.9 334.7 L443.4 335.3 L443.9 335.8 L444.4 336.4 L444.9 336.9 L445.4 337.5 L445.9 338.0 L446.4 338.5 L446.9 338.9 L447.4 339.4 L447.9 339.7 L448.4 340.1 L448.9 340.4 L449.4 340.6 L449.9 340.7 L450.4 340.8 L450.9 340.8 L451.4 340.7 L451.9 340.6 L452.4 340.3 L452.9 340.1 L453.4 339.7 L453.9 339.3 L454.4 338.9 L454.9 338.4 L455.4 337.8 L455.9 337.2 L456.4 336.5 L456.9 335.8 L457.4 335.0 L457.9 334.2 L458.4 333.3 L458.9 332.4 L459.4 331.5 L459.9 330.5 L460.4 329.5 L460.9 328.4 L461.4 327.3 L461.9 326.2 L462.4 325.0 L462.9 323.8 L463.4 322.5 L463.9 321.1 L464.4 319.6 L464.9 317.9 L465.4 316.0 L465.9 313.8 L466.4 311.3 L466.9 308.3 L467.4 305.0 L467.9 301.5 L468.4 298.0 L468.9 294.7 L469.4 291.9 L469.9 289.5 L470.4 287.6 L470.9 286.0 L471.4 284.7 L471.9 283.5 L472.4 282.5 L472.9 281.4 L473.4 280.5 L473.9 279.6 L474.4 278.8 L474.9 278.1 L475.4 277.6 L475.9 277.3 L476.4 277.1 L476.9 277.2 L477.4 277.2 L477.9 277.3 L478.4 277.4 L478.9 277.6 L479.4 277.8 L479.9 278.0 L480.4 278.3 L480.9 278.5 L481.4 278.9 L481.9 279.2 L482.4 279.5 L482.9 279.9 L483.4 280.2 L483.9 280.6 L484.4 281.0 L484.9 281.4 L485.4 281.7 L485.9 282.1 L486.4 282.4 L486.9 282.7 L487.4 283.0 L487.9 283.2 L488.4 283.4 L488.9 283.5 L489.4 283.7 L489.9 283.9 L490.4 284.1 L490.9 284.4 L491.4 284.7 L491.9 285.1 L492.4 285.5 L492.9 285.8 L493.4 286.0 L493.9 286.0 L494.4 286.0 L494.9 285.9 L495.4 285.9 L495.9 286.1 L496.4 286.5 L496.9 286.9 L497.4 287.4 L497.9 287.8 L498.4 288.1 L498.9 288.0 L499.4 287.8 L499.9 287.4 L500.4 287.0 L500.9 286.6 L501.4 286.1 L501.9 285.7 L502.4 285.6 L502.9 285.7 L503.4 286.0 L503.9 286.1 L504.4 286.1 L504.9 285.9 L505.4 285.5 L505.9 285.2 L506.4 285.0 L506.9 285.2 L507.4 285.5 L507.9 286.0 L508.4 286.5 L508.9 287.0 L509.4 287.2 L509.9 287.2 L510.4 286.9 L510.9 286.6 L511.4 286.4 L511.9 286.3 L512.4 286.4 L512.9 286.7 L513.4 287.1 L513.9 287.4 L514.4 287.4 L514.9 287.2 L515.4 286.9 L515.9 286.7 L516.4 286.8 L516.9 287.1 L517.4 287.4 L517.9 287.5 L518.4 287.4 L518.9 287.2 L519.4 287.0 L519.9 286.7 L520.4 286.4 L520.9 286.2 L521.4 286.2 L521.9 286.3 L522.4 286.4 L522.9 286.3 L523.4 286.2 L523.9 286.1 L524.4 286.2 L524.9 286.6 L525.4 286.9 L525.9 287.3 L526.4 287.5 L526.9 287.6 L527.4 287.7 L527.9 287.7 L528.4 287.7 L528.9 287.8 L529.4 287.8 L529.9 287.8 L530.4 287.8 L530.9 287.8 L531.4 288.0 L531.9 288.0 L532.4 287.9 L532.9 287.7 L533.4 287.4 L533.9 287.2 L534.4 287.0 L534.9 286.7 L535.4 286.5 L535.9 286.4 L536.4 286.4 L536.9 286.3 L537.4 286.3 L537.9 286.4 L538.4 286.7 L538.9 287.1 L539.4 287.4 L539.9 287.7 L540.4 287.8 L540.9 287.9 L541.4 287.7 L541.9 287.4 L542.4 286.9 L542.9 286.4 L543.4 286.0 L543.9 285.7 L544.4 285.6 L544.9 285.6 L545.4 285.6 L545.9 285.8 L546.4 286.0 L546.9 286.5 L547.4 286.9 L547.9 287.4 L548.4 287.6 L548.9 287.8 L549.4 287.9 L549.9 288.0 L550.4 288.0 L550.9 287.9 L551.4 287.8 L551.9 287.6 L552.4 287.6 L552.9 287.6 L553.4 287.6 L553.9 287.6 L554.4 287.6 L554.9 287.4 L555.4 287.2 L555.9 286.8 L556.4 286.5 L556.9 286.2 L557.4 286.0 L557.9 285.7 L558.4 285.5 L558.9 285.3 L559.4 285.0 L559.9 284.8 L560.4 284.6 L560.9 284.8 L561.4 285.1 L561.9 285.6 L562.4 285.9 L562.9 286.1 L563.4 286.1 L563.9 285.9 L564.4 285.7 L564.9 285.6 L565.4 285.8 L565.9 286.1 L566.4 286.4 L566.9 286.5 L567.4 286.4 L567.9 286.2 L568.4 286.1 L568.9 286.1 L569.4 286.0 L569.9 285.9 L570.4 285.9 L570.9 285.9 L571.4 285.9 L571.9 286.0 L572.4 286.0 L572.9 285.9 L573.4 285.8 L573.9 285.7 L574.4 285.8 L574.9 285.9 L575.4 285.9 L575.9 285.7 L576.4 285.5 L576.9 285.1 L577.4 284.8 L577.9 284.3 L578.4 283.9 L578.9 283.6 L579.4 283.6 L579.9 283.8 L580.4 284.1 L580.9 284.5 L581.4 284.7 L581.9 284.7 L582.4 284.6 L582.9 284.7 L583.4 285.0 L583.9 285.4 L584.4 285.6 L584.9 285.5 L585.4 285.2 L585.9 284.8 L586.4 284.6 L586.9 284.6 L587.4 285.0 L587.9 285.6 L588.4 286.1 L588.9 286.4 L589.4 286.3 L589.9 285.9 L590.4 285.4 L590.9 285.0 L591.4 284.7 L591.9 284.6 L592.4 284.5 L592.9 284.5 L593.4 284.6 L593.9 284.8 L594.4 285.0 L594.9 285.1 L595.4 285.1 L595.9 285.1 L596.4 285.0 L596.9 284.9 L597.4 284.6 L597.9 284.3 L598.4 284.1 L598.9 284.2 L599.4 284.4 L599.9 284.8 L600.4 285.2 L600.9 285.7 L601.4 286.1 L601.9 286.4 L602.4 286.6 L602.9 286.7 L603.4 286.8 L603.9 286.8 L604.4 286.8 L604.9 286.5 L605.4 286.1 L605.9 285.8 L606.4 285.5 L606.9 285.6 L607.4 285.9 L607.9 286.5 L608.4 287.3 L608.9 287.9 L609.4 288.3 L609.9 288.4 L610.4 288.3 L610.9 288.3 L611.4 288.5 L611.9 288.8 L612.4 289.3 L612.9 289.7 L613.4 290.1 L613.9 290.5 L614.4 291.1 L614.9 291.8 L615.4 292.6 L615.9 293.3 L616.4 293.9 L616.9 294.5 L617.4 295.2 L617.9 296.0 L618.4 296.6 L618.9 296.3 L619.4 295.6 L619.9 294.8 L620.4 294.2 L620.9 293.6 L621.4 293.0 L621.9 292.4 L622.4 291.8 L622.9 291.3 L623.4 290.9 L623.9 290.5 L624.4 290.1 L624.9 289.5 L625.4 289.0 L625.9 288.4 L626.4 287.9 L626.9 287.4 L627.4 287.0 L627.9 286.7 L628.4 286.5 L628.9 286.4 L629.4 286.4 L629.9 286.5 L630.4 286.7 L630.9 286.8 L631.4 286.7 L631.9 286.4 L632.4 285.9 L632.9 285.4 L633.4 285.1 L633.9 285.1 L634.4 285.1 L634.9 285.1 L635.4 285.2 L635.9 285.2 L636.4 285.1 L636.9 285.2 L637.4 285.3 L637.9 285.5 L638.4 285.8 L638.9 286.3 L639.4 286.8 L639.9 287.2 L640.4 287.4 L640.9 287.3 L641.4 287.1 L641.9 286.7 L642.4 286.2 L642.9 285.9 L643.4 285.8 L643.9 285.7 L644.4 285.7 L644.9 285.6 L645.4 285.6 L645.9 285.8 L646.4 286.1 L646.9 286.5 L647.4 286.8 L647.9 286.9 L648.4 286.8 L648.9 286.6 L649.4 286.4 L649.9 286.4 L650.4 286.5 L650.9 286.8 L651.4 287.0 L651.9 287.1 L652.4 287.1 L652.9 287.1 L653.4 287.0 L653.9 286.9 L654.4 286.7 L654.9 286.5 L655.4 286.4 L655.9 286.3 L656.4 286.2 L656.9 285.9 L657.4 285.5 L657.9 285.2 L658.4 284.9 L658.9 284.6 L659.4 284.4 L659.9 283.9 L660.4 283.5 L660.9 283.2 L661.4 283.0 L661.9 282.9 L662.4 282.9 L662.9 282.9 L663.4 282.9 L663.9 282.9 L664.4 283.0 L664.9 283.0 L665.4 283.2 L665.9 283.4 L666.4 283.7 L666.9 284.1 L667.4 284.4 L667.9 284.6 L668.4 284.8 L668.9 285.0 L669.4 285.2 L669.9 285.4 L670.4 285.3 L670.9 285.2 L671.4 285.0 L671.40 286.00 Z" fill="#F1A7AE" stroke="none"/>
<path d="M344.90 287.60 L344.9 288.9 L345.4 288.9 L345.9 288.9 L346.4 288.9 L346.9 289.0 L347.4 289.0 L347.9 289.0 L348.4 289.0 L348.9 289.1 L349.4 289.1 L349.9 289.1 L350.4 289.2 L350.9 289.2 L351.4 289.2 L351.9 289.3 L352.4 289.3 L352.9 289.3 L353.4 289.4 L353.9 289.4 L354.4 289.4 L354.9 289.5 L355.4 289.5 L355.9 289.5 L356.4 289.6 L356.9 289.6 L357.4 289.7 L357.9 289.7 L358.4 289.7 L358.9 289.8 L359.4 289.8 L359.9 289.9 L360.4 289.9 L360.9 290.0 L361.4 290.0 L361.9 290.0 L362.4 290.1 L362.9 290.1 L363.4 290.2 L363.9 290.2 L364.4 290.3 L364.9 290.3 L365.4 290.4 L365.9 290.4 L366.4 290.5 L366.9 290.5 L367.4 290.6 L367.9 290.6 L368.4 290.7 L368.9 290.8 L369.4 290.8 L369.9 290.9 L370.4 290.9 L370.9 291.0 L371.4 291.1 L371.9 291.1 L372.4 291.2 L372.9 291.2 L373.4 291.3 L373.9 291.4 L374.4 291.4 L374.9 291.5 L375.4 291.6 L375.9 291.6 L376.4 291.7 L376.9 291.8 L377.4 291.9 L377.9 291.9 L378.4 292.0 L378.9 292.1 L379.4 292.2 L379.9 292.2 L380.4 292.3 L380.9 292.4 L381.4 292.5 L381.9 292.6 L382.4 292.6 L382.9 292.7 L383.4 292.8 L383.9 292.9 L384.4 293.0 L384.9 293.1 L385.4 293.2 L385.9 293.3 L386.4 293.4 L386.9 293.4 L387.4 293.5 L387.9 293.6 L388.4 293.7 L388.9 293.8 L389.4 293.9 L389.9 294.0 L390.4 294.1 L390.9 294.2 L391.4 294.4 L391.9 294.5 L392.4 294.6 L392.9 294.7 L393.4 294.8 L393.9 294.9 L394.4 295.0 L394.9 295.1 L395.4 295.3 L395.9 295.4 L396.4 295.5 L396.9 295.6 L397.4 295.7 L397.9 295.9 L398.4 296.0 L398.9 296.1 L399.4 296.2 L399.9 296.4 L400.4 296.5 L400.9 296.6 L401.4 296.8 L401.9 296.9 L402.4 297.1 L402.9 297.2 L403.4 297.3 L403.9 297.5 L404.4 297.6 L404.9 297.8 L405.4 297.9 L405.9 298.1 L406.4 298.2 L406.9 298.4 L407.4 298.6 L407.9 298.7 L408.4 298.9 L408.9 299.0 L409.4 299.2 L409.9 299.4 L410.4 299.5 L410.9 299.7 L411.4 299.9 L411.9 300.1 L412.4 300.2 L412.9 300.4 L413.4 300.6 L413.9 300.8 L414.4 301.0 L414.9 301.2 L415.4 301.3 L415.9 301.5 L416.4 301.7 L416.9 301.9 L417.4 302.1 L417.9 302.3 L418.4 302.5 L418.9 302.7 L419.4 302.9 L419.9 303.2 L420.4 303.4 L420.9 303.6 L421.4 303.8 L421.9 304.0 L422.4 304.2 L422.9 304.5 L423.4 304.7 L423.9 304.9 L424.4 305.2 L424.9 305.4 L425.4 305.6 L425.9 305.9 L426.4 306.1 L426.9 306.4 L427.4 306.6 L427.9 306.9 L428.4 307.1 L428.9 307.4 L429.4 307.6 L429.9 307.9 L430.4 308.2 L430.9 308.4 L431.4 308.7 L431.9 309.0 L432.4 309.2 L432.9 309.5 L433.4 309.8 L433.9 310.1 L434.4 310.4 L434.9 310.7 L435.4 311.0 L435.9 311.2 L436.4 311.5 L436.9 311.8 L437.4 312.1 L437.9 312.4 L438.4 312.7 L438.9 313.0 L439.4 313.4 L439.9 313.7 L440.4 314.0 L440.9 314.3 L441.4 314.6 L441.9 314.9 L442.4 315.2 L442.9 315.5 L443.4 315.8 L443.9 316.1 L444.4 316.4 L444.9 316.7 L445.4 317.0 L445.9 317.3 L446.4 317.5 L446.9 317.8 L447.4 318.0 L447.9 318.2 L448.4 318.4 L448.9 318.6 L449.4 318.7 L449.9 318.8 L450.4 318.8 L450.9 318.8 L451.4 318.7 L451.9 318.7 L452.4 318.5 L452.9 318.4 L453.4 318.2 L453.9 317.9 L454.4 317.7 L454.9 317.4 L455.4 317.0 L455.9 316.6 L456.4 316.2 L456.9 315.8 L457.4 315.4 L457.9 314.9 L458.4 314.4 L458.9 313.8 L459.4 313.3 L459.9 312.7 L460.4 312.1 L460.9 311.5 L461.4 310.8 L461.9 310.2 L462.4 309.5 L462.9 308.7 L463.4 308.0 L463.9 307.2 L464.4 306.3 L464.9 305.3 L465.4 304.1 L465.9 302.8 L466.4 301.3 L466.9 299.6 L467.4 297.6 L467.9 295.5 L468.4 293.4 L468.9 291.5 L469.4 289.8 L469.9 288.3 L470.4 287.1 L470.9 286.2 L471.4 285.3 L471.9 284.5 L472.4 283.8 L472.9 283.1 L473.4 282.5 L473.9 281.9 L474.4 281.3 L474.9 280.8 L475.4 280.5 L475.9 280.3 L476.4 280.2 L476.9 280.2 L477.4 280.2 L477.9 280.3 L478.4 280.4 L478.9 280.5 L479.4 280.6 L479.9 280.8 L480.4 280.9 L480.9 281.1 L481.4 281.3 L481.9 281.6 L482.4 281.8 L482.9 282.1 L483.4 282.3 L483.9 282.6 L484.4 282.8 L484.9 283.1 L485.4 283.3 L485.9 283.6 L486.4 283.8 L486.9 284.0 L487.4 284.2 L487.9 284.4 L488.4 284.5 L488.9 284.5 L489.4 284.6 L489.9 284.7 L490.4 284.8 L490.9 285.1 L491.4 285.3 L491.9 285.5 L492.4 285.8 L492.9 285.9 L493.4 286.0 L493.9 286.0 L494.4 286.0 L494.9 286.1 L495.4 286.1 L495.9 286.2 L496.4 286.4 L496.9 286.8 L497.4 287.3 L497.9 287.6 L498.4 287.8 L498.9 287.7 L499.4 287.5 L499.9 287.3 L500.4 287.1 L500.9 287.0 L501.4 286.8 L501.9 286.6 L502.4 286.4 L502.9 286.2 L503.4 286.0 L503.9 285.8 L504.4 285.8 L504.9 285.9 L505.4 286.1 L505.9 286.3 L506.4 286.5 L506.9 286.7 L507.4 287.0 L507.9 287.2 L508.4 287.4 L508.9 287.5 L509.4 287.6 L509.9 287.7 L510.4 287.7 L510.9 287.6 L511.4 287.4 L511.9 287.4 L512.4 287.5 L512.9 287.7 L513.4 287.7 L513.9 287.6 L514.4 287.4 L514.9 287.0 L515.4 286.7 L515.9 286.5 L516.4 286.4 L516.9 286.5 L517.4 286.7 L517.9 287.0 L518.4 287.3 L518.9 287.4 L519.4 287.4 L519.9 287.3 L520.4 287.1 L520.9 286.8 L521.4 286.4 L521.9 286.2 L522.4 286.0 L522.9 285.8 L523.4 285.7 L523.9 285.7 L524.4 285.8 L524.9 285.9 L525.4 286.0 L525.9 286.2 L526.4 286.4 L526.9 286.8 L527.4 287.1 L527.9 287.3 L528.4 287.3 L528.9 287.3 L529.4 287.3 L529.9 287.4 L530.4 287.4 L530.9 287.4 L531.4 287.4 L531.9 287.3 L532.4 287.2 L532.9 287.2 L533.4 287.4 L533.9 287.8 L534.4 288.3 L534.9 288.6 L535.4 288.6 L535.9 288.5 L536.4 288.3 L536.9 288.1 L537.4 288.0 L537.9 288.0 L538.4 288.0 L538.9 288.0 L539.4 287.8 L539.9 287.5 L540.4 287.2 L540.9 286.9 L541.4 286.7 L541.9 286.6 L542.4 286.7 L542.9 286.9 L543.4 287.0 L543.9 287.1 L544.4 287.0 L544.9 286.6 L545.4 286.2 L545.9 285.8 L546.4 285.6 L546.9 285.8 L547.4 286.3 L547.9 287.0 L548.4 287.8 L548.9 288.5 L549.4 289.1 L549.9 289.5 L550.4 289.7 L550.9 289.6 L551.4 289.4 L551.9 289.1 L552.4 288.8 L552.9 288.5 L553.4 288.2 L553.9 287.7 L554.4 287.3 L554.9 286.9 L555.4 286.7 L555.9 286.5 L556.4 286.3 L556.9 286.1 L557.4 286.1 L557.9 286.2 L558.4 286.3 L558.9 286.1 L559.4 285.9 L559.9 285.5 L560.4 285.1 L560.9 284.9 L561.4 284.9 L561.9 285.1 L562.4 285.5 L562.9 285.8 L563.4 286.1 L563.9 286.3 L564.4 286.4 L564.9 286.4 L565.4 286.3 L565.9 286.2 L566.4 286.1 L566.9 286.0 L567.4 286.0 L567.9 286.1 L568.4 286.3 L568.9 286.4 L569.4 286.5 L569.9 286.4 L570.4 286.3 L570.9 286.1 L571.4 286.0 L571.9 286.0 L572.4 286.0 L572.9 286.0 L573.4 285.9 L573.9 285.8 L574.4 285.7 L574.9 285.7 L575.4 285.6 L575.9 285.5 L576.4 285.5 L576.9 285.7 L577.4 285.8 L577.9 285.7 L578.4 285.5 L578.9 285.4 L579.4 285.4 L579.9 285.5 L580.4 285.5 L580.9 285.5 L581.4 285.4 L581.9 285.3 L582.4 285.2 L582.9 285.2 L583.4 285.4 L583.9 285.7 L584.4 286.1 L584.9 286.3 L585.4 286.3 L585.9 286.1 L586.4 285.7 L586.9 285.2 L587.4 284.8 L587.9 284.5 L588.4 284.4 L588.9 284.3 L589.4 284.3 L589.9 284.4 L590.4 284.6 L590.9 284.8 L591.4 284.9 L591.9 284.9 L592.4 284.9 L592.9 285.0 L593.4 285.1 L593.9 285.2 L594.4 285.5 L594.9 285.8 L595.4 286.1 L595.9 286.1 L596.4 285.9 L596.9 285.5 L597.4 285.2 L597.9 285.0 L598.4 285.0 L598.9 285.0 L599.4 285.1 L599.9 285.1 L600.4 285.2 L600.9 285.3 L601.4 285.5 L601.9 285.7 L602.4 285.9 L602.9 286.0 L603.4 286.0 L603.9 285.9 L604.4 285.8 L604.9 286.0 L605.4 286.3 L605.9 286.8 L606.4 287.1 L606.9 287.2 L607.4 287.2 L607.9 287.3 L608.4 287.4 L608.9 287.5 L609.4 287.7 L609.9 288.0 L610.4 288.3 L610.9 288.6 L611.4 288.8 L611.9 288.9 L612.4 289.0 L612.9 289.1 L613.4 289.4 L613.9 289.9 L614.4 290.6 L614.9 291.3 L615.4 291.9 L615.9 292.3 L616.4 292.4 L616.9 292.6 L617.4 293.0 L617.9 293.6 L618.4 294.1 L618.9 294.1 L619.4 293.8 L619.9 293.3 L620.4 292.6 L620.9 291.8 L621.4 291.1 L621.9 290.6 L622.4 290.3 L622.9 290.3 L623.4 290.1 L623.9 289.8 L624.4 289.3 L624.9 288.8 L625.4 288.1 L625.9 287.5 L626.4 287.0 L626.9 286.7 L627.4 286.6 L627.9 286.5 L628.4 286.3 L628.9 286.0 L629.4 285.6 L629.9 285.4 L630.4 285.4 L630.9 285.4 L631.4 285.5 L631.9 285.5 L632.4 285.5 L632.9 285.4 L633.4 285.3 L633.9 285.2 L634.4 284.9 L634.9 284.8 L635.4 284.7 L635.9 284.8 L636.4 284.9 L636.9 284.9 L637.4 284.8 L637.9 284.9 L638.4 285.1 L638.9 285.3 L639.4 285.6 L639.9 285.9 L640.4 286.3 L640.9 286.4 L641.4 286.3 L641.9 286.0 L642.4 285.6 L642.9 285.2 L643.4 284.8 L643.9 284.7 L644.4 284.8 L644.9 285.1 L645.4 285.7 L645.9 286.4 L646.4 286.9 L646.9 287.2 L647.4 287.4 L647.9 287.5 L648.4 287.4 L648.9 287.3 L649.4 287.1 L649.9 286.9 L650.4 286.6 L650.9 286.5 L651.4 286.4 L651.9 286.4 L652.4 286.4 L652.9 286.3 L653.4 286.1 L653.9 286.1 L654.4 286.1 L654.9 286.0 L655.4 286.0 L655.9 285.9 L656.4 285.9 L656.9 285.9 L657.4 285.9 L657.9 285.8 L658.4 285.6 L658.9 285.4 L659.4 285.0 L659.9 284.4 L660.4 283.9 L660.9 283.5 L661.4 283.2 L661.9 283.1 L662.4 283.1 L662.9 283.2 L663.4 283.3 L663.9 283.4 L664.4 283.6 L664.9 283.9 L665.4 284.2 L665.9 284.6 L666.4 284.7 L666.9 284.7 L667.4 284.6 L667.9 284.7 L668.4 285.0 L668.9 285.3 L669.4 285.6 L669.9 285.7 L670.4 285.7 L670.9 285.7 L671.4 285.7 L671.40 286.00 Z" fill="#F4BCC2" stroke="none"/>
<path d="M344.90 287.60 L344.9 288.2 L345.4 288.3 L345.9 288.3 L346.4 288.3 L346.9 288.3 L347.4 288.3 L347.9 288.3 L348.4 288.3 L348.9 288.3 L349.4 288.3 L349.9 288.4 L350.4 288.4 L350.9 288.4 L351.4 288.4 L351.9 288.4 L352.4 288.4 L352.9 288.4 L353.4 288.5 L353.9 288.5 L354.4 288.5 L354.9 288.5 L355.4 288.5 L355.9 288.5 L356.4 288.5 L356.9 288.6 L357.4 288.6 L357.9 288.6 L358.4 288.6 L358.9 288.6 L359.4 288.7 L359.9 288.7 L360.4 288.7 L360.9 288.7 L361.4 288.7 L361.9 288.7 L362.4 288.8 L362.9 288.8 L363.4 288.8 L363.9 288.8 L364.4 288.9 L364.9 288.9 L365.4 288.9 L365.9 288.9 L366.4 288.9 L366.9 289.0 L367.4 289.0 L367.9 289.0 L368.4 289.0 L368.9 289.1 L369.4 289.1 L369.9 289.1 L370.4 289.1 L370.9 289.2 L371.4 289.2 L371.9 289.2 L372.4 289.2 L372.9 289.3 L373.4 289.3 L373.9 289.3 L374.4 289.4 L374.9 289.4 L375.4 289.4 L375.9 289.5 L376.4 289.5 L376.9 289.5 L377.4 289.5 L377.9 289.6 L378.4 289.6 L378.9 289.6 L379.4 289.7 L379.9 289.7 L380.4 289.7 L380.9 289.8 L381.4 289.8 L381.9 289.9 L382.4 289.9 L382.9 289.9 L383.4 290.0 L383.9 290.0 L384.4 290.0 L384.9 290.1 L385.4 290.1 L385.9 290.2 L386.4 290.2 L386.9 290.2 L387.4 290.3 L387.9 290.3 L388.4 290.4 L388.9 290.4 L389.4 290.5 L389.9 290.5 L390.4 290.5 L390.9 290.6 L391.4 290.6 L391.9 290.7 L392.4 290.7 L392.9 290.8 L393.4 290.8 L393.9 290.9 L394.4 290.9 L394.9 291.0 L395.4 291.0 L395.9 291.1 L396.4 291.1 L396.9 291.2 L397.4 291.2 L397.9 291.3 L398.4 291.3 L398.9 291.4 L399.4 291.4 L399.9 291.5 L400.4 291.6 L400.9 291.6 L401.4 291.7 L401.9 291.7 L402.4 291.8 L402.9 291.9 L403.4 291.9 L403.9 292.0 L404.4 292.0 L404.9 292.1 L405.4 292.2 L405.9 292.2 L406.4 292.3 L406.9 292.4 L407.4 292.4 L407.9 292.5 L408.4 292.6 L408.9 292.6 L409.4 292.7 L409.9 292.8 L410.4 292.8 L410.9 292.9 L411.4 293.0 L411.9 293.0 L412.4 293.1 L412.9 293.2 L413.4 293.3 L413.9 293.3 L414.4 293.4 L414.9 293.5 L415.4 293.6 L415.9 293.6 L416.4 293.7 L416.9 293.8 L417.4 293.9 L417.9 294.0 L418.4 294.0 L418.9 294.1 L419.4 294.2 L419.9 294.3 L420.4 294.4 L420.9 294.5 L421.4 294.6 L421.9 294.6 L422.4 294.7 L422.9 294.8 L423.4 294.9 L423.9 295.0 L424.4 295.1 L424.9 295.2 L425.4 295.3 L425.9 295.4 L426.4 295.5 L426.9 295.5 L427.4 295.6 L427.9 295.7 L428.4 295.8 L428.9 295.9 L429.4 296.0 L429.9 296.1 L430.4 296.2 L430.9 296.3 L431.4 296.4 L431.9 296.5 L432.4 296.6 L432.9 296.7 L433.4 296.8 L433.9 296.9 L434.4 297.0 L434.9 297.2 L435.4 297.3 L435.9 297.4 L436.4 297.5 L436.9 297.6 L437.4 297.7 L437.9 297.8 L438.4 297.9 L438.9 298.0 L439.4 298.1 L439.9 298.2 L440.4 298.3 L440.9 298.4 L441.4 298.6 L441.9 298.7 L442.4 298.8 L442.9 298.9 L443.4 299.0 L443.9 299.1 L444.4 299.2 L444.9 299.3 L445.4 299.4 L445.9 299.5 L446.4 299.6 L446.9 299.7 L447.4 299.7 L447.9 299.8 L448.4 299.9 L448.9 299.9 L449.4 300.0 L449.9 300.0 L450.4 300.0 L450.9 300.0 L451.4 300.0 L451.9 299.9 L452.4 299.9 L452.9 299.8 L453.4 299.7 L453.9 299.6 L454.4 299.5 L454.9 299.4 L455.4 299.3 L455.9 299.1 L456.4 298.9 L456.9 298.8 L457.4 298.6 L457.9 298.4 L458.4 298.2 L458.9 297.9 L459.4 297.7 L459.9 297.5 L460.4 297.2 L460.9 297.0 L461.4 296.7 L461.9 296.4 L462.4 296.2 L462.9 295.9 L463.4 295.6 L463.9 295.2 L464.4 294.9 L464.9 294.4 L465.4 294.0 L465.9 293.4 L466.4 292.8 L466.9 292.1 L467.4 291.3 L467.9 290.4 L468.4 289.6 L468.9 288.7 L469.4 288.0 L469.9 287.4 L470.4 286.9 L470.9 286.4 L471.4 286.0 L471.9 285.6 L472.4 285.3 L472.9 284.9 L473.4 284.6 L473.9 284.2 L474.4 283.9 L474.9 283.7 L475.4 283.5 L475.9 283.4 L476.4 283.3 L476.9 283.3 L477.4 283.4 L477.9 283.4 L478.4 283.4 L478.9 283.5 L479.4 283.6 L479.9 283.6 L480.4 283.7 L480.9 283.8 L481.4 284.0 L481.9 284.1 L482.4 284.2 L482.9 284.3 L483.4 284.5 L483.9 284.6 L484.4 284.7 L484.9 284.9 L485.4 285.0 L485.9 285.1 L486.4 285.2 L486.9 285.2 L487.4 285.3 L487.9 285.3 L488.4 285.4 L488.9 285.5 L489.4 285.5 L489.9 285.6 L490.4 285.7 L490.9 285.8 L491.4 285.8 L491.9 285.8 L492.4 285.8 L492.9 285.7 L493.4 285.7 L493.9 285.6 L494.4 285.6 L494.9 285.6 L495.4 285.7 L495.9 285.8 L496.4 286.0 L496.9 286.1 L497.4 286.0 L497.9 285.9 L498.4 285.8 L498.9 285.7 L499.4 285.7 L499.9 285.7 L500.4 285.9 L500.9 286.0 L501.4 286.1 L501.9 286.0 L502.4 285.8 L502.9 285.6 L503.4 285.6 L503.9 285.6 L504.4 285.8 L504.9 286.1 L505.4 286.3 L505.9 286.6 L506.4 286.8 L506.9 287.0 L507.4 287.2 L507.9 287.3 L508.4 287.4 L508.9 287.3 L509.4 287.3 L509.9 287.3 L510.4 287.4 L510.9 287.6 L511.4 287.7 L511.9 287.7 L512.4 287.4 L512.9 287.0 L513.4 286.7 L513.9 286.5 L514.4 286.7 L514.9 286.9 L515.4 287.1 L515.9 287.2 L516.4 287.2 L516.9 287.2 L517.4 287.4 L517.9 287.5 L518.4 287.4 L518.9 287.3 L519.4 287.0 L519.9 286.8 L520.4 286.6 L520.9 286.5 L521.4 286.5 L521.9 286.4 L522.4 286.3 L522.9 286.2 L523.4 286.2 L523.9 286.3 L524.4 286.6 L524.9 287.0 L525.4 287.3 L525.9 287.5 L526.4 287.7 L526.9 287.8 L527.4 287.7 L527.9 287.6 L528.4 287.5 L528.9 287.6 L529.4 287.8 L529.9 287.9 L530.4 287.9 L530.9 287.8 L531.4 287.7 L531.9 287.6 L532.4 287.6 L532.9 287.8 L533.4 287.9 L533.9 288.1 L534.4 288.3 L534.9 288.6 L535.4 288.8 L535.9 288.8 L536.4 288.7 L536.9 288.4 L537.4 288.1 L537.9 287.9 L538.4 287.7 L538.9 287.4 L539.4 287.1 L539.9 286.7 L540.4 286.5 L540.9 286.4 L541.4 286.5 L541.9 286.6 L542.4 286.8 L542.9 286.8 L543.4 286.7 L543.9 286.5 L544.4 286.4 L544.9 286.2 L545.4 286.1 L545.9 286.2 L546.4 286.4 L546.9 286.8 L547.4 287.2 L547.9 287.6 L548.4 287.9 L548.9 288.2 L549.4 288.5 L549.9 288.8 L550.4 289.1 L550.9 289.4 L551.4 289.4 L551.9 289.2 L552.4 288.8 L552.9 288.3 L553.4 287.9 L553.9 287.5 L554.4 287.2 L554.9 287.1 L555.4 287.1 L555.9 287.0 L556.4 286.7 L556.9 286.3 L557.4 285.9 L557.9 285.6 L558.4 285.5 L558.9 285.6 L559.4 285.7 L559.9 285.5 L560.4 285.2 L560.9 284.8 L561.4 284.5 L561.9 284.5 L562.4 284.6 L562.9 284.7 L563.4 284.8 L563.9 284.9 L564.4 285.0 L564.9 285.2 L565.4 285.4 L565.9 285.6 L566.4 285.6 L566.9 285.5 L567.4 285.5 L567.9 285.6 L568.4 285.7 L568.9 285.9 L569.4 286.1 L569.9 286.1 L570.4 286.0 L570.9 285.8 L571.4 285.6 L571.9 285.5 L572.4 285.4 L572.9 285.4 L573.4 285.5 L573.9 285.6 L574.4 285.7 L574.9 285.9 L575.4 285.9 L575.9 285.8 L576.4 285.4 L576.9 285.0 L577.4 284.5 L577.9 284.3 L578.4 284.3 L578.9 284.5 L579.4 284.9 L579.9 285.2 L580.4 285.3 L580.9 285.3 L581.4 285.4 L581.9 285.5 L582.4 285.8 L582.9 286.1 L583.4 286.1 L583.9 285.8 L584.4 285.5 L584.9 285.3 L585.4 285.2 L585.9 285.3 L586.4 285.4 L586.9 285.5 L587.4 285.4 L587.9 285.2 L588.4 285.1 L588.9 285.2 L589.4 285.4 L589.9 285.8 L590.4 286.1 L590.9 286.2 L591.4 286.3 L591.9 286.2 L592.4 286.2 L592.9 286.1 L593.4 285.9 L593.9 285.7 L594.4 285.6 L594.9 285.5 L595.4 285.4 L595.9 285.3 L596.4 285.1 L596.9 284.9 L597.4 284.8 L597.9 284.8 L598.4 284.8 L598.9 284.9 L599.4 285.0 L599.9 285.2 L600.4 285.4 L600.9 285.6 L601.4 285.7 L601.9 285.9 L602.4 286.1 L602.9 286.4 L603.4 286.9 L603.9 287.4 L604.4 287.7 L604.9 287.7 L605.4 287.5 L605.9 287.3 L606.4 287.2 L606.9 287.2 L607.4 287.2 L607.9 287.1 L608.4 287.2 L608.9 287.5 L609.4 287.9 L609.9 288.3 L610.4 288.6 L610.9 288.7 L611.4 288.7 L611.9 288.6 L612.4 288.5 L612.9 288.5 L613.4 288.6 L613.9 288.8 L614.4 288.9 L614.9 288.9 L615.4 288.9 L615.9 289.0 L616.4 289.2 L616.9 289.6 L617.4 290.2 L617.9 290.7 L618.4 291.2 L618.9 291.4 L619.4 291.3 L619.9 291.1 L620.4 290.8 L620.9 290.6 L621.4 290.4 L621.9 290.3 L622.4 290.2 L622.9 290.1 L623.4 289.9 L623.9 289.5 L624.4 289.1 L624.9 288.7 L625.4 288.4 L625.9 288.0 L626.4 287.7 L626.9 287.5 L627.4 287.3 L627.9 287.1 L628.4 286.8 L628.9 286.5 L629.4 286.2 L629.9 285.9 L630.4 285.6 L630.9 285.4 L631.4 285.2 L631.9 285.1 L632.4 285.0 L632.9 284.8 L633.4 284.6 L633.9 284.5 L634.4 284.5 L634.9 284.8 L635.4 285.1 L635.9 285.5 L636.4 285.7 L636.9 285.8 L637.4 285.8 L637.9 285.7 L638.4 285.7 L638.9 285.7 L639.4 285.8 L639.9 285.9 L640.4 286.0 L640.9 286.1 L641.4 286.1 L641.9 286.1 L642.4 286.0 L642.9 286.0 L643.4 285.9 L643.9 285.7 L644.4 285.6 L644.9 285.5 L645.4 285.5 L645.9 285.6 L646.4 285.9 L646.9 286.2 L647.4 286.5 L647.9 286.6 L648.4 286.7 L648.9 286.8 L649.4 286.8 L649.9 286.9 L650.4 287.0 L650.9 287.1 L651.4 287.2 L651.9 287.1 L652.4 286.9 L652.9 286.6 L653.4 286.3 L653.9 286.1 L654.4 285.8 L654.9 285.6 L655.4 285.5 L655.9 285.3 L656.4 285.3 L656.9 285.1 L657.4 284.9 L657.9 284.7 L658.4 284.5 L658.9 284.4 L659.4 284.4 L659.9 284.3 L660.4 284.3 L660.9 284.4 L661.4 284.3 L661.9 284.3 L662.4 284.2 L662.9 284.0 L663.4 284.0 L663.9 283.9 L664.4 284.0 L664.9 284.2 L665.4 284.4 L665.9 284.6 L666.4 284.7 L666.9 284.8 L667.4 285.0 L667.9 285.2 L668.4 285.4 L668.9 285.4 L669.4 285.3 L669.9 285.2 L670.4 285.3 L670.9 285.5 L671.4 285.8 L671.40 286.00 Z" fill="#F7D2D7" stroke="none"/>
<path d="M344.9 290.6 L345.4 290.6 L345.9 290.7 L346.4 290.8 L346.9 290.9 L347.4 290.9 L347.9 291.0 L348.4 291.1 L348.9 291.2 L349.4 291.3 L349.9 291.3 L350.4 291.4 L350.9 291.5 L351.4 291.6 L351.9 291.7 L352.4 291.8 L352.9 291.9 L353.4 292.0 L353.9 292.1 L354.4 292.2 L354.9 292.3 L355.4 292.4 L355.9 292.5 L356.4 292.6 L356.9 292.7 L357.4 292.8 L357.9 293.0 L358.4 293.1 L358.9 293.2 L359.4 293.3 L359.9 293.4 L360.4 293.6 L360.9 293.7 L361.4 293.8 L361.9 293.9 L362.4 294.1 L362.9 294.2 L363.4 294.4 L363.9 294.5 L364.4 294.6 L364.9 294.8 L365.4 294.9 L365.9 295.1 L366.4 295.2 L366.9 295.4 L367.4 295.5 L367.9 295.7 L368.4 295.9 L368.9 296.0 L369.4 296.2 L369.9 296.4 L370.4 296.5 L370.9 296.7 L371.4 296.9 L371.9 297.1 L372.4 297.3 L372.9 297.4 L373.4 297.6 L373.9 297.8 L374.4 298.0 L374.9 298.2 L375.4 298.4 L375.9 298.6 L376.4 298.8 L376.9 299.0 L377.4 299.3 L377.9 299.5 L378.4 299.7 L378.9 299.9 L379.4 300.2 L379.9 300.4 L380.4 300.6 L380.9 300.9 L381.4 301.1 L381.9 301.3 L382.4 301.6 L382.9 301.8 L383.4 302.1 L383.9 302.4 L384.4 302.6 L384.9 302.9 L385.4 303.2 L385.9 303.4 L386.4 303.7 L386.9 304.0 L387.4 304.3 L387.9 304.6 L388.4 304.9 L388.9 305.2 L389.4 305.5 L389.9 305.8 L390.4 306.1 L390.9 306.4 L391.4 306.7 L391.9 307.1 L392.4 307.4 L392.9 307.7 L393.4 308.1 L393.9 308.4 L394.4 308.8 L394.9 309.1 L395.4 309.5 L395.9 309.9 L396.4 310.2 L396.9 310.6 L397.4 311.0 L397.9 311.4 L398.4 311.8 L398.9 312.2 L399.4 312.6 L399.9 313.0 L400.4 313.4 L400.9 313.8 L401.4 314.3 L401.9 314.7 L402.4 315.1 L402.9 315.6 L403.4 316.0 L403.9 316.5 L404.4 317.0 L404.9 317.4 L405.4 317.9 L405.9 318.4 L406.4 318.9 L406.9 319.4 L407.4 319.9 L407.9 320.4 L408.4 321.0 L408.9 321.5 L409.4 322.0 L409.9 322.6 L410.4 323.1 L410.9 323.7 L411.4 324.3 L411.9 324.9 L412.4 325.4 L412.9 326.0 L413.4 326.6 L413.9 327.3 L414.4 327.9 L414.9 328.5 L415.4 329.2 L415.9 329.8 L416.4 330.5 L416.9 331.1 L417.4 331.8 L417.9 332.5 L418.4 333.2 L418.9 333.9 L419.4 334.6 L419.9 335.4 L420.4 336.1 L420.9 336.8 L421.4 337.6 L421.9 338.4 L422.4 339.2 L422.9 340.0 L423.4 340.8 L423.9 341.6 L424.4 342.4 L424.9 343.2 L425.4 344.1 L425.9 345.0 L426.4 345.8 L426.9 346.7 L427.4 347.6 L427.9 348.5 L428.4 349.5 L428.9 350.4 L429.4 351.4 L429.9 352.3 L430.4 353.3 L430.9 354.3 L431.4 355.3 L431.9 356.3 L432.4 357.3 L432.9 358.4 L433.4 359.4 L433.9 360.5 L434.4 361.6 L434.9 362.7 L435.4 363.8 L435.9 364.9 L436.4 366.1 L436.9 367.2 L437.4 368.4 L437.9 369.5 L438.4 370.7 L438.9 371.9 L439.4 373.1 L439.9 374.3 L440.4 375.6 L440.9 376.8 L441.4 378.0 L441.9 379.3 L442.4 380.5 L442.9 381.7 L443.4 383.0 L443.9 384.2 L444.4 385.4 L444.9 386.6 L445.4 387.7 L445.9 388.8 L446.4 389.9 L446.9 390.9 L447.4 391.9 L447.9 392.7 L448.4 393.5 L448.9 394.1 L449.4 394.6 L449.9 394.9 L450.4 395.0 L450.9 395.0 L451.4 394.8 L451.9 394.5 L452.4 394.1 L452.9 393.5 L453.4 392.9 L453.9 392.1 L454.4 391.2 L454.9 390.1 L455.4 389.0 L455.9 387.7 L456.4 386.4 L456.9 384.9 L457.4 383.4 L457.9 381.7 L458.4 380.0 L458.9 378.2 L459.4 376.3 L459.9 374.3 L460.4 372.3 L460.9 370.2 L461.4 368.0 L461.9 365.7 L462.4 363.4 L462.9 360.9 L463.4 358.3 L463.9 355.6 L464.4 352.5 L464.9 349.2 L465.4 345.4 L465.9 340.9 L466.4 335.8 L466.9 329.9 L467.4 323.3 L467.9 316.3 L468.4 309.3 L468.9 302.9 L469.4 297.3 L469.9 292.7 L470.4 289.1 L470.9 286.1 L471.4 283.7 L471.9 281.6 L472.4 279.8 L472.9 278.1 L473.4 276.5 L473.9 275.0 L474.4 273.7 L474.9 272.6 L475.4 271.7 L475.9 271.2 L476.4 271.0 L476.9 271.0 L477.4 271.1 L477.9 271.2 L478.4 271.4 L478.9 271.7 L479.4 272.0 L479.9 272.4 L480.4 272.8 L480.9 273.3 L481.4 273.8 L481.9 274.3 L482.4 274.9 L482.9 275.4 L483.4 276.0 L483.9 276.7 L484.4 277.3 L484.9 277.9 L485.4 278.5 L485.9 279.1 L486.4 279.6 L486.9 280.2 L487.4 280.6 L487.9 281.1 L488.4 281.5 L488.9 281.9 L489.4 282.2 L489.9 282.5 L490.4 282.8 L490.9 283.1 L491.4 283.5 L491.9 284.0 L492.4 284.4 L492.9 284.9 L493.4 285.2 L493.9 285.3 L494.4 285.1 L494.9 284.9 L495.4 284.9 L495.9 285.1 L496.4 285.4 L496.9 285.5 L497.4 285.2 L497.9 284.6 L498.4 284.0 L498.9 283.7 L499.4 283.8 L499.9 284.2 L500.4 284.8 L500.9 285.4 L501.4 285.8 L501.9 286.0 L502.4 286.0 L502.9 286.1 L503.4 286.2 L503.9 286.4 L504.4 286.8 L504.9 287.1 L505.4 287.5 L505.9 288.0 L506.4 288.6 L506.9 288.8 L507.4 288.7 L507.9 288.2 L508.4 287.7 L508.9 287.5 L509.4 287.6 L509.9 287.9 L510.4 288.1 L510.9 288.2 L511.4 288.2 L511.9 288.3 L512.4 288.4 L512.9 288.4 L513.4 288.4 L513.9 288.2 L514.4 288.2 L514.9 288.2 L515.4 288.4 L515.9 288.7 L516.4 288.9 L516.9 289.0 L517.4 288.7 L517.9 288.2 L518.4 287.4 L518.9 286.6 L519.4 285.9 L519.9 285.6 L520.4 285.6 L520.9 285.9 L521.4 286.3 L521.9 286.6 L522.4 286.9 L522.9 287.2 L523.4 287.5 L523.9 287.8 L524.4 288.0 L524.9 288.1 L525.4 288.1 L525.9 288.0 L526.4 287.7 L526.9 287.3 L527.4 286.7 L527.9 286.4 L528.4 286.5 L528.9 286.9 L529.4 287.5 L529.9 287.9 L530.4 288.1 L530.9 288.2 L531.4 288.1 L531.9 287.8 L532.4 287.4 L532.9 287.2 L533.4 287.3 L533.9 287.8 L534.4 288.5 L534.9 289.1 L535.4 289.4 L535.9 289.3 L536.4 289.0 L536.9 288.5 L537.4 288.1 L537.9 287.7 L538.4 287.3 L538.9 287.0 L539.4 286.9 L539.9 287.0 L540.4 287.2 L540.9 287.2 L541.4 286.9 L541.9 286.5 L542.4 286.1 L542.9 286.0 L543.4 286.2 L543.9 286.7 L544.4 287.1 L544.9 287.4 L545.4 287.7 L545.9 287.9 L546.4 288.0 L546.9 288.0 L547.4 287.8 L547.9 287.6 L548.4 287.4 L548.9 287.2 L549.4 286.9 L549.9 286.7 L550.4 286.7 L550.9 286.8 L551.4 287.0 L551.9 287.3 L552.4 287.7 L552.9 288.2 L553.4 288.7 L553.9 289.1 L554.4 289.3 L554.9 289.2 L555.4 288.9 L555.9 288.4 L556.4 287.9 L556.9 287.4 L557.4 286.7 L557.9 286.1 L558.4 285.5 L558.9 285.1 L559.4 284.9 L559.9 284.7 L560.4 284.6 L560.9 284.6 L561.4 284.6 L561.9 284.6 L562.4 284.5 L562.9 284.6 L563.4 285.0 L563.9 285.5 L564.4 285.9 L564.9 286.3 L565.4 286.5 L565.9 286.8 L566.4 287.2 L566.9 287.5 L567.4 287.8 L567.9 288.0 L568.4 288.2 L568.9 288.3 L569.4 288.1 L569.9 287.7 L570.4 287.2 L570.9 286.9 L571.4 286.9 L571.9 287.2 L572.4 287.6 L572.9 287.7 L573.4 287.4 L573.9 286.9 L574.4 286.5 L574.9 286.4 L575.4 286.6 L575.9 287.0 L576.4 287.4 L576.9 287.5 L577.4 287.2 L577.9 286.7 L578.4 286.0 L578.9 285.5 L579.4 285.2 L579.9 285.1 L580.4 285.1 L580.9 285.2 L581.4 285.5 L581.9 285.7 L582.4 285.8 L582.9 285.6 L583.4 285.5 L583.9 285.5 L584.4 285.8 L584.9 286.4 L585.4 287.0 L585.9 287.6 L586.4 287.8 L586.9 287.6 L587.4 287.1 L587.9 286.5 L588.4 285.9 L588.9 285.3 L589.4 284.8 L589.9 284.4 L590.4 284.1 L590.9 284.1 L591.4 284.1 L591.9 284.0 L592.4 283.7 L592.9 283.4 L593.4 283.3 L593.9 283.5 L594.4 284.1 L594.9 284.8 L595.4 285.4 L595.9 285.9 L596.4 286.3 L596.9 287.0 L597.4 287.7 L597.9 288.4 L598.4 289.2 L598.9 290.3 L599.4 291.5 L599.9 292.4 L600.4 292.8 L600.9 292.8 L601.4 292.8 L601.9 293.1 L602.4 293.7 L602.9 294.2 L603.4 294.5 L603.9 294.4 L604.4 294.2 L604.9 293.9 L605.4 293.8 L605.9 293.6 L606.4 293.2 L606.9 292.5 L607.4 291.6 L607.9 290.7 L608.4 290.0 L608.9 289.5 L609.4 289.4 L609.9 289.4 L610.4 289.5 L610.9 289.7 L611.4 290.1 L611.9 290.8 L612.4 291.6 L612.9 292.3 L613.4 292.9 L613.9 293.6 L614.4 294.7 L614.9 296.0 L615.4 297.5 L615.9 299.0 L616.4 300.8 L616.9 302.7 L617.4 304.9 L617.9 307.1 L618.4 308.6 L618.9 308.0 L619.4 306.3 L619.9 304.5 L620.4 302.6 L620.9 300.9 L621.4 299.2 L621.9 297.8 L622.4 296.8 L622.9 296.0 L623.4 295.4 L623.9 294.6 L624.4 293.7 L624.9 292.8 L625.4 292.1 L625.9 291.5 L626.4 290.8 L626.9 289.9 L627.4 289.0 L627.9 288.1 L628.4 287.4 L628.9 287.0 L629.4 286.9 L629.9 286.9 L630.4 286.7 L630.9 286.4 L631.4 286.1 L631.9 285.8 L632.4 285.7 L632.9 285.6 L633.4 285.6 L633.9 285.7 L634.4 286.0 L634.9 286.2 L635.4 286.3 L635.9 286.3 L636.4 286.1 L636.9 285.7 L637.4 285.3 L637.9 285.0 L638.4 284.9 L638.9 285.1 L639.4 285.4 L639.9 285.7 L640.4 286.1 L640.9 286.4 L641.4 286.8 L641.9 287.3 L642.4 287.7 L642.9 287.7 L643.4 287.0 L643.9 286.0 L644.4 285.0 L644.9 284.5 L645.4 284.5 L645.9 284.9 L646.4 285.1 L646.9 285.2 L647.4 285.2 L647.9 285.5 L648.4 286.1 L648.9 286.6 L649.4 286.9 L649.9 286.9 L650.4 286.7 L650.9 286.5 L651.4 286.3 L651.9 286.3 L652.4 286.6 L652.9 287.0 L653.4 287.5 L653.9 287.8 L654.4 287.7 L654.9 287.0 L655.4 285.9 L655.9 284.6 L656.4 283.7 L656.9 283.4 L657.4 283.6 L657.9 284.0 L658.4 284.5 L658.9 284.9 L659.4 285.3 L659.9 285.6 L660.4 285.7 L660.9 285.6 L661.4 285.3 L661.9 285.0 L662.4 284.7 L662.9 284.6 L663.4 284.6 L663.9 284.7 L664.4 284.8 L664.9 284.8 L665.4 284.6 L665.9 284.3 L666.4 284.0 L666.9 283.8 L667.4 283.8 L667.9 283.9 L668.4 284.3 L668.9 284.9 L669.4 285.7 L669.9 286.4 L670.4 286.9 L670.9 286.8 L671.4 286.5" fill="none" stroke="#FFFFFF" stroke-width="0.35" stroke-linejoin="round" stroke-opacity="0.6"/>
<path d="M344.9 290.3 L345.4 290.4 L345.9 290.4 L346.4 290.5 L346.9 290.6 L347.4 290.6 L347.9 290.7 L348.4 290.8 L348.9 290.9 L349.4 290.9 L349.9 291.0 L350.4 291.1 L350.9 291.2 L351.4 291.2 L351.9 291.3 L352.4 291.4 L352.9 291.5 L353.4 291.6 L353.9 291.7 L354.4 291.8 L354.9 291.9 L355.4 292.0 L355.9 292.1 L356.4 292.2 L356.9 292.3 L357.4 292.4 L357.9 292.5 L358.4 292.6 L358.9 292.7 L359.4 292.8 L359.9 292.9 L360.4 293.0 L360.9 293.1 L361.4 293.3 L361.9 293.4 L362.4 293.5 L362.9 293.6 L363.4 293.7 L363.9 293.9 L364.4 294.0 L364.9 294.1 L365.4 294.3 L365.9 294.4 L366.4 294.5 L366.9 294.7 L367.4 294.8 L367.9 295.0 L368.4 295.1 L368.9 295.3 L369.4 295.4 L369.9 295.6 L370.4 295.7 L370.9 295.9 L371.4 296.0 L371.9 296.2 L372.4 296.4 L372.9 296.6 L373.4 296.7 L373.9 296.9 L374.4 297.1 L374.9 297.3 L375.4 297.4 L375.9 297.6 L376.4 297.8 L376.9 298.0 L377.4 298.2 L377.9 298.4 L378.4 298.6 L378.9 298.8 L379.4 299.0 L379.9 299.2 L380.4 299.4 L380.9 299.6 L381.4 299.9 L381.9 300.1 L382.4 300.3 L382.9 300.5 L383.4 300.8 L383.9 301.0 L384.4 301.3 L384.9 301.5 L385.4 301.7 L385.9 302.0 L386.4 302.2 L386.9 302.5 L387.4 302.8 L387.9 303.0 L388.4 303.3 L388.9 303.6 L389.4 303.8 L389.9 304.1 L390.4 304.4 L390.9 304.7 L391.4 305.0 L391.9 305.3 L392.4 305.6 L392.9 305.9 L393.4 306.2 L393.9 306.5 L394.4 306.8 L394.9 307.2 L395.4 307.5 L395.9 307.8 L396.4 308.2 L396.9 308.5 L397.4 308.9 L397.9 309.2 L398.4 309.6 L398.9 309.9 L399.4 310.3 L399.9 310.7 L400.4 311.1 L400.9 311.4 L401.4 311.8 L401.9 312.2 L402.4 312.6 L402.9 313.0 L403.4 313.5 L403.9 313.9 L404.4 314.3 L404.9 314.7 L405.4 315.2 L405.9 315.6 L406.4 316.1 L406.9 316.5 L407.4 317.0 L407.9 317.5 L408.4 317.9 L408.9 318.4 L409.4 318.9 L409.9 319.4 L410.4 319.9 L410.9 320.4 L411.4 320.9 L411.9 321.5 L412.4 322.0 L412.9 322.6 L413.4 323.1 L413.9 323.7 L414.4 324.2 L414.9 324.8 L415.4 325.4 L415.9 326.0 L416.4 326.6 L416.9 327.2 L417.4 327.8 L417.9 328.4 L418.4 329.1 L418.9 329.7 L419.4 330.4 L419.9 331.0 L420.4 331.7 L420.9 332.4 L421.4 333.1 L421.9 333.8 L422.4 334.5 L422.9 335.2 L423.4 335.9 L423.9 336.7 L424.4 337.4 L424.9 338.2 L425.4 339.0 L425.9 339.8 L426.4 340.6 L426.9 341.4 L427.4 342.2 L427.9 343.0 L428.4 343.9 L428.9 344.7 L429.4 345.6 L429.9 346.5 L430.4 347.4 L430.9 348.3 L431.4 349.2 L431.9 350.1 L432.4 351.0 L432.9 352.0 L433.4 352.9 L433.9 353.9 L434.4 354.9 L434.9 355.9 L435.4 356.9 L435.9 357.9 L436.4 359.0 L436.9 360.0 L437.4 361.1 L437.9 362.1 L438.4 363.2 L438.9 364.3 L439.4 365.4 L439.9 366.5 L440.4 367.6 L440.9 368.7 L441.4 369.9 L441.9 371.0 L442.4 372.1 L442.9 373.2 L443.4 374.3 L443.9 375.5 L444.4 376.6 L444.9 377.6 L445.4 378.7 L445.9 379.7 L446.4 380.7 L446.9 381.6 L447.4 382.5 L447.9 383.2 L448.4 383.9 L448.9 384.5 L449.4 384.9 L449.9 385.2 L450.4 385.3 L450.9 385.3 L451.4 385.1 L451.9 384.9 L452.4 384.5 L452.9 384.0 L453.4 383.4 L453.9 382.6 L454.4 381.8 L454.9 380.9 L455.4 379.8 L455.9 378.7 L456.4 377.4 L456.9 376.1 L457.4 374.7 L457.9 373.2 L458.4 371.6 L458.9 370.0 L459.4 368.2 L459.9 366.5 L460.4 364.6 L460.9 362.7 L461.4 360.7 L461.9 358.6 L462.4 356.5 L462.9 354.3 L463.4 351.9 L463.9 349.4 L464.4 346.7 L464.9 343.6 L465.4 340.1 L465.9 336.1 L466.4 331.4 L466.9 326.0 L467.4 320.0 L467.9 313.7 L468.4 307.3 L468.9 301.4 L469.4 296.3 L469.9 292.1 L470.4 288.8 L470.9 286.1 L471.4 283.9 L471.9 282.0 L472.4 280.2 L472.9 278.6 L473.4 277.1 L473.9 275.7 L474.4 274.5 L474.9 273.5 L475.4 272.7 L475.9 272.2 L476.4 272.0 L476.9 272.0 L477.4 272.1 L477.9 272.2 L478.4 272.4 L478.9 272.7 L479.4 273.0 L479.9 273.3 L480.4 273.7 L480.9 274.1 L481.4 274.6 L481.9 275.1 L482.4 275.6 L482.9 276.2 L483.4 276.7 L483.9 277.3 L484.4 277.9 L484.9 278.5 L485.4 279.0 L485.9 279.6 L486.4 280.1 L486.9 280.7 L487.4 281.3 L487.9 281.8 L488.4 282.3 L488.9 282.6 L489.4 282.8 L489.9 282.9 L490.4 283.1 L490.9 283.3 L491.4 283.5 L491.9 283.7 L492.4 283.7 L492.9 283.8 L493.4 283.8 L493.9 283.8 L494.4 283.9 L494.9 284.2 L495.4 284.6 L495.9 284.9 L496.4 285.2 L496.9 285.6 L497.4 285.9 L497.9 286.3 L498.4 286.7 L498.9 287.0 L499.4 287.3 L499.9 287.4 L500.4 287.4 L500.9 287.2 L501.4 286.9 L501.9 286.7 L502.4 286.6 L502.9 286.6 L503.4 286.9 L503.9 287.2 L504.4 287.4 L504.9 287.4 L505.4 287.1 L505.9 286.8 L506.4 286.7 L506.9 286.8 L507.4 287.1 L507.9 287.3 L508.4 287.4 L508.9 287.3 L509.4 287.2 L509.9 286.9 L510.4 286.6 L510.9 286.3 L511.4 286.1 L511.9 285.9 L512.4 285.9 L512.9 286.1 L513.4 286.6 L513.9 287.3 L514.4 287.7 L514.9 287.9 L515.4 287.7 L515.9 287.4 L516.4 287.1 L516.9 286.8 L517.4 286.6 L517.9 286.6 L518.4 286.7 L518.9 287.1 L519.4 287.6 L519.9 288.1 L520.4 288.2 L520.9 287.9 L521.4 287.3 L521.9 286.6 L522.4 286.0 L522.9 285.7 L523.4 285.7 L523.9 285.9 L524.4 286.1 L524.9 286.4 L525.4 286.5 L525.9 286.7 L526.4 286.7 L526.9 286.7 L527.4 286.6 L527.9 286.3 L528.4 286.1 L528.9 286.1 L529.4 286.5 L529.9 287.0 L530.4 287.4 L530.9 287.6 L531.4 287.6 L531.9 287.5 L532.4 287.6 L532.9 287.8 L533.4 288.0 L533.9 288.2 L534.4 288.3 L534.9 288.3 L535.4 288.2 L535.9 288.2 L536.4 288.1 L536.9 288.1 L537.4 287.9 L537.9 287.6 L538.4 287.3 L538.9 287.0 L539.4 286.9 L539.9 287.0 L540.4 287.0 L540.9 286.9 L541.4 286.6 L541.9 286.1 L542.4 285.8 L542.9 285.7 L543.4 285.9 L543.9 286.1 L544.4 286.3 L544.9 286.5 L545.4 286.8 L545.9 287.2 L546.4 287.6 L546.9 288.0 L547.4 288.3 L547.9 288.4 L548.4 288.3 L548.9 288.0 L549.4 287.6 L549.9 287.1 L550.4 286.8 L550.9 286.7 L551.4 286.8 L551.9 286.9 L552.4 287.1 L552.9 287.4 L553.4 287.6 L553.9 287.5 L554.4 287.3 L554.9 287.0 L555.4 286.6 L555.9 286.3 L556.4 286.0 L556.9 285.8 L557.4 285.4 L557.9 284.8 L558.4 284.3 L558.9 283.9 L559.4 283.7 L559.9 283.6 L560.4 283.6 L560.9 283.8 L561.4 284.0 L561.9 284.0 L562.4 284.0 L562.9 283.9 L563.4 283.9 L563.9 284.3 L564.4 284.9 L564.9 285.5 L565.4 286.0 L565.9 286.1 L566.4 285.9 L566.9 285.6 L567.4 285.5 L567.9 285.5 L568.4 285.7 L568.9 286.1 L569.4 286.5 L569.9 286.8 L570.4 286.8 L570.9 286.7 L571.4 286.5 L571.9 286.4 L572.4 286.2 L572.9 286.0 L573.4 285.9 L573.9 286.0 L574.4 286.3 L574.9 286.5 L575.4 286.5 L575.9 286.1 L576.4 285.7 L576.9 285.4 L577.4 285.1 L577.9 284.9 L578.4 284.7 L578.9 284.4 L579.4 284.1 L579.9 283.6 L580.4 283.1 L580.9 282.8 L581.4 282.6 L581.9 282.9 L582.4 283.4 L582.9 283.9 L583.4 284.5 L583.9 285.0 L584.4 285.4 L584.9 285.7 L585.4 285.5 L585.9 285.0 L586.4 284.5 L586.9 284.1 L587.4 283.9 L587.9 283.8 L588.4 283.8 L588.9 283.8 L589.4 283.9 L589.9 283.8 L590.4 283.6 L590.9 283.4 L591.4 283.2 L591.9 283.3 L592.4 283.6 L592.9 283.9 L593.4 284.4 L593.9 284.9 L594.4 285.5 L594.9 285.9 L595.4 286.1 L595.9 285.9 L596.4 285.5 L596.9 285.0 L597.4 284.5 L597.9 284.3 L598.4 284.2 L598.9 284.4 L599.4 284.7 L599.9 285.2 L600.4 285.9 L600.9 286.5 L601.4 287.0 L601.9 287.3 L602.4 287.6 L602.9 287.7 L603.4 287.8 L603.9 288.0 L604.4 288.3 L604.9 288.7 L605.4 289.1 L605.9 289.5 L606.4 289.6 L606.9 289.4 L607.4 288.8 L607.9 288.0 L608.4 287.3 L608.9 287.2 L609.4 287.5 L609.9 287.9 L610.4 288.3 L610.9 288.6 L611.4 288.9 L611.9 289.5 L612.4 290.4 L612.9 291.5 L613.4 292.8 L613.9 294.1 L614.4 295.2 L614.9 296.3 L615.4 297.2 L615.9 298.0 L616.4 299.0 L616.9 300.1 L617.4 301.4 L617.9 302.7 L618.4 303.8 L618.9 303.3 L619.4 302.2 L619.9 301.0 L620.4 299.8 L620.9 298.6 L621.4 297.6 L621.9 296.7 L622.4 295.8 L622.9 294.8 L623.4 293.7 L623.9 292.7 L624.4 291.7 L624.9 290.9 L625.4 290.3 L625.9 289.8 L626.4 289.5 L626.9 289.3 L627.4 289.0 L627.9 288.8 L628.4 288.6 L628.9 288.4 L629.4 288.1 L629.9 287.7 L630.4 287.2 L630.9 287.1 L631.4 287.2 L631.9 287.5 L632.4 287.5 L632.9 287.2 L633.4 286.7 L633.9 286.1 L634.4 285.6 L634.9 285.4 L635.4 285.3 L635.9 285.5 L636.4 285.7 L636.9 286.0 L637.4 286.1 L637.9 286.1 L638.4 286.1 L638.9 286.0 L639.4 285.9 L639.9 285.9 L640.4 285.9 L640.9 285.9 L641.4 286.0 L641.9 286.1 L642.4 286.1 L642.9 286.0 L643.4 285.7 L643.9 285.5 L644.4 285.6 L644.9 286.2 L645.4 286.8 L645.9 287.3 L646.4 287.4 L646.9 287.3 L647.4 287.3 L647.9 287.4 L648.4 287.7 L648.9 287.8 L649.4 287.7 L649.9 287.4 L650.4 286.9 L650.9 286.5 L651.4 286.1 L651.9 285.9 L652.4 285.9 L652.9 286.0 L653.4 286.1 L653.9 286.2 L654.4 286.3 L654.9 286.2 L655.4 286.1 L655.9 285.9 L656.4 285.8 L656.9 285.6 L657.4 285.3 L657.9 285.1 L658.4 285.0 L658.9 285.0 L659.4 284.8 L659.9 284.4 L660.4 283.9 L660.9 283.6 L661.4 283.4 L661.9 283.5 L662.4 283.7 L662.9 283.9 L663.4 283.9 L663.9 283.8 L664.4 283.6 L664.9 283.5 L665.4 283.3 L665.9 283.3 L666.4 283.2 L666.9 283.3 L667.4 283.4 L667.9 283.5 L668.4 283.7 L668.9 284.0 L669.4 284.3 L669.9 284.7 L670.4 285.2 L670.9 285.6 L671.4 285.9" fill="none" stroke="#FFFFFF" stroke-width="0.35" stroke-linejoin="round" stroke-opacity="0.6"/>
<path d="M344.9 290.0 L345.4 290.1 L345.9 290.1 L346.4 290.2 L346.9 290.3 L347.4 290.3 L347.9 290.4 L348.4 290.5 L348.9 290.5 L349.4 290.6 L349.9 290.7 L350.4 290.7 L350.9 290.8 L351.4 290.9 L351.9 291.0 L352.4 291.0 L352.9 291.1 L353.4 291.2 L353.9 291.3 L354.4 291.4 L354.9 291.4 L355.4 291.5 L355.9 291.6 L356.4 291.7 L356.9 291.8 L357.4 291.9 L357.9 292.0 L358.4 292.1 L358.9 292.2 L359.4 292.3 L359.9 292.4 L360.4 292.5 L360.9 292.6 L361.4 292.7 L361.9 292.8 L362.4 292.9 L362.9 293.0 L363.4 293.1 L363.9 293.2 L364.4 293.3 L364.9 293.5 L365.4 293.6 L365.9 293.7 L366.4 293.8 L366.9 294.0 L367.4 294.1 L367.9 294.2 L368.4 294.4 L368.9 294.5 L369.4 294.6 L369.9 294.8 L370.4 294.9 L370.9 295.0 L371.4 295.2 L371.9 295.3 L372.4 295.5 L372.9 295.6 L373.4 295.8 L373.9 296.0 L374.4 296.1 L374.9 296.3 L375.4 296.4 L375.9 296.6 L376.4 296.8 L376.9 297.0 L377.4 297.1 L377.9 297.3 L378.4 297.5 L378.9 297.7 L379.4 297.9 L379.9 298.0 L380.4 298.2 L380.9 298.4 L381.4 298.6 L381.9 298.8 L382.4 299.0 L382.9 299.2 L383.4 299.4 L383.9 299.7 L384.4 299.9 L384.9 300.1 L385.4 300.3 L385.9 300.5 L386.4 300.8 L386.9 301.0 L387.4 301.2 L387.9 301.5 L388.4 301.7 L388.9 302.0 L389.4 302.2 L389.9 302.5 L390.4 302.7 L390.9 303.0 L391.4 303.2 L391.9 303.5 L392.4 303.8 L392.9 304.1 L393.4 304.3 L393.9 304.6 L394.4 304.9 L394.9 305.2 L395.4 305.5 L395.9 305.8 L396.4 306.1 L396.9 306.4 L397.4 306.7 L397.9 307.0 L398.4 307.4 L398.9 307.7 L399.4 308.0 L399.9 308.4 L400.4 308.7 L400.9 309.0 L401.4 309.4 L401.9 309.7 L402.4 310.1 L402.9 310.5 L403.4 310.8 L403.9 311.2 L404.4 311.6 L404.9 312.0 L405.4 312.4 L405.9 312.8 L406.4 313.2 L406.9 313.6 L407.4 314.0 L407.9 314.4 L408.4 314.9 L408.9 315.3 L409.4 315.8 L409.9 316.2 L410.4 316.7 L410.9 317.1 L411.4 317.6 L411.9 318.1 L412.4 318.5 L412.9 319.0 L413.4 319.5 L413.9 320.0 L414.4 320.5 L414.9 321.1 L415.4 321.6 L415.9 322.1 L416.4 322.7 L416.9 323.2 L417.4 323.8 L417.9 324.3 L418.4 324.9 L418.9 325.5 L419.4 326.1 L419.9 326.7 L420.4 327.3 L420.9 327.9 L421.4 328.5 L421.9 329.1 L422.4 329.8 L422.9 330.4 L423.4 331.1 L423.9 331.8 L424.4 332.4 L424.9 333.1 L425.4 333.8 L425.9 334.5 L426.4 335.2 L426.9 336.0 L427.4 336.7 L427.9 337.5 L428.4 338.2 L428.9 339.0 L429.4 339.8 L429.9 340.5 L430.4 341.3 L430.9 342.2 L431.4 343.0 L431.9 343.8 L432.4 344.7 L432.9 345.5 L433.4 346.4 L433.9 347.3 L434.4 348.1 L434.9 349.0 L435.4 350.0 L435.9 350.9 L436.4 351.8 L436.9 352.7 L437.4 353.7 L437.9 354.7 L438.4 355.6 L438.9 356.6 L439.4 357.6 L439.9 358.6 L440.4 359.6 L440.9 360.6 L441.4 361.6 L441.9 362.6 L442.4 363.6 L442.9 364.6 L443.4 365.6 L443.9 366.6 L444.4 367.6 L444.9 368.6 L445.4 369.5 L445.9 370.5 L446.4 371.3 L446.9 372.2 L447.4 372.9 L447.9 373.6 L448.4 374.2 L448.9 374.7 L449.4 375.1 L449.9 375.4 L450.4 375.5 L450.9 375.5 L451.4 375.3 L451.9 375.1 L452.4 374.8 L452.9 374.3 L453.4 373.8 L453.9 373.1 L454.4 372.4 L454.9 371.5 L455.4 370.6 L455.9 369.5 L456.4 368.4 L456.9 367.2 L457.4 366.0 L457.9 364.6 L458.4 363.2 L458.9 361.7 L459.4 360.1 L459.9 358.5 L460.4 356.9 L460.9 355.1 L461.4 353.3 L461.9 351.5 L462.4 349.6 L462.9 347.6 L463.4 345.4 L463.9 343.2 L464.4 340.7 L464.9 337.9 L465.4 334.8 L465.9 331.2 L466.4 327.0 L466.9 322.1 L467.4 316.7 L467.9 311.0 L468.4 305.3 L468.9 299.9 L469.4 295.3 L469.9 291.5 L470.4 288.5 L470.9 286.1 L471.4 284.0 L471.9 282.3 L472.4 280.7 L472.9 279.2 L473.4 277.8 L473.9 276.5 L474.4 275.4 L474.9 274.4 L475.4 273.7 L475.9 273.2 L476.4 273.1 L476.9 273.1 L477.4 273.1 L477.9 273.3 L478.4 273.4 L478.9 273.7 L479.4 274.0 L479.9 274.3 L480.4 274.6 L480.9 275.0 L481.4 275.5 L481.9 276.0 L482.4 276.4 L482.9 276.9 L483.4 277.5 L483.9 278.0 L484.4 278.5 L484.9 279.1 L485.4 279.6 L485.9 280.1 L486.4 280.6 L486.9 281.0 L487.4 281.4 L487.9 281.8 L488.4 282.1 L488.9 282.5 L489.4 282.9 L489.9 283.3 L490.4 283.7 L490.9 284.1 L491.4 284.4 L491.9 284.7 L492.4 285.1 L492.9 285.5 L493.4 285.8 L493.9 285.8 L494.4 285.8 L494.9 285.9 L495.4 286.0 L495.9 286.3 L496.4 286.5 L496.9 286.7 L497.4 286.8 L497.9 286.9 L498.4 286.8 L498.9 286.7 L499.4 286.6 L499.9 286.4 L500.4 286.2 L500.9 285.9 L501.4 285.8 L501.9 285.8 L502.4 286.1 L502.9 286.5 L503.4 286.8 L503.9 287.1 L504.4 287.4 L504.9 287.6 L505.4 287.7 L505.9 287.8 L506.4 288.0 L506.9 288.2 L507.4 288.5 L507.9 288.6 L508.4 288.4 L508.9 287.9 L509.4 287.4 L509.9 286.9 L510.4 286.5 L510.9 286.1 L511.4 285.7 L511.9 285.4 L512.4 285.3 L512.9 285.3 L513.4 285.5 L513.9 285.4 L514.4 285.3 L514.9 285.1 L515.4 285.3 L515.9 285.9 L516.4 286.7 L516.9 287.4 L517.4 287.6 L517.9 287.4 L518.4 286.7 L518.9 285.8 L519.4 284.9 L519.9 284.4 L520.4 284.2 L520.9 284.4 L521.4 284.7 L521.9 285.0 L522.4 285.2 L522.9 285.5 L523.4 285.8 L523.9 286.2 L524.4 286.4 L524.9 286.7 L525.4 286.9 L525.9 287.2 L526.4 287.4 L526.9 287.3 L527.4 287.0 L527.9 286.8 L528.4 286.8 L528.9 287.1 L529.4 287.5 L529.9 288.0 L530.4 288.3 L530.9 288.4 L531.4 288.4 L531.9 288.2 L532.4 288.2 L532.9 288.2 L533.4 288.1 L533.9 288.0 L534.4 287.8 L534.9 287.8 L535.4 287.9 L535.9 288.0 L536.4 287.9 L536.9 287.8 L537.4 287.7 L537.9 287.5 L538.4 287.2 L538.9 286.9 L539.4 286.8 L539.9 287.0 L540.4 287.4 L540.9 287.9 L541.4 288.2 L541.9 288.2 L542.4 287.8 L542.9 287.1 L543.4 286.2 L543.9 285.5 L544.4 285.4 L544.9 285.7 L545.4 286.3 L545.9 286.7 L546.4 286.9 L546.9 287.0 L547.4 287.1 L547.9 287.2 L548.4 287.4 L548.9 287.6 L549.4 287.8 L549.9 287.9 L550.4 288.0 L550.9 288.0 L551.4 288.0 L551.9 288.2 L552.4 288.6 L552.9 288.9 L553.4 289.1 L553.9 289.0 L554.4 288.6 L554.9 288.0 L555.4 287.4 L555.9 286.7 L556.4 286.1 L556.9 285.5 L557.4 285.2 L557.9 285.0 L558.4 285.1 L558.9 285.4 L559.4 285.6 L559.9 285.7 L560.4 285.8 L560.9 285.9 L561.4 286.1 L561.9 286.4 L562.4 286.7 L562.9 286.7 L563.4 286.5 L563.9 286.1 L564.4 285.6 L564.9 285.4 L565.4 285.2 L565.9 285.1 L566.4 285.1 L566.9 285.2 L567.4 285.4 L567.9 285.8 L568.4 286.1 L568.9 286.3 L569.4 286.4 L569.9 286.4 L570.4 286.5 L570.9 286.6 L571.4 286.7 L571.9 287.0 L572.4 287.3 L572.9 287.3 L573.4 287.0 L573.9 286.5 L574.4 285.9 L574.9 285.4 L575.4 285.0 L575.9 284.8 L576.4 284.4 L576.9 284.2 L577.4 284.1 L577.9 284.3 L578.4 284.7 L578.9 285.0 L579.4 285.2 L579.9 285.2 L580.4 285.1 L580.9 284.9 L581.4 284.9 L581.9 284.9 L582.4 285.2 L582.9 285.4 L583.4 285.5 L583.9 285.4 L584.4 285.2 L584.9 284.9 L585.4 284.7 L585.9 284.6 L586.4 284.7 L586.9 284.8 L587.4 285.0 L587.9 285.1 L588.4 285.2 L588.9 285.2 L589.4 285.2 L589.9 285.1 L590.4 285.0 L590.9 284.8 L591.4 284.6 L591.9 284.5 L592.4 284.5 L592.9 284.7 L593.4 284.9 L593.9 285.0 L594.4 285.0 L594.9 285.0 L595.4 285.1 L595.9 285.3 L596.4 285.4 L596.9 285.7 L597.4 285.8 L597.9 285.9 L598.4 285.8 L598.9 285.5 L599.4 285.4 L599.9 285.3 L600.4 285.4 L600.9 285.4 L601.4 285.4 L601.9 285.4 L602.4 285.8 L602.9 286.3 L603.4 287.1 L603.9 288.0 L604.4 288.7 L604.9 289.3 L605.4 289.6 L605.9 289.6 L606.4 289.5 L606.9 289.3 L607.4 289.1 L607.9 289.1 L608.4 289.0 L608.9 289.0 L609.4 289.2 L609.9 289.6 L610.4 290.0 L610.9 290.3 L611.4 290.6 L611.9 290.9 L612.4 291.2 L612.9 291.5 L613.4 291.9 L613.9 292.3 L614.4 292.9 L614.9 293.9 L615.4 295.2 L615.9 296.7 L616.4 298.1 L616.9 299.5 L617.4 301.0 L617.9 302.7 L618.4 304.2 L618.9 304.3 L619.4 303.5 L619.9 302.2 L620.4 300.7 L620.9 299.1 L621.4 297.5 L621.9 295.9 L622.4 294.4 L622.9 292.9 L623.4 291.4 L623.9 290.1 L624.4 289.0 L624.9 288.3 L625.4 287.8 L625.9 287.7 L626.4 287.7 L626.9 287.9 L627.4 288.0 L627.9 288.0 L628.4 287.9 L628.9 287.7 L629.4 287.4 L629.9 287.0 L630.4 286.6 L630.9 286.3 L631.4 286.0 L631.9 285.7 L632.4 285.3 L632.9 284.9 L633.4 284.4 L633.9 283.9 L634.4 283.7 L634.9 283.7 L635.4 283.9 L635.9 284.1 L636.4 284.1 L636.9 284.2 L637.4 284.5 L637.9 285.0 L638.4 285.3 L638.9 285.4 L639.4 285.2 L639.9 285.0 L640.4 285.0 L640.9 285.2 L641.4 285.5 L641.9 285.9 L642.4 286.2 L642.9 286.3 L643.4 286.2 L643.9 286.1 L644.4 286.1 L644.9 286.0 L645.4 285.8 L645.9 285.3 L646.4 285.0 L646.9 285.1 L647.4 285.5 L647.9 285.8 L648.4 286.0 L648.9 285.9 L649.4 285.9 L649.9 286.1 L650.4 286.5 L650.9 286.9 L651.4 287.1 L651.9 286.9 L652.4 286.6 L652.9 286.2 L653.4 286.0 L653.9 286.0 L654.4 286.1 L654.9 286.3 L655.4 286.4 L655.9 286.3 L656.4 286.1 L656.9 285.8 L657.4 285.5 L657.9 285.1 L658.4 284.8 L658.9 284.6 L659.4 284.4 L659.9 284.4 L660.4 284.5 L660.9 284.5 L661.4 284.4 L661.9 284.0 L662.4 283.8 L662.9 283.8 L663.4 283.9 L663.9 283.9 L664.4 283.7 L664.9 283.6 L665.4 283.7 L665.9 284.2 L666.4 284.7 L666.9 285.2 L667.4 285.6 L667.9 285.8 L668.4 286.0 L668.9 286.0 L669.4 286.0 L669.9 285.9 L670.4 285.7 L670.9 285.6 L671.4 285.6" fill="none" stroke="#FFFFFF" stroke-width="0.35" stroke-linejoin="round" stroke-opacity="0.6"/>
<path d="M344.9 289.7 L345.4 289.8 L345.9 289.9 L346.4 289.9 L346.9 290.0 L347.4 290.0 L347.9 290.1 L348.4 290.1 L348.9 290.2 L349.4 290.3 L349.9 290.3 L350.4 290.4 L350.9 290.4 L351.4 290.5 L351.9 290.6 L352.4 290.6 L352.9 290.7 L353.4 290.8 L353.9 290.9 L354.4 290.9 L354.9 291.0 L355.4 291.1 L355.9 291.2 L356.4 291.2 L356.9 291.3 L357.4 291.4 L357.9 291.5 L358.4 291.6 L358.9 291.6 L359.4 291.7 L359.9 291.8 L360.4 291.9 L360.9 292.0 L361.4 292.1 L361.9 292.2 L362.4 292.3 L362.9 292.4 L363.4 292.5 L363.9 292.6 L364.4 292.7 L364.9 292.8 L365.4 292.9 L365.9 293.0 L366.4 293.1 L366.9 293.2 L367.4 293.3 L367.9 293.5 L368.4 293.6 L368.9 293.7 L369.4 293.8 L369.9 293.9 L370.4 294.1 L370.9 294.2 L371.4 294.3 L371.9 294.5 L372.4 294.6 L372.9 294.7 L373.4 294.9 L373.9 295.0 L374.4 295.1 L374.9 295.3 L375.4 295.4 L375.9 295.6 L376.4 295.7 L376.9 295.9 L377.4 296.0 L377.9 296.2 L378.4 296.3 L378.9 296.5 L379.4 296.7 L379.9 296.8 L380.4 297.0 L380.9 297.2 L381.4 297.4 L381.9 297.5 L382.4 297.7 L382.9 297.9 L383.4 298.1 L383.9 298.3 L384.4 298.5 L384.9 298.7 L385.4 298.8 L385.9 299.0 L386.4 299.3 L386.9 299.5 L387.4 299.7 L387.9 299.9 L388.4 300.1 L388.9 300.3 L389.4 300.5 L389.9 300.8 L390.4 301.0 L390.9 301.2 L391.4 301.4 L391.9 301.7 L392.4 301.9 L392.9 302.2 L393.4 302.4 L393.9 302.7 L394.4 302.9 L394.9 303.2 L395.4 303.4 L395.9 303.7 L396.4 304.0 L396.9 304.2 L397.4 304.5 L397.9 304.8 L398.4 305.1 L398.9 305.4 L399.4 305.7 L399.9 306.0 L400.4 306.3 L400.9 306.6 L401.4 306.9 L401.9 307.2 L402.4 307.5 L402.9 307.9 L403.4 308.2 L403.9 308.5 L404.4 308.9 L404.9 309.2 L405.4 309.6 L405.9 309.9 L406.4 310.3 L406.9 310.6 L407.4 311.0 L407.9 311.4 L408.4 311.8 L408.9 312.1 L409.4 312.5 L409.9 312.9 L410.4 313.3 L410.9 313.7 L411.4 314.2 L411.9 314.6 L412.4 315.0 L412.9 315.4 L413.4 315.9 L413.9 316.3 L414.4 316.8 L414.9 317.2 L415.4 317.7 L415.9 318.2 L416.4 318.7 L416.9 319.1 L417.4 319.6 L417.9 320.1 L418.4 320.6 L418.9 321.2 L419.4 321.7 L419.9 322.2 L420.4 322.7 L420.9 323.3 L421.4 323.8 L421.9 324.4 L422.4 325.0 L422.9 325.5 L423.4 326.1 L423.9 326.7 L424.4 327.3 L424.9 327.9 L425.4 328.5 L425.9 329.2 L426.4 329.8 L426.9 330.5 L427.4 331.1 L427.9 331.8 L428.4 332.4 L428.9 333.1 L429.4 333.8 L429.9 334.5 L430.4 335.2 L430.9 335.9 L431.4 336.7 L431.9 337.4 L432.4 338.2 L432.9 338.9 L433.4 339.7 L433.9 340.5 L434.4 341.2 L434.9 342.0 L435.4 342.8 L435.9 343.7 L436.4 344.5 L436.9 345.3 L437.4 346.2 L437.9 347.0 L438.4 347.9 L438.9 348.7 L439.4 349.6 L439.9 350.5 L440.4 351.4 L440.9 352.3 L441.4 353.2 L441.9 354.1 L442.4 355.0 L442.9 355.9 L443.4 356.8 L443.9 357.6 L444.4 358.5 L444.9 359.4 L445.4 360.2 L445.9 361.0 L446.4 361.8 L446.9 362.6 L447.4 363.2 L447.9 363.9 L448.4 364.4 L448.9 364.8 L449.4 365.2 L449.9 365.4 L450.4 365.5 L450.9 365.5 L451.4 365.4 L451.9 365.1 L452.4 364.8 L452.9 364.4 L453.4 363.9 L453.9 363.4 L454.4 362.7 L454.9 362.0 L455.4 361.1 L455.9 360.2 L456.4 359.2 L456.9 358.2 L457.4 357.0 L457.9 355.8 L458.4 354.6 L458.9 353.3 L459.4 351.9 L459.9 350.4 L460.4 349.0 L460.9 347.4 L461.4 345.8 L461.9 344.2 L462.4 342.5 L462.9 340.7 L463.4 338.8 L463.9 336.8 L464.4 334.6 L464.9 332.2 L465.4 329.4 L465.9 326.2 L466.4 322.5 L466.9 318.2 L467.4 313.4 L467.9 308.2 L468.4 303.2 L468.9 298.4 L469.4 294.3 L469.9 291.0 L470.4 288.2 L470.9 286.0 L471.4 284.2 L471.9 282.6 L472.4 281.2 L472.9 279.8 L473.4 278.5 L473.9 277.4 L474.4 276.3 L474.9 275.5 L475.4 274.8 L475.9 274.3 L476.4 274.2 L476.9 274.2 L477.4 274.2 L477.9 274.4 L478.4 274.5 L478.9 274.7 L479.4 275.0 L479.9 275.3 L480.4 275.6 L480.9 276.0 L481.4 276.4 L481.9 276.8 L482.4 277.3 L482.9 277.7 L483.4 278.2 L483.9 278.7 L484.4 279.2 L484.9 279.7 L485.4 280.2 L485.9 280.7 L486.4 281.1 L486.9 281.5 L487.4 281.8 L487.9 282.0 L488.4 282.3 L488.9 282.6 L489.4 283.0 L489.9 283.3 L490.4 283.6 L490.9 283.9 L491.4 284.2 L491.9 284.4 L492.4 284.6 L492.9 284.9 L493.4 285.1 L493.9 285.3 L494.4 285.6 L494.9 286.0 L495.4 286.4 L495.9 286.6 L496.4 286.7 L496.9 286.9 L497.4 287.1 L497.9 287.4 L498.4 287.7 L498.9 287.9 L499.4 287.8 L499.9 287.8 L500.4 287.8 L500.9 287.8 L501.4 287.8 L501.9 287.7 L502.4 287.5 L502.9 287.1 L503.4 286.7 L503.9 286.4 L504.4 286.2 L504.9 286.1 L505.4 286.2 L505.9 286.2 L506.4 286.2 L506.9 286.3 L507.4 286.4 L507.9 286.6 L508.4 286.9 L508.9 287.1 L509.4 287.3 L509.9 287.3 L510.4 287.4 L510.9 287.3 L511.4 287.3 L511.9 287.3 L512.4 287.3 L512.9 287.4 L513.4 287.5 L513.9 287.4 L514.4 287.1 L514.9 286.8 L515.4 286.5 L515.9 286.4 L516.4 286.5 L516.9 286.6 L517.4 286.8 L517.9 286.9 L518.4 286.9 L518.9 286.8 L519.4 286.5 L519.9 286.2 L520.4 286.0 L520.9 286.0 L521.4 286.1 L521.9 286.3 L522.4 286.6 L522.9 286.9 L523.4 287.2 L523.9 287.3 L524.4 287.3 L524.9 287.4 L525.4 287.5 L525.9 287.7 L526.4 287.9 L526.9 288.1 L527.4 288.1 L527.9 288.0 L528.4 288.0 L528.9 288.2 L529.4 288.4 L529.9 288.5 L530.4 288.3 L530.9 287.9 L531.4 287.3 L531.9 287.0 L532.4 287.0 L532.9 287.1 L533.4 287.2 L533.9 287.3 L534.4 287.3 L534.9 287.3 L535.4 287.5 L535.9 287.8 L536.4 288.1 L536.9 288.5 L537.4 288.9 L537.9 289.3 L538.4 289.4 L538.9 289.3 L539.4 289.1 L539.9 288.8 L540.4 288.2 L540.9 287.4 L541.4 286.4 L541.9 285.5 L542.4 284.8 L542.9 284.6 L543.4 284.8 L543.9 285.2 L544.4 285.5 L544.9 285.7 L545.4 285.7 L545.9 285.6 L546.4 285.5 L546.9 285.7 L547.4 286.1 L547.9 286.6 L548.4 287.0 L548.9 287.3 L549.4 287.3 L549.9 287.3 L550.4 287.2 L550.9 287.1 L551.4 287.0 L551.9 287.0 L552.4 286.9 L552.9 287.0 L553.4 287.2 L553.9 287.5 L554.4 287.7 L554.9 287.7 L555.4 287.3 L555.9 286.7 L556.4 286.2 L556.9 285.9 L557.4 285.8 L557.9 285.8 L558.4 286.0 L558.9 286.0 L559.4 285.9 L559.9 285.7 L560.4 285.5 L560.9 285.2 L561.4 285.0 L561.9 284.8 L562.4 284.5 L562.9 284.3 L563.4 284.1 L563.9 284.0 L564.4 284.0 L564.9 284.2 L565.4 284.5 L565.9 284.8 L566.4 285.3 L566.9 285.7 L567.4 285.9 L567.9 285.7 L568.4 285.3 L568.9 285.0 L569.4 284.9 L569.9 285.0 L570.4 285.2 L570.9 285.4 L571.4 285.6 L571.9 285.7 L572.4 285.9 L572.9 286.3 L573.4 286.7 L573.9 287.1 L574.4 287.2 L574.9 287.0 L575.4 286.6 L575.9 286.3 L576.4 286.1 L576.9 285.9 L577.4 285.7 L577.9 285.4 L578.4 284.9 L578.9 284.5 L579.4 284.2 L579.9 283.9 L580.4 283.7 L580.9 283.6 L581.4 283.6 L581.9 283.8 L582.4 284.2 L582.9 284.7 L583.4 285.1 L583.9 285.4 L584.4 285.5 L584.9 285.5 L585.4 285.6 L585.9 285.8 L586.4 285.9 L586.9 285.8 L587.4 285.7 L587.9 285.5 L588.4 285.1 L588.9 284.6 L589.4 284.1 L589.9 283.9 L590.4 284.1 L590.9 284.9 L591.4 285.9 L591.9 286.7 L592.4 287.0 L592.9 286.8 L593.4 286.1 L593.9 285.5 L594.4 285.1 L594.9 284.9 L595.4 285.0 L595.9 285.0 L596.4 285.2 L596.9 285.3 L597.4 285.4 L597.9 285.3 L598.4 285.1 L598.9 284.9 L599.4 284.8 L599.9 284.9 L600.4 285.0 L600.9 285.2 L601.4 285.2 L601.9 285.2 L602.4 285.4 L602.9 285.8 L603.4 286.3 L603.9 286.8 L604.4 287.0 L604.9 287.2 L605.4 287.4 L605.9 287.4 L606.4 287.4 L606.9 287.3 L607.4 287.2 L607.9 287.1 L608.4 287.2 L608.9 287.5 L609.4 287.9 L609.9 288.5 L610.4 289.1 L610.9 289.7 L611.4 290.0 L611.9 290.3 L612.4 290.7 L612.9 291.2 L613.4 291.8 L613.9 292.6 L614.4 293.6 L614.9 294.7 L615.4 295.6 L615.9 296.4 L616.4 297.1 L616.9 297.7 L617.4 298.6 L617.9 299.6 L618.4 300.8 L618.9 300.9 L619.4 300.7 L619.9 300.2 L620.4 299.4 L620.9 298.3 L621.4 296.9 L621.9 295.5 L622.4 294.2 L622.9 293.0 L623.4 292.1 L623.9 291.2 L624.4 290.6 L624.9 290.2 L625.4 289.9 L625.9 289.6 L626.4 289.3 L626.9 288.9 L627.4 288.7 L627.9 288.4 L628.4 288.0 L628.9 287.5 L629.4 287.0 L629.9 286.5 L630.4 286.1 L630.9 285.8 L631.4 285.6 L631.9 285.5 L632.4 285.4 L632.9 285.3 L633.4 285.3 L633.9 285.3 L634.4 285.3 L634.9 285.2 L635.4 285.0 L635.9 284.8 L636.4 284.7 L636.9 284.7 L637.4 284.8 L637.9 285.0 L638.4 285.1 L638.9 285.4 L639.4 285.6 L639.9 285.7 L640.4 285.8 L640.9 285.9 L641.4 286.2 L641.9 286.4 L642.4 286.4 L642.9 286.4 L643.4 286.4 L643.9 286.5 L644.4 286.7 L644.9 286.9 L645.4 287.0 L645.9 287.0 L646.4 287.1 L646.9 287.1 L647.4 287.1 L647.9 287.0 L648.4 287.0 L648.9 287.2 L649.4 287.4 L649.9 287.6 L650.4 287.5 L650.9 287.1 L651.4 286.6 L651.9 286.1 L652.4 285.8 L652.9 285.6 L653.4 285.6 L653.9 285.8 L654.4 286.1 L654.9 286.4 L655.4 286.7 L655.9 286.9 L656.4 286.9 L656.9 286.8 L657.4 286.5 L657.9 286.2 L658.4 285.8 L658.9 285.5 L659.4 285.1 L659.9 284.6 L660.4 284.1 L660.9 283.6 L661.4 283.2 L661.9 282.7 L662.4 282.4 L662.9 282.1 L663.4 282.1 L663.9 282.2 L664.4 282.5 L664.9 283.0 L665.4 283.5 L665.9 284.1 L666.4 284.4 L666.9 284.6 L667.4 284.5 L667.9 284.4 L668.4 284.4 L668.9 284.5 L669.4 284.6 L669.9 284.7 L670.4 284.7 L670.9 284.7 L671.4 284.8" fill="none" stroke="#FFFFFF" stroke-width="0.35" stroke-linejoin="round" stroke-opacity="0.6"/>
<path d="M344.9 289.6 L345.4 289.7 L345.9 289.7 L346.4 289.8 L346.9 289.8 L347.4 289.9 L347.9 289.9 L348.4 290.0 L348.9 290.0 L349.4 290.1 L349.9 290.1 L350.4 290.2 L350.9 290.2 L351.4 290.3 L351.9 290.4 L352.4 290.4 L352.9 290.5 L353.4 290.5 L353.9 290.6 L354.4 290.7 L354.9 290.7 L355.4 290.8 L355.9 290.9 L356.4 291.0 L356.9 291.0 L357.4 291.1 L357.9 291.2 L358.4 291.2 L358.9 291.3 L359.4 291.4 L359.9 291.5 L360.4 291.6 L360.9 291.6 L361.4 291.7 L361.9 291.8 L362.4 291.9 L362.9 292.0 L363.4 292.1 L363.9 292.2 L364.4 292.3 L364.9 292.4 L365.4 292.4 L365.9 292.5 L366.4 292.6 L366.9 292.7 L367.4 292.8 L367.9 292.9 L368.4 293.0 L368.9 293.2 L369.4 293.3 L369.9 293.4 L370.4 293.5 L370.9 293.6 L371.4 293.7 L371.9 293.8 L372.4 293.9 L372.9 294.1 L373.4 294.2 L373.9 294.3 L374.4 294.4 L374.9 294.6 L375.4 294.7 L375.9 294.8 L376.4 295.0 L376.9 295.1 L377.4 295.2 L377.9 295.4 L378.4 295.5 L378.9 295.7 L379.4 295.8 L379.9 296.0 L380.4 296.1 L380.9 296.3 L381.4 296.4 L381.9 296.6 L382.4 296.7 L382.9 296.9 L383.4 297.1 L383.9 297.2 L384.4 297.4 L384.9 297.6 L385.4 297.7 L385.9 297.9 L386.4 298.1 L386.9 298.3 L387.4 298.5 L387.9 298.7 L388.4 298.8 L388.9 299.0 L389.4 299.2 L389.9 299.4 L390.4 299.6 L390.9 299.8 L391.4 300.0 L391.9 300.2 L392.4 300.5 L392.9 300.7 L393.4 300.9 L393.9 301.1 L394.4 301.3 L394.9 301.6 L395.4 301.8 L395.9 302.0 L396.4 302.3 L396.9 302.5 L397.4 302.8 L397.9 303.0 L398.4 303.2 L398.9 303.5 L399.4 303.8 L399.9 304.0 L400.4 304.3 L400.9 304.6 L401.4 304.8 L401.9 305.1 L402.4 305.4 L402.9 305.7 L403.4 306.0 L403.9 306.3 L404.4 306.5 L404.9 306.9 L405.4 307.2 L405.9 307.5 L406.4 307.8 L406.9 308.1 L407.4 308.4 L407.9 308.7 L408.4 309.1 L408.9 309.4 L409.4 309.8 L409.9 310.1 L410.4 310.4 L410.9 310.8 L411.4 311.2 L411.9 311.5 L412.4 311.9 L412.9 312.3 L413.4 312.7 L413.9 313.0 L414.4 313.4 L414.9 313.8 L415.4 314.2 L415.9 314.6 L416.4 315.0 L416.9 315.5 L417.4 315.9 L417.9 316.3 L418.4 316.8 L418.9 317.2 L419.4 317.6 L419.9 318.1 L420.4 318.6 L420.9 319.0 L421.4 319.5 L421.9 320.0 L422.4 320.5 L422.9 321.0 L423.4 321.5 L423.9 322.0 L424.4 322.5 L424.9 323.0 L425.4 323.5 L425.9 324.1 L426.4 324.6 L426.9 325.2 L427.4 325.7 L427.9 326.3 L428.4 326.8 L428.9 327.4 L429.4 328.0 L429.9 328.6 L430.4 329.2 L430.9 329.8 L431.4 330.4 L431.9 331.1 L432.4 331.7 L432.9 332.3 L433.4 333.0 L433.9 333.6 L434.4 334.3 L434.9 335.0 L435.4 335.6 L435.9 336.3 L436.4 337.0 L436.9 337.7 L437.4 338.4 L437.9 339.2 L438.4 339.9 L438.9 340.6 L439.4 341.3 L439.9 342.1 L440.4 342.8 L440.9 343.6 L441.4 344.3 L441.9 345.1 L442.4 345.8 L442.9 346.6 L443.4 347.3 L443.9 348.1 L444.4 348.8 L444.9 349.5 L445.4 350.2 L445.9 350.9 L446.4 351.5 L446.9 352.1 L447.4 352.7 L447.9 353.2 L448.4 353.7 L448.9 354.0 L449.4 354.3 L449.9 354.5 L450.4 354.6 L450.9 354.6 L451.4 354.5 L451.9 354.3 L452.4 354.0 L452.9 353.7 L453.4 353.3 L453.9 352.8 L454.4 352.2 L454.9 351.5 L455.4 350.8 L455.9 350.0 L456.4 349.2 L456.9 348.3 L457.4 347.3 L457.9 346.3 L458.4 345.2 L458.9 344.0 L459.4 342.9 L459.9 341.6 L460.4 340.4 L460.9 339.0 L461.4 337.7 L461.9 336.3 L462.4 334.8 L462.9 333.3 L463.4 331.6 L463.9 329.9 L464.4 328.0 L464.9 325.9 L465.4 323.5 L465.9 320.7 L466.4 317.5 L466.9 313.8 L467.4 309.7 L467.9 305.3 L468.4 300.9 L468.9 296.8 L469.4 293.2 L469.9 290.3 L470.4 288.0 L470.9 286.0 L471.4 284.4 L471.9 283.0 L472.4 281.7 L472.9 280.5 L473.4 279.4 L473.9 278.3 L474.4 277.4 L474.9 276.6 L475.4 276.0 L475.9 275.6 L476.4 275.4 L476.9 275.5 L477.4 275.5 L477.9 275.6 L478.4 275.8 L478.9 276.0 L479.4 276.2 L479.9 276.5 L480.4 276.8 L480.9 277.1 L481.4 277.5 L481.9 277.8 L482.4 278.2 L482.9 278.7 L483.4 279.1 L483.9 279.5 L484.4 280.0 L484.9 280.4 L485.4 280.8 L485.9 281.2 L486.4 281.7 L486.9 282.1 L487.4 282.5 L487.9 282.8 L488.4 283.2 L488.9 283.5 L489.4 283.7 L489.9 284.0 L490.4 284.3 L490.9 284.6 L491.4 284.9 L491.9 285.1 L492.4 285.2 L492.9 285.3 L493.4 285.3 L493.9 285.4 L494.4 285.6 L494.9 285.7 L495.4 285.8 L495.9 285.9 L496.4 286.1 L496.9 286.3 L497.4 286.8 L497.9 287.4 L498.4 288.0 L498.9 288.4 L499.4 288.5 L499.9 288.3 L500.4 287.9 L500.9 287.5 L501.4 287.3 L501.9 287.3 L502.4 287.3 L502.9 287.3 L503.4 287.4 L503.9 287.6 L504.4 287.8 L504.9 287.9 L505.4 287.8 L505.9 287.7 L506.4 287.5 L506.9 287.4 L507.4 287.2 L507.9 287.0 L508.4 286.7 L508.9 286.5 L509.4 286.5 L509.9 286.5 L510.4 286.5 L510.9 286.6 L511.4 286.8 L511.9 287.1 L512.4 287.4 L512.9 287.4 L513.4 287.2 L513.9 286.9 L514.4 286.8 L514.9 286.8 L515.4 287.1 L515.9 287.5 L516.4 287.7 L516.9 287.8 L517.4 287.6 L517.9 287.1 L518.4 286.6 L518.9 286.2 L519.4 285.9 L519.9 285.8 L520.4 285.6 L520.9 285.5 L521.4 285.5 L521.9 285.6 L522.4 285.8 L522.9 286.1 L523.4 286.3 L523.9 286.5 L524.4 286.6 L524.9 286.6 L525.4 286.3 L525.9 286.0 L526.4 285.8 L526.9 285.9 L527.4 286.4 L527.9 287.1 L528.4 287.9 L528.9 288.4 L529.4 288.7 L529.9 288.7 L530.4 288.5 L530.9 288.2 L531.4 288.2 L531.9 288.3 L532.4 288.4 L532.9 288.5 L533.4 288.5 L533.9 288.6 L534.4 288.8 L534.9 289.0 L535.4 289.1 L535.9 289.1 L536.4 289.0 L536.9 288.8 L537.4 288.5 L537.9 288.3 L538.4 288.0 L538.9 287.6 L539.4 287.2 L539.9 286.8 L540.4 286.5 L540.9 286.4 L541.4 286.6 L541.9 286.8 L542.4 286.9 L542.9 286.9 L543.4 286.7 L543.9 286.6 L544.4 286.5 L544.9 286.5 L545.4 286.5 L545.9 286.6 L546.4 286.8 L546.9 287.1 L547.4 287.4 L547.9 287.7 L548.4 288.1 L548.9 288.5 L549.4 288.9 L549.9 289.2 L550.4 289.5 L550.9 289.7 L551.4 289.7 L551.9 289.5 L552.4 289.1 L552.9 288.8 L553.4 288.5 L553.9 288.3 L554.4 288.1 L554.9 287.7 L555.4 287.0 L555.9 286.2 L556.4 285.3 L556.9 284.7 L557.4 284.3 L557.9 284.2 L558.4 284.1 L558.9 283.9 L559.4 283.7 L559.9 283.6 L560.4 283.5 L560.9 283.5 L561.4 283.7 L561.9 283.8 L562.4 284.1 L562.9 284.5 L563.4 285.0 L563.9 285.5 L564.4 285.9 L564.9 286.0 L565.4 286.0 L565.9 285.9 L566.4 285.8 L566.9 285.8 L567.4 285.8 L567.9 285.9 L568.4 286.0 L568.9 286.2 L569.4 286.4 L569.9 286.7 L570.4 287.0 L570.9 287.3 L571.4 287.5 L571.9 287.4 L572.4 287.0 L572.9 286.3 L573.4 285.7 L573.9 285.1 L574.4 284.7 L574.9 284.5 L575.4 284.6 L575.9 284.7 L576.4 284.8 L576.9 284.9 L577.4 285.0 L577.9 285.1 L578.4 285.1 L578.9 285.2 L579.4 285.4 L579.9 285.7 L580.4 285.9 L580.9 286.0 L581.4 286.0 L581.9 286.0 L582.4 286.1 L582.9 286.1 L583.4 285.9 L583.9 285.5 L584.4 285.2 L584.9 285.0 L585.4 285.1 L585.9 285.4 L586.4 285.7 L586.9 286.0 L587.4 286.3 L587.9 286.4 L588.4 286.3 L588.9 286.1 L589.4 286.0 L589.9 285.9 L590.4 285.7 L590.9 285.4 L591.4 284.9 L591.9 284.6 L592.4 284.4 L592.9 284.4 L593.4 284.5 L593.9 284.6 L594.4 284.6 L594.9 284.6 L595.4 284.6 L595.9 284.7 L596.4 284.8 L596.9 285.0 L597.4 285.3 L597.9 285.5 L598.4 285.6 L598.9 285.8 L599.4 286.1 L599.9 286.3 L600.4 286.3 L600.9 286.3 L601.4 286.3 L601.9 286.4 L602.4 286.6 L602.9 286.9 L603.4 287.2 L603.9 287.4 L604.4 287.5 L604.9 287.6 L605.4 287.9 L605.9 288.2 L606.4 288.5 L606.9 288.7 L607.4 288.8 L607.9 288.8 L608.4 288.8 L608.9 288.7 L609.4 288.7 L609.9 288.7 L610.4 288.6 L610.9 288.7 L611.4 289.0 L611.9 289.5 L612.4 290.0 L612.9 290.4 L613.4 290.6 L613.9 290.7 L614.4 290.8 L614.9 291.0 L615.4 291.7 L615.9 292.8 L616.4 294.3 L616.9 295.8 L617.4 297.1 L617.9 298.2 L618.4 299.0 L618.9 298.7 L619.4 298.0 L619.9 297.3 L620.4 296.5 L620.9 295.8 L621.4 295.2 L621.9 294.5 L622.4 293.7 L622.9 292.9 L623.4 292.2 L623.9 291.7 L624.4 291.2 L624.9 290.8 L625.4 290.3 L625.9 289.7 L626.4 289.1 L626.9 288.7 L627.4 288.4 L627.9 288.1 L628.4 287.7 L628.9 287.2 L629.4 286.6 L629.9 286.1 L630.4 285.7 L630.9 285.4 L631.4 285.2 L631.9 285.1 L632.4 284.9 L632.9 284.6 L633.4 284.3 L633.9 284.1 L634.4 284.1 L634.9 284.3 L635.4 284.6 L635.9 284.9 L636.4 285.2 L636.9 285.4 L637.4 285.5 L637.9 285.5 L638.4 285.6 L638.9 285.6 L639.4 285.6 L639.9 285.6 L640.4 285.7 L640.9 285.8 L641.4 285.9 L641.9 285.9 L642.4 285.7 L642.9 285.4 L643.4 285.3 L643.9 285.2 L644.4 285.2 L644.9 285.2 L645.4 285.2 L645.9 285.3 L646.4 285.3 L646.9 285.2 L647.4 285.1 L647.9 285.0 L648.4 284.9 L648.9 285.1 L649.4 285.4 L649.9 285.7 L650.4 285.9 L650.9 285.9 L651.4 285.7 L651.9 285.5 L652.4 285.4 L652.9 285.6 L653.4 286.0 L653.9 286.3 L654.4 286.7 L654.9 287.0 L655.4 287.2 L655.9 287.2 L656.4 286.9 L656.9 286.4 L657.4 285.9 L657.9 285.6 L658.4 285.5 L658.9 285.5 L659.4 285.2 L659.9 284.7 L660.4 284.1 L660.9 283.7 L661.4 283.7 L661.9 283.9 L662.4 284.1 L662.9 284.2 L663.4 284.2 L663.9 284.2 L664.4 284.3 L664.9 284.3 L665.4 284.5 L665.9 284.6 L666.4 284.8 L666.9 284.9 L667.4 285.1 L667.9 285.3 L668.4 285.5 L668.9 285.9 L669.4 286.2 L669.9 286.4 L670.4 286.3 L670.9 286.2 L671.4 286.0" fill="none" stroke="#FFFFFF" stroke-width="0.35" stroke-linejoin="round" stroke-opacity="0.6"/>
<path d="M344.9 289.4 L345.4 289.4 L345.9 289.5 L346.4 289.5 L346.9 289.6 L347.4 289.6 L347.9 289.6 L348.4 289.7 L348.9 289.7 L349.4 289.8 L349.9 289.8 L350.4 289.9 L350.9 289.9 L351.4 290.0 L351.9 290.0 L352.4 290.1 L352.9 290.1 L353.4 290.2 L353.9 290.2 L354.4 290.3 L354.9 290.3 L355.4 290.4 L355.9 290.5 L356.4 290.5 L356.9 290.6 L357.4 290.6 L357.9 290.7 L358.4 290.8 L358.9 290.8 L359.4 290.9 L359.9 291.0 L360.4 291.0 L360.9 291.1 L361.4 291.2 L361.9 291.2 L362.4 291.3 L362.9 291.4 L363.4 291.5 L363.9 291.5 L364.4 291.6 L364.9 291.7 L365.4 291.8 L365.9 291.8 L366.4 291.9 L366.9 292.0 L367.4 292.1 L367.9 292.2 L368.4 292.3 L368.9 292.4 L369.4 292.4 L369.9 292.5 L370.4 292.6 L370.9 292.7 L371.4 292.8 L371.9 292.9 L372.4 293.0 L372.9 293.1 L373.4 293.2 L373.9 293.3 L374.4 293.4 L374.9 293.5 L375.4 293.6 L375.9 293.8 L376.4 293.9 L376.9 294.0 L377.4 294.1 L377.9 294.2 L378.4 294.3 L378.9 294.4 L379.4 294.6 L379.9 294.7 L380.4 294.8 L380.9 294.9 L381.4 295.1 L381.9 295.2 L382.4 295.3 L382.9 295.5 L383.4 295.6 L383.9 295.7 L384.4 295.9 L384.9 296.0 L385.4 296.2 L385.9 296.3 L386.4 296.5 L386.9 296.6 L387.4 296.8 L387.9 296.9 L388.4 297.1 L388.9 297.2 L389.4 297.4 L389.9 297.6 L390.4 297.7 L390.9 297.9 L391.4 298.1 L391.9 298.2 L392.4 298.4 L392.9 298.6 L393.4 298.8 L393.9 298.9 L394.4 299.1 L394.9 299.3 L395.4 299.5 L395.9 299.7 L396.4 299.9 L396.9 300.1 L397.4 300.3 L397.9 300.5 L398.4 300.7 L398.9 300.9 L399.4 301.1 L399.9 301.3 L400.4 301.5 L400.9 301.8 L401.4 302.0 L401.9 302.2 L402.4 302.4 L402.9 302.7 L403.4 302.9 L403.9 303.1 L404.4 303.4 L404.9 303.6 L405.4 303.9 L405.9 304.1 L406.4 304.4 L406.9 304.6 L407.4 304.9 L407.9 305.2 L408.4 305.4 L408.9 305.7 L409.4 306.0 L409.9 306.2 L410.4 306.5 L410.9 306.8 L411.4 307.1 L411.9 307.4 L412.4 307.7 L412.9 308.0 L413.4 308.3 L413.9 308.6 L414.4 308.9 L414.9 309.2 L415.4 309.6 L415.9 309.9 L416.4 310.2 L416.9 310.5 L417.4 310.9 L417.9 311.2 L418.4 311.6 L418.9 311.9 L419.4 312.3 L419.9 312.6 L420.4 313.0 L420.9 313.4 L421.4 313.7 L421.9 314.1 L422.4 314.5 L422.9 314.9 L423.4 315.3 L423.9 315.7 L424.4 316.1 L424.9 316.5 L425.4 316.9 L425.9 317.3 L426.4 317.8 L426.9 318.2 L427.4 318.6 L427.9 319.1 L428.4 319.5 L428.9 320.0 L429.4 320.4 L429.9 320.9 L430.4 321.3 L430.9 321.8 L431.4 322.3 L431.9 322.8 L432.4 323.3 L432.9 323.8 L433.4 324.3 L433.9 324.8 L434.4 325.3 L434.9 325.8 L435.4 326.3 L435.9 326.9 L436.4 327.4 L436.9 327.9 L437.4 328.5 L437.9 329.0 L438.4 329.6 L438.9 330.1 L439.4 330.7 L439.9 331.3 L440.4 331.8 L440.9 332.4 L441.4 333.0 L441.9 333.6 L442.4 334.1 L442.9 334.7 L443.4 335.3 L443.9 335.8 L444.4 336.4 L444.9 336.9 L445.4 337.5 L445.9 338.0 L446.4 338.5 L446.9 338.9 L447.4 339.4 L447.9 339.7 L448.4 340.1 L448.9 340.4 L449.4 340.6 L449.9 340.7 L450.4 340.8 L450.9 340.8 L451.4 340.7 L451.9 340.6 L452.4 340.3 L452.9 340.1 L453.4 339.7 L453.9 339.3 L454.4 338.9 L454.9 338.4 L455.4 337.8 L455.9 337.2 L456.4 336.5 L456.9 335.8 L457.4 335.0 L457.9 334.2 L458.4 333.3 L458.9 332.4 L459.4 331.5 L459.9 330.5 L460.4 329.5 L460.9 328.4 L461.4 327.3 L461.9 326.2 L462.4 325.0 L462.9 323.8 L463.4 322.5 L463.9 321.1 L464.4 319.6 L464.9 317.9 L465.4 316.0 L465.9 313.8 L466.4 311.3 L466.9 308.3 L467.4 305.0 L467.9 301.5 L468.4 298.0 L468.9 294.7 L469.4 291.9 L469.9 289.5 L470.4 287.6 L470.9 286.0 L471.4 284.7 L471.9 283.5 L472.4 282.5 L472.9 281.4 L473.4 280.5 L473.9 279.6 L474.4 278.8 L474.9 278.1 L475.4 277.6 L475.9 277.3 L476.4 277.1 L476.9 277.2 L477.4 277.2 L477.9 277.3 L478.4 277.4 L478.9 277.6 L479.4 277.8 L479.9 278.0 L480.4 278.3 L480.9 278.5 L481.4 278.9 L481.9 279.2 L482.4 279.5 L482.9 279.9 L483.4 280.2 L483.9 280.6 L484.4 281.0 L484.9 281.4 L485.4 281.7 L485.9 282.1 L486.4 282.4 L486.9 282.7 L487.4 283.0 L487.9 283.2 L488.4 283.4 L488.9 283.5 L489.4 283.7 L489.9 283.9 L490.4 284.1 L490.9 284.4 L491.4 284.7 L491.9 285.1 L492.4 285.5 L492.9 285.8 L493.4 286.0 L493.9 286.0 L494.4 286.0 L494.9 285.9 L495.4 285.9 L495.9 286.1 L496.4 286.5 L496.9 286.9 L497.4 287.4 L497.9 287.8 L498.4 288.1 L498.9 288.0 L499.4 287.8 L499.9 287.4 L500.4 287.0 L500.9 286.6 L501.4 286.1 L501.9 285.7 L502.4 285.6 L502.9 285.7 L503.4 286.0 L503.9 286.1 L504.4 286.1 L504.9 285.9 L505.4 285.5 L505.9 285.2 L506.4 285.0 L506.9 285.2 L507.4 285.5 L507.9 286.0 L508.4 286.5 L508.9 287.0 L509.4 287.2 L509.9 287.2 L510.4 286.9 L510.9 286.6 L511.4 286.4 L511.9 286.3 L512.4 286.4 L512.9 286.7 L513.4 287.1 L513.9 287.4 L514.4 287.4 L514.9 287.2 L515.4 286.9 L515.9 286.7 L516.4 286.8 L516.9 287.1 L517.4 287.4 L517.9 287.5 L518.4 287.4 L518.9 287.2 L519.4 287.0 L519.9 286.7 L520.4 286.4 L520.9 286.2 L521.4 286.2 L521.9 286.3 L522.4 286.4 L522.9 286.3 L523.4 286.2 L523.9 286.1 L524.4 286.2 L524.9 286.6 L525.4 286.9 L525.9 287.3 L526.4 287.5 L526.9 287.6 L527.4 287.7 L527.9 287.7 L528.4 287.7 L528.9 287.8 L529.4 287.8 L529.9 287.8 L530.4 287.8 L530.9 287.8 L531.4 288.0 L531.9 288.0 L532.4 287.9 L532.9 287.7 L533.4 287.4 L533.9 287.2 L534.4 287.0 L534.9 286.7 L535.4 286.5 L535.9 286.4 L536.4 286.4 L536.9 286.3 L537.4 286.3 L537.9 286.4 L538.4 286.7 L538.9 287.1 L539.4 287.4 L539.9 287.7 L540.4 287.8 L540.9 287.9 L541.4 287.7 L541.9 287.4 L542.4 286.9 L542.9 286.4 L543.4 286.0 L543.9 285.7 L544.4 285.6 L544.9 285.6 L545.4 285.6 L545.9 285.8 L546.4 286.0 L546.9 286.5 L547.4 286.9 L547.9 287.4 L548.4 287.6 L548.9 287.8 L549.4 287.9 L549.9 288.0 L550.4 288.0 L550.9 287.9 L551.4 287.8 L551.9 287.6 L552.4 287.6 L552.9 287.6 L553.4 287.6 L553.9 287.6 L554.4 287.6 L554.9 287.4 L555.4 287.2 L555.9 286.8 L556.4 286.5 L556.9 286.2 L557.4 286.0 L557.9 285.7 L558.4 285.5 L558.9 285.3 L559.4 285.0 L559.9 284.8 L560.4 284.6 L560.9 284.8 L561.4 285.1 L561.9 285.6 L562.4 285.9 L562.9 286.1 L563.4 286.1 L563.9 285.9 L564.4 285.7 L564.9 285.6 L565.4 285.8 L565.9 286.1 L566.4 286.4 L566.9 286.5 L567.4 286.4 L567.9 286.2 L568.4 286.1 L568.9 286.1 L569.4 286.0 L569.9 285.9 L570.4 285.9 L570.9 285.9 L571.4 285.9 L571.9 286.0 L572.4 286.0 L572.9 285.9 L573.4 285.8 L573.9 285.7 L574.4 285.8 L574.9 285.9 L575.4 285.9 L575.9 285.7 L576.4 285.5 L576.9 285.1 L577.4 284.8 L577.9 284.3 L578.4 283.9 L578.9 283.6 L579.4 283.6 L579.9 283.8 L580.4 284.1 L580.9 284.5 L581.4 284.7 L581.9 284.7 L582.4 284.6 L582.9 284.7 L583.4 285.0 L583.9 285.4 L584.4 285.6 L584.9 285.5 L585.4 285.2 L585.9 284.8 L586.4 284.6 L586.9 284.6 L587.4 285.0 L587.9 285.6 L588.4 286.1 L588.9 286.4 L589.4 286.3 L589.9 285.9 L590.4 285.4 L590.9 285.0 L591.4 284.7 L591.9 284.6 L592.4 284.5 L592.9 284.5 L593.4 284.6 L593.9 284.8 L594.4 285.0 L594.9 285.1 L595.4 285.1 L595.9 285.1 L596.4 285.0 L596.9 284.9 L597.4 284.6 L597.9 284.3 L598.4 284.1 L598.9 284.2 L599.4 284.4 L599.9 284.8 L600.4 285.2 L600.9 285.7 L601.4 286.1 L601.9 286.4 L602.4 286.6 L602.9 286.7 L603.4 286.8 L603.9 286.8 L604.4 286.8 L604.9 286.5 L605.4 286.1 L605.9 285.8 L606.4 285.5 L606.9 285.6 L607.4 285.9 L607.9 286.5 L608.4 287.3 L608.9 287.9 L609.4 288.3 L609.9 288.4 L610.4 288.3 L610.9 288.3 L611.4 288.5 L611.9 288.8 L612.4 289.3 L612.9 289.7 L613.4 290.1 L613.9 290.5 L614.4 291.1 L614.9 291.8 L615.4 292.6 L615.9 293.3 L616.4 293.9 L616.9 294.5 L617.4 295.2 L617.9 296.0 L618.4 296.6 L618.9 296.3 L619.4 295.6 L619.9 294.8 L620.4 294.2 L620.9 293.6 L621.4 293.0 L621.9 292.4 L622.4 291.8 L622.9 291.3 L623.4 290.9 L623.9 290.5 L624.4 290.1 L624.9 289.5 L625.4 289.0 L625.9 288.4 L626.4 287.9 L626.9 287.4 L627.4 287.0 L627.9 286.7 L628.4 286.5 L628.9 286.4 L629.4 286.4 L629.9 286.5 L630.4 286.7 L630.9 286.8 L631.4 286.7 L631.9 286.4 L632.4 285.9 L632.9 285.4 L633.4 285.1 L633.9 285.1 L634.4 285.1 L634.9 285.1 L635.4 285.2 L635.9 285.2 L636.4 285.1 L636.9 285.2 L637.4 285.3 L637.9 285.5 L638.4 285.8 L638.9 286.3 L639.4 286.8 L639.9 287.2 L640.4 287.4 L640.9 287.3 L641.4 287.1 L641.9 286.7 L642.4 286.2 L642.9 285.9 L643.4 285.8 L643.9 285.7 L644.4 285.7 L644.9 285.6 L645.4 285.6 L645.9 285.8 L646.4 286.1 L646.9 286.5 L647.4 286.8 L647.9 286.9 L648.4 286.8 L648.9 286.6 L649.4 286.4 L649.9 286.4 L650.4 286.5 L650.9 286.8 L651.4 287.0 L651.9 287.1 L652.4 287.1 L652.9 287.1 L653.4 287.0 L653.9 286.9 L654.4 286.7 L654.9 286.5 L655.4 286.4 L655.9 286.3 L656.4 286.2 L656.9 285.9 L657.4 285.5 L657.9 285.2 L658.4 284.9 L658.9 284.6 L659.4 284.4 L659.9 283.9 L660.4 283.5 L660.9 283.2 L661.4 283.0 L661.9 282.9 L662.4 282.9 L662.9 282.9 L663.4 282.9 L663.9 282.9 L664.4 283.0 L664.9 283.0 L665.4 283.2 L665.9 283.4 L666.4 283.7 L666.9 284.1 L667.4 284.4 L667.9 284.6 L668.4 284.8 L668.9 285.0 L669.4 285.2 L669.9 285.4 L670.4 285.3 L670.9 285.2 L671.4 285.0" fill="none" stroke="#FFFFFF" stroke-width="0.35" stroke-linejoin="round" stroke-opacity="0.6"/>
<path d="M344.9 288.9 L345.4 288.9 L345.9 288.9 L346.4 288.9 L346.9 289.0 L347.4 289.0 L347.9 289.0 L348.4 289.0 L348.9 289.1 L349.4 289.1 L349.9 289.1 L350.4 289.2 L350.9 289.2 L351.4 289.2 L351.9 289.3 L352.4 289.3 L352.9 289.3 L353.4 289.4 L353.9 289.4 L354.4 289.4 L354.9 289.5 L355.4 289.5 L355.9 289.5 L356.4 289.6 L356.9 289.6 L357.4 289.7 L357.9 289.7 L358.4 289.7 L358.9 289.8 L359.4 289.8 L359.9 289.9 L360.4 289.9 L360.9 290.0 L361.4 290.0 L361.9 290.0 L362.4 290.1 L362.9 290.1 L363.4 290.2 L363.9 290.2 L364.4 290.3 L364.9 290.3 L365.4 290.4 L365.9 290.4 L366.4 290.5 L366.9 290.5 L367.4 290.6 L367.9 290.6 L368.4 290.7 L368.9 290.8 L369.4 290.8 L369.9 290.9 L370.4 290.9 L370.9 291.0 L371.4 291.1 L371.9 291.1 L372.4 291.2 L372.9 291.2 L373.4 291.3 L373.9 291.4 L374.4 291.4 L374.9 291.5 L375.4 291.6 L375.9 291.6 L376.4 291.7 L376.9 291.8 L377.4 291.9 L377.9 291.9 L378.4 292.0 L378.9 292.1 L379.4 292.2 L379.9 292.2 L380.4 292.3 L380.9 292.4 L381.4 292.5 L381.9 292.6 L382.4 292.6 L382.9 292.7 L383.4 292.8 L383.9 292.9 L384.4 293.0 L384.9 293.1 L385.4 293.2 L385.9 293.3 L386.4 293.4 L386.9 293.4 L387.4 293.5 L387.9 293.6 L388.4 293.7 L388.9 293.8 L389.4 293.9 L389.9 294.0 L390.4 294.1 L390.9 294.2 L391.4 294.4 L391.9 294.5 L392.4 294.6 L392.9 294.7 L393.4 294.8 L393.9 294.9 L394.4 295.0 L394.9 295.1 L395.4 295.3 L395.9 295.4 L396.4 295.5 L396.9 295.6 L397.4 295.7 L397.9 295.9 L398.4 296.0 L398.9 296.1 L399.4 296.2 L399.9 296.4 L400.4 296.5 L400.9 296.6 L401.4 296.8 L401.9 296.9 L402.4 297.1 L402.9 297.2 L403.4 297.3 L403.9 297.5 L404.4 297.6 L404.9 297.8 L405.4 297.9 L405.9 298.1 L406.4 298.2 L406.9 298.4 L407.4 298.6 L407.9 298.7 L408.4 298.9 L408.9 299.0 L409.4 299.2 L409.9 299.4 L410.4 299.5 L410.9 299.7 L411.4 299.9 L411.9 300.1 L412.4 300.2 L412.9 300.4 L413.4 300.6 L413.9 300.8 L414.4 301.0 L414.9 301.2 L415.4 301.3 L415.9 301.5 L416.4 301.7 L416.9 301.9 L417.4 302.1 L417.9 302.3 L418.4 302.5 L418.9 302.7 L419.4 302.9 L419.9 303.2 L420.4 303.4 L420.9 303.6 L421.4 303.8 L421.9 304.0 L422.4 304.2 L422.9 304.5 L423.4 304.7 L423.9 304.9 L424.4 305.2 L424.9 305.4 L425.4 305.6 L425.9 305.9 L426.4 306.1 L426.9 306.4 L427.4 306.6 L427.9 306.9 L428.4 307.1 L428.9 307.4 L429.4 307.6 L429.9 307.9 L430.4 308.2 L430.9 308.4 L431.4 308.7 L431.9 309.0 L432.4 309.2 L432.9 309.5 L433.4 309.8 L433.9 310.1 L434.4 310.4 L434.9 310.7 L435.4 311.0 L435.9 311.2 L436.4 311.5 L436.9 311.8 L437.4 312.1 L437.9 312.4 L438.4 312.7 L438.9 313.0 L439.4 313.4 L439.9 313.7 L440.4 314.0 L440.9 314.3 L441.4 314.6 L441.9 314.9 L442.4 315.2 L442.9 315.5 L443.4 315.8 L443.9 316.1 L444.4 316.4 L444.9 316.7 L445.4 317.0 L445.9 317.3 L446.4 317.5 L446.9 317.8 L447.4 318.0 L447.9 318.2 L448.4 318.4 L448.9 318.6 L449.4 318.7 L449.9 318.8 L450.4 318.8 L450.9 318.8 L451.4 318.7 L451.9 318.7 L452.4 318.5 L452.9 318.4 L453.4 318.2 L453.9 317.9 L454.4 317.7 L454.9 317.4 L455.4 317.0 L455.9 316.6 L456.4 316.2 L456.9 315.8 L457.4 315.4 L457.9 314.9 L458.4 314.4 L458.9 313.8 L459.4 313.3 L459.9 312.7 L460.4 312.1 L460.9 311.5 L461.4 310.8 L461.9 310.2 L462.4 309.5 L462.9 308.7 L463.4 308.0 L463.9 307.2 L464.4 306.3 L464.9 305.3 L465.4 304.1 L465.9 302.8 L466.4 301.3 L466.9 299.6 L467.4 297.6 L467.9 295.5 L468.4 293.4 L468.9 291.5 L469.4 289.8 L469.9 288.3 L470.4 287.1 L470.9 286.2 L471.4 285.3 L471.9 284.5 L472.4 283.8 L472.9 283.1 L473.4 282.5 L473.9 281.9 L474.4 281.3 L474.9 280.8 L475.4 280.5 L475.9 280.3 L476.4 280.2 L476.9 280.2 L477.4 280.2 L477.9 280.3 L478.4 280.4 L478.9 280.5 L479.4 280.6 L479.9 280.8 L480.4 280.9 L480.9 281.1 L481.4 281.3 L481.9 281.6 L482.4 281.8 L482.9 282.1 L483.4 282.3 L483.9 282.6 L484.4 282.8 L484.9 283.1 L485.4 283.3 L485.9 283.6 L486.4 283.8 L486.9 284.0 L487.4 284.2 L487.9 284.4 L488.4 284.5 L488.9 284.5 L489.4 284.6 L489.9 284.7 L490.4 284.8 L490.9 285.1 L491.4 285.3 L491.9 285.5 L492.4 285.8 L492.9 285.9 L493.4 286.0 L493.9 286.0 L494.4 286.0 L494.9 286.1 L495.4 286.1 L495.9 286.2 L496.4 286.4 L496.9 286.8 L497.4 287.3 L497.9 287.6 L498.4 287.8 L498.9 287.7 L499.4 287.5 L499.9 287.3 L500.4 287.1 L500.9 287.0 L501.4 286.8 L501.9 286.6 L502.4 286.4 L502.9 286.2 L503.4 286.0 L503.9 285.8 L504.4 285.8 L504.9 285.9 L505.4 286.1 L505.9 286.3 L506.4 286.5 L506.9 286.7 L507.4 287.0 L507.9 287.2 L508.4 287.4 L508.9 287.5 L509.4 287.6 L509.9 287.7 L510.4 287.7 L510.9 287.6 L511.4 287.4 L511.9 287.4 L512.4 287.5 L512.9 287.7 L513.4 287.7 L513.9 287.6 L514.4 287.4 L514.9 287.0 L515.4 286.7 L515.9 286.5 L516.4 286.4 L516.9 286.5 L517.4 286.7 L517.9 287.0 L518.4 287.3 L518.9 287.4 L519.4 287.4 L519.9 287.3 L520.4 287.1 L520.9 286.8 L521.4 286.4 L521.9 286.2 L522.4 286.0 L522.9 285.8 L523.4 285.7 L523.9 285.7 L524.4 285.8 L524.9 285.9 L525.4 286.0 L525.9 286.2 L526.4 286.4 L526.9 286.8 L527.4 287.1 L527.9 287.3 L528.4 287.3 L528.9 287.3 L529.4 287.3 L529.9 287.4 L530.4 287.4 L530.9 287.4 L531.4 287.4 L531.9 287.3 L532.4 287.2 L532.9 287.2 L533.4 287.4 L533.9 287.8 L534.4 288.3 L534.9 288.6 L535.4 288.6 L535.9 288.5 L536.4 288.3 L536.9 288.1 L537.4 288.0 L537.9 288.0 L538.4 288.0 L538.9 288.0 L539.4 287.8 L539.9 287.5 L540.4 287.2 L540.9 286.9 L541.4 286.7 L541.9 286.6 L542.4 286.7 L542.9 286.9 L543.4 287.0 L543.9 287.1 L544.4 287.0 L544.9 286.6 L545.4 286.2 L545.9 285.8 L546.4 285.6 L546.9 285.8 L547.4 286.3 L547.9 287.0 L548.4 287.8 L548.9 288.5 L549.4 289.1 L549.9 289.5 L550.4 289.7 L550.9 289.6 L551.4 289.4 L551.9 289.1 L552.4 288.8 L552.9 288.5 L553.4 288.2 L553.9 287.7 L554.4 287.3 L554.9 286.9 L555.4 286.7 L555.9 286.5 L556.4 286.3 L556.9 286.1 L557.4 286.1 L557.9 286.2 L558.4 286.3 L558.9 286.1 L559.4 285.9 L559.9 285.5 L560.4 285.1 L560.9 284.9 L561.4 284.9 L561.9 285.1 L562.4 285.5 L562.9 285.8 L563.4 286.1 L563.9 286.3 L564.4 286.4 L564.9 286.4 L565.4 286.3 L565.9 286.2 L566.4 286.1 L566.9 286.0 L567.4 286.0 L567.9 286.1 L568.4 286.3 L568.9 286.4 L569.4 286.5 L569.9 286.4 L570.4 286.3 L570.9 286.1 L571.4 286.0 L571.9 286.0 L572.4 286.0 L572.9 286.0 L573.4 285.9 L573.9 285.8 L574.4 285.7 L574.9 285.7 L575.4 285.6 L575.9 285.5 L576.4 285.5 L576.9 285.7 L577.4 285.8 L577.9 285.7 L578.4 285.5 L578.9 285.4 L579.4 285.4 L579.9 285.5 L580.4 285.5 L580.9 285.5 L581.4 285.4 L581.9 285.3 L582.4 285.2 L582.9 285.2 L583.4 285.4 L583.9 285.7 L584.4 286.1 L584.9 286.3 L585.4 286.3 L585.9 286.1 L586.4 285.7 L586.9 285.2 L587.4 284.8 L587.9 284.5 L588.4 284.4 L588.9 284.3 L589.4 284.3 L589.9 284.4 L590.4 284.6 L590.9 284.8 L591.4 284.9 L591.9 284.9 L592.4 284.9 L592.9 285.0 L593.4 285.1 L593.9 285.2 L594.4 285.5 L594.9 285.8 L595.4 286.1 L595.9 286.1 L596.4 285.9 L596.9 285.5 L597.4 285.2 L597.9 285.0 L598.4 285.0 L598.9 285.0 L599.4 285.1 L599.9 285.1 L600.4 285.2 L600.9 285.3 L601.4 285.5 L601.9 285.7 L602.4 285.9 L602.9 286.0 L603.4 286.0 L603.9 285.9 L604.4 285.8 L604.9 286.0 L605.4 286.3 L605.9 286.8 L606.4 287.1 L606.9 287.2 L607.4 287.2 L607.9 287.3 L608.4 287.4 L608.9 287.5 L609.4 287.7 L609.9 288.0 L610.4 288.3 L610.9 288.6 L611.4 288.8 L611.9 288.9 L612.4 289.0 L612.9 289.1 L613.4 289.4 L613.9 289.9 L614.4 290.6 L614.9 291.3 L615.4 291.9 L615.9 292.3 L616.4 292.4 L616.9 292.6 L617.4 293.0 L617.9 293.6 L618.4 294.1 L618.9 294.1 L619.4 293.8 L619.9 293.3 L620.4 292.6 L620.9 291.8 L621.4 291.1 L621.9 290.6 L622.4 290.3 L622.9 290.3 L623.4 290.1 L623.9 289.8 L624.4 289.3 L624.9 288.8 L625.4 288.1 L625.9 287.5 L626.4 287.0 L626.9 286.7 L627.4 286.6 L627.9 286.5 L628.4 286.3 L628.9 286.0 L629.4 285.6 L629.9 285.4 L630.4 285.4 L630.9 285.4 L631.4 285.5 L631.9 285.5 L632.4 285.5 L632.9 285.4 L633.4 285.3 L633.9 285.2 L634.4 284.9 L634.9 284.8 L635.4 284.7 L635.9 284.8 L636.4 284.9 L636.9 284.9 L637.4 284.8 L637.9 284.9 L638.4 285.1 L638.9 285.3 L639.4 285.6 L639.9 285.9 L640.4 286.3 L640.9 286.4 L641.4 286.3 L641.9 286.0 L642.4 285.6 L642.9 285.2 L643.4 284.8 L643.9 284.7 L644.4 284.8 L644.9 285.1 L645.4 285.7 L645.9 286.4 L646.4 286.9 L646.9 287.2 L647.4 287.4 L647.9 287.5 L648.4 287.4 L648.9 287.3 L649.4 287.1 L649.9 286.9 L650.4 286.6 L650.9 286.5 L651.4 286.4 L651.9 286.4 L652.4 286.4 L652.9 286.3 L653.4 286.1 L653.9 286.1 L654.4 286.1 L654.9 286.0 L655.4 286.0 L655.9 285.9 L656.4 285.9 L656.9 285.9 L657.4 285.9 L657.9 285.8 L658.4 285.6 L658.9 285.4 L659.4 285.0 L659.9 284.4 L660.4 283.9 L660.9 283.5 L661.4 283.2 L661.9 283.1 L662.4 283.1 L662.9 283.2 L663.4 283.3 L663.9 283.4 L664.4 283.6 L664.9 283.9 L665.4 284.2 L665.9 284.6 L666.4 284.7 L666.9 284.7 L667.4 284.6 L667.9 284.7 L668.4 285.0 L668.9 285.3 L669.4 285.6 L669.9 285.7 L670.4 285.7 L670.9 285.7 L671.4 285.7" fill="none" stroke="#FFFFFF" stroke-width="0.35" stroke-linejoin="round" stroke-opacity="0.6"/>
<path d="M344.9 288.2 L345.4 288.3 L345.9 288.3 L346.4 288.3 L346.9 288.3 L347.4 288.3 L347.9 288.3 L348.4 288.3 L348.9 288.3 L349.4 288.3 L349.9 288.4 L350.4 288.4 L350.9 288.4 L351.4 288.4 L351.9 288.4 L352.4 288.4 L352.9 288.4 L353.4 288.5 L353.9 288.5 L354.4 288.5 L354.9 288.5 L355.4 288.5 L355.9 288.5 L356.4 288.5 L356.9 288.6 L357.4 288.6 L357.9 288.6 L358.4 288.6 L358.9 288.6 L359.4 288.7 L359.9 288.7 L360.4 288.7 L360.9 288.7 L361.4 288.7 L361.9 288.7 L362.4 288.8 L362.9 288.8 L363.4 288.8 L363.9 288.8 L364.4 288.9 L364.9 288.9 L365.4 288.9 L365.9 288.9 L366.4 288.9 L366.9 289.0 L367.4 289.0 L367.9 289.0 L368.4 289.0 L368.9 289.1 L369.4 289.1 L369.9 289.1 L370.4 289.1 L370.9 289.2 L371.4 289.2 L371.9 289.2 L372.4 289.2 L372.9 289.3 L373.4 289.3 L373.9 289.3 L374.4 289.4 L374.9 289.4 L375.4 289.4 L375.9 289.5 L376.4 289.5 L376.9 289.5 L377.4 289.5 L377.9 289.6 L378.4 289.6 L378.9 289.6 L379.4 289.7 L379.9 289.7 L380.4 289.7 L380.9 289.8 L381.4 289.8 L381.9 289.9 L382.4 289.9 L382.9 289.9 L383.4 290.0 L383.9 290.0 L384.4 290.0 L384.9 290.1 L385.4 290.1 L385.9 290.2 L386.4 290.2 L386.9 290.2 L387.4 290.3 L387.9 290.3 L388.4 290.4 L388.9 290.4 L389.4 290.5 L389.9 290.5 L390.4 290.5 L390.9 290.6 L391.4 290.6 L391.9 290.7 L392.4 290.7 L392.9 290.8 L393.4 290.8 L393.9 290.9 L394.4 290.9 L394.9 291.0 L395.4 291.0 L395.9 291.1 L396.4 291.1 L396.9 291.2 L397.4 291.2 L397.9 291.3 L398.4 291.3 L398.9 291.4 L399.4 291.4 L399.9 291.5 L400.4 291.6 L400.9 291.6 L401.4 291.7 L401.9 291.7 L402.4 291.8 L402.9 291.9 L403.4 291.9 L403.9 292.0 L404.4 292.0 L404.9 292.1 L405.4 292.2 L405.9 292.2 L406.4 292.3 L406.9 292.4 L407.4 292.4 L407.9 292.5 L408.4 292.6 L408.9 292.6 L409.4 292.7 L409.9 292.8 L410.4 292.8 L410.9 292.9 L411.4 293.0 L411.9 293.0 L412.4 293.1 L412.9 293.2 L413.4 293.3 L413.9 293.3 L414.4 293.4 L414.9 293.5 L415.4 293.6 L415.9 293.6 L416.4 293.7 L416.9 293.8 L417.4 293.9 L417.9 294.0 L418.4 294.0 L418.9 294.1 L419.4 294.2 L419.9 294.3 L420.4 294.4 L420.9 294.5 L421.4 294.6 L421.9 294.6 L422.4 294.7 L422.9 294.8 L423.4 294.9 L423.9 295.0 L424.4 295.1 L424.9 295.2 L425.4 295.3 L425.9 295.4 L426.4 295.5 L426.9 295.5 L427.4 295.6 L427.9 295.7 L428.4 295.8 L428.9 295.9 L429.4 296.0 L429.9 296.1 L430.4 296.2 L430.9 296.3 L431.4 296.4 L431.9 296.5 L432.4 296.6 L432.9 296.7 L433.4 296.8 L433.9 296.9 L434.4 297.0 L434.9 297.2 L435.4 297.3 L435.9 297.4 L436.4 297.5 L436.9 297.6 L437.4 297.7 L437.9 297.8 L438.4 297.9 L438.9 298.0 L439.4 298.1 L439.9 298.2 L440.4 298.3 L440.9 298.4 L441.4 298.6 L441.9 298.7 L442.4 298.8 L442.9 298.9 L443.4 299.0 L443.9 299.1 L444.4 299.2 L444.9 299.3 L445.4 299.4 L445.9 299.5 L446.4 299.6 L446.9 299.7 L447.4 299.7 L447.9 299.8 L448.4 299.9 L448.9 299.9 L449.4 300.0 L449.9 300.0 L450.4 300.0 L450.9 300.0 L451.4 300.0 L451.9 299.9 L452.4 299.9 L452.9 299.8 L453.4 299.7 L453.9 299.6 L454.4 299.5 L454.9 299.4 L455.4 299.3 L455.9 299.1 L456.4 298.9 L456.9 298.8 L457.4 298.6 L457.9 298.4 L458.4 298.2 L458.9 297.9 L459.4 297.7 L459.9 297.5 L460.4 297.2 L460.9 297.0 L461.4 296.7 L461.9 296.4 L462.4 296.2 L462.9 295.9 L463.4 295.6 L463.9 295.2 L464.4 294.9 L464.9 294.4 L465.4 294.0 L465.9 293.4 L466.4 292.8 L466.9 292.1 L467.4 291.3 L467.9 290.4 L468.4 289.6 L468.9 288.7 L469.4 288.0 L469.9 287.4 L470.4 286.9 L470.9 286.4 L471.4 286.0 L471.9 285.6 L472.4 285.3 L472.9 284.9 L473.4 284.6 L473.9 284.2 L474.4 283.9 L474.9 283.7 L475.4 283.5 L475.9 283.4 L476.4 283.3 L476.9 283.3 L477.4 283.4 L477.9 283.4 L478.4 283.4 L478.9 283.5 L479.4 283.6 L479.9 283.6 L480.4 283.7 L480.9 283.8 L481.4 284.0 L481.9 284.1 L482.4 284.2 L482.9 284.3 L483.4 284.5 L483.9 284.6 L484.4 284.7 L484.9 284.9 L485.4 285.0 L485.9 285.1 L486.4 285.2 L486.9 285.2 L487.4 285.3 L487.9 285.3 L488.4 285.4 L488.9 285.5 L489.4 285.5 L489.9 285.6 L490.4 285.7 L490.9 285.8 L491.4 285.8 L491.9 285.8 L492.4 285.8 L492.9 285.7 L493.4 285.7 L493.9 285.6 L494.4 285.6 L494.9 285.6 L495.4 285.7 L495.9 285.8 L496.4 286.0 L496.9 286.1 L497.4 286.0 L497.9 285.9 L498.4 285.8 L498.9 285.7 L499.4 285.7 L499.9 285.7 L500.4 285.9 L500.9 286.0 L501.4 286.1 L501.9 286.0 L502.4 285.8 L502.9 285.6 L503.4 285.6 L503.9 285.6 L504.4 285.8 L504.9 286.1 L505.4 286.3 L505.9 286.6 L506.4 286.8 L506.9 287.0 L507.4 287.2 L507.9 287.3 L508.4 287.4 L508.9 287.3 L509.4 287.3 L509.9 287.3 L510.4 287.4 L510.9 287.6 L511.4 287.7 L511.9 287.7 L512.4 287.4 L512.9 287.0 L513.4 286.7 L513.9 286.5 L514.4 286.7 L514.9 286.9 L515.4 287.1 L515.9 287.2 L516.4 287.2 L516.9 287.2 L517.4 287.4 L517.9 287.5 L518.4 287.4 L518.9 287.3 L519.4 287.0 L519.9 286.8 L520.4 286.6 L520.9 286.5 L521.4 286.5 L521.9 286.4 L522.4 286.3 L522.9 286.2 L523.4 286.2 L523.9 286.3 L524.4 286.6 L524.9 287.0 L525.4 287.3 L525.9 287.5 L526.4 287.7 L526.9 287.8 L527.4 287.7 L527.9 287.6 L528.4 287.5 L528.9 287.6 L529.4 287.8 L529.9 287.9 L530.4 287.9 L530.9 287.8 L531.4 287.7 L531.9 287.6 L532.4 287.6 L532.9 287.8 L533.4 287.9 L533.9 288.1 L534.4 288.3 L534.9 288.6 L535.4 288.8 L535.9 288.8 L536.4 288.7 L536.9 288.4 L537.4 288.1 L537.9 287.9 L538.4 287.7 L538.9 287.4 L539.4 287.1 L539.9 286.7 L540.4 286.5 L540.9 286.4 L541.4 286.5 L541.9 286.6 L542.4 286.8 L542.9 286.8 L543.4 286.7 L543.9 286.5 L544.4 286.4 L544.9 286.2 L545.4 286.1 L545.9 286.2 L546.4 286.4 L546.9 286.8 L547.4 287.2 L547.9 287.6 L548.4 287.9 L548.9 288.2 L549.4 288.5 L549.9 288.8 L550.4 289.1 L550.9 289.4 L551.4 289.4 L551.9 289.2 L552.4 288.8 L552.9 288.3 L553.4 287.9 L553.9 287.5 L554.4 287.2 L554.9 287.1 L555.4 287.1 L555.9 287.0 L556.4 286.7 L556.9 286.3 L557.4 285.9 L557.9 285.6 L558.4 285.5 L558.9 285.6 L559.4 285.7 L559.9 285.5 L560.4 285.2 L560.9 284.8 L561.4 284.5 L561.9 284.5 L562.4 284.6 L562.9 284.7 L563.4 284.8 L563.9 284.9 L564.4 285.0 L564.9 285.2 L565.4 285.4 L565.9 285.6 L566.4 285.6 L566.9 285.5 L567.4 285.5 L567.9 285.6 L568.4 285.7 L568.9 285.9 L569.4 286.1 L569.9 286.1 L570.4 286.0 L570.9 285.8 L571.4 285.6 L571.9 285.5 L572.4 285.4 L572.9 285.4 L573.4 285.5 L573.9 285.6 L574.4 285.7 L574.9 285.9 L575.4 285.9 L575.9 285.8 L576.4 285.4 L576.9 285.0 L577.4 284.5 L577.9 284.3 L578.4 284.3 L578.9 284.5 L579.4 284.9 L579.9 285.2 L580.4 285.3 L580.9 285.3 L581.4 285.4 L581.9 285.5 L582.4 285.8 L582.9 286.1 L583.4 286.1 L583.9 285.8 L584.4 285.5 L584.9 285.3 L585.4 285.2 L585.9 285.3 L586.4 285.4 L586.9 285.5 L587.4 285.4 L587.9 285.2 L588.4 285.1 L588.9 285.2 L589.4 285.4 L589.9 285.8 L590.4 286.1 L590.9 286.2 L591.4 286.3 L591.9 286.2 L592.4 286.2 L592.9 286.1 L593.4 285.9 L593.9 285.7 L594.4 285.6 L594.9 285.5 L595.4 285.4 L595.9 285.3 L596.4 285.1 L596.9 284.9 L597.4 284.8 L597.9 284.8 L598.4 284.8 L598.9 284.9 L599.4 285.0 L599.9 285.2 L600.4 285.4 L600.9 285.6 L601.4 285.7 L601.9 285.9 L602.4 286.1 L602.9 286.4 L603.4 286.9 L603.9 287.4 L604.4 287.7 L604.9 287.7 L605.4 287.5 L605.9 287.3 L606.4 287.2 L606.9 287.2 L607.4 287.2 L607.9 287.1 L608.4 287.2 L608.9 287.5 L609.4 287.9 L609.9 288.3 L610.4 288.6 L610.9 288.7 L611.4 288.7 L611.9 288.6 L612.4 288.5 L612.9 288.5 L613.4 288.6 L613.9 288.8 L614.4 288.9 L614.9 288.9 L615.4 288.9 L615.9 289.0 L616.4 289.2 L616.9 289.6 L617.4 290.2 L617.9 290.7 L618.4 291.2 L618.9 291.4 L619.4 291.3 L619.9 291.1 L620.4 290.8 L620.9 290.6 L621.4 290.4 L621.9 290.3 L622.4 290.2 L622.9 290.1 L623.4 289.9 L623.9 289.5 L624.4 289.1 L624.9 288.7 L625.4 288.4 L625.9 288.0 L626.4 287.7 L626.9 287.5 L627.4 287.3 L627.9 287.1 L628.4 286.8 L628.9 286.5 L629.4 286.2 L629.9 285.9 L630.4 285.6 L630.9 285.4 L631.4 285.2 L631.9 285.1 L632.4 285.0 L632.9 284.8 L633.4 284.6 L633.9 284.5 L634.4 284.5 L634.9 284.8 L635.4 285.1 L635.9 285.5 L636.4 285.7 L636.9 285.8 L637.4 285.8 L637.9 285.7 L638.4 285.7 L638.9 285.7 L639.4 285.8 L639.9 285.9 L640.4 286.0 L640.9 286.1 L641.4 286.1 L641.9 286.1 L642.4 286.0 L642.9 286.0 L643.4 285.9 L643.9 285.7 L644.4 285.6 L644.9 285.5 L645.4 285.5 L645.9 285.6 L646.4 285.9 L646.9 286.2 L647.4 286.5 L647.9 286.6 L648.4 286.7 L648.9 286.8 L649.4 286.8 L649.9 286.9 L650.4 287.0 L650.9 287.1 L651.4 287.2 L651.9 287.1 L652.4 286.9 L652.9 286.6 L653.4 286.3 L653.9 286.1 L654.4 285.8 L654.9 285.6 L655.4 285.5 L655.9 285.3 L656.4 285.3 L656.9 285.1 L657.4 284.9 L657.9 284.7 L658.4 284.5 L658.9 284.4 L659.4 284.4 L659.9 284.3 L660.4 284.3 L660.9 284.4 L661.4 284.3 L661.9 284.3 L662.4 284.2 L662.9 284.0 L663.4 284.0 L663.9 283.9 L664.4 284.0 L664.9 284.2 L665.4 284.4 L665.9 284.6 L666.4 284.7 L666.9 284.8 L667.4 285.0 L667.9 285.2 L668.4 285.4 L668.9 285.4 L669.4 285.3 L669.9 285.2 L670.4 285.3 L670.9 285.5 L671.4 285.8" fill="none" stroke="#FFFFFF" stroke-width="0.35" stroke-linejoin="round" stroke-opacity="0.6"/>
<path d="M458.4 380.0 L458.9 378.2 L459.4 376.3 L459.9 374.3 L460.4 372.3 L460.9 370.2 L461.4 368.0 L461.9 365.7 L462.4 363.4 L462.9 360.9 L463.4 358.3 L463.9 355.6 L464.4 352.5 L464.9 349.2 L465.4 345.4 L465.9 340.9 L466.4 335.8 L466.9 329.9 L467.4 323.3 L467.9 316.3 L468.4 309.3 L468.9 302.9 L469.4 297.3 L469.9 292.7 L470.4 289.1 L470.9 286.1 L471.4 283.7 L471.9 281.6 L472.4 279.8 L472.9 278.1 L473.4 276.5 L473.9 275.0 L474.4 273.7 L474.9 272.6 L475.4 271.7 L475.9 271.2 L476.4 271.0 L476.9 271.0 L477.4 271.1 L477.9 271.2 L478.4 271.4 L478.9 271.7 L479.4 272.0 L479.9 272.4 L480.4 272.8 L480.9 273.3 L481.4 273.8 L481.9 274.3 L482.4 274.9 L482.9 275.4 L483.4 276.0 L483.9 276.7" fill="none" stroke="#E52E39" stroke-width="0.90" stroke-linejoin="round" />
<path d="M488.4 283.4 L488.9 283.5 L489.4 283.7 L489.9 283.9 L490.4 284.1 L490.9 284.4 L491.4 284.7 L491.9 285.1 L492.4 285.5 L492.9 285.8 L493.4 286.0 L493.9 286.0 L494.4 286.0 L494.9 285.9 L495.4 285.9 L495.9 286.1 L496.4 286.5 L496.9 286.9 L497.4 287.4 L497.9 287.8 L498.4 288.1 L498.9 288.0 L499.4 287.8 L499.9 287.4 L500.4 287.0 L500.9 286.6 L501.4 286.1 L501.9 285.7 L502.4 285.6 L502.9 285.7 L503.4 286.0 L503.9 286.1 L504.4 286.1 L504.9 285.9 L505.4 285.5 L505.9 285.2 L506.4 285.0 L506.9 285.2 L507.4 285.5 L507.9 286.0 L508.4 286.5 L508.9 287.0 L509.4 287.2 L509.9 287.2 L510.4 286.9 L510.9 286.6 L511.4 286.4 L511.9 286.3 L512.4 286.4 L512.9 286.7 L513.4 287.1 L513.9 287.4 L514.4 287.4 L514.9 287.2 L515.4 286.9 L515.9 286.7 L516.4 286.8 L516.9 287.1 L517.4 287.4 L517.9 287.5 L518.4 287.4 L518.9 287.2 L519.4 287.0 L519.9 286.7 L520.4 286.4 L520.9 286.2 L521.4 286.2 L521.9 286.3 L522.4 286.4 L522.9 286.3 L523.4 286.2 L523.9 286.1 L524.4 286.2 L524.9 286.6 L525.4 286.9 L525.9 287.3 L526.4 287.5 L526.9 287.6 L527.4 287.7 L527.9 287.7 L528.4 287.7 L528.9 287.8 L529.4 287.8 L529.9 287.8 L530.4 287.8 L530.9 287.8 L531.4 288.0 L531.9 288.0 L532.4 287.9 L532.9 287.7 L533.4 287.4 L533.9 287.2 L534.4 287.0 L534.9 286.7 L535.4 286.5 L535.9 286.4 L536.4 286.4 L536.9 286.3 L537.4 286.3 L537.9 286.4 L538.4 286.7 L538.9 287.1 L539.4 287.4 L539.9 287.7 L540.4 287.8 L540.9 287.9 L541.4 287.7 L541.9 287.4 L542.4 286.9 L542.9 286.4 L543.4 286.0 L543.9 285.7 L544.4 285.6 L544.9 285.6 L545.4 285.6 L545.9 285.8 L546.4 286.0 L546.9 286.5 L547.4 286.9 L547.9 287.4 L548.4 287.6 L548.9 287.8 L549.4 287.9 L549.9 288.0 L550.4 288.0 L550.9 287.9 L551.4 287.8 L551.9 287.6 L552.4 287.6 L552.9 287.6 L553.4 287.6 L553.9 287.6 L554.4 287.6 L554.9 287.4 L555.4 287.2 L555.9 286.8 L556.4 286.5 L556.9 286.2 L557.4 286.0 L557.9 285.7 L558.4 285.5 L558.9 285.3 L559.4 285.0 L559.9 284.8 L560.4 284.6 L560.9 284.8 L561.4 285.1 L561.9 285.6 L562.4 285.9 L562.9 286.1 L563.4 286.1 L563.9 285.9 L564.4 285.7 L564.9 285.6 L565.4 285.8 L565.9 286.1 L566.4 286.4 L566.9 286.5 L567.4 286.4 L567.9 286.2 L568.4 286.1 L568.9 286.1 L569.4 286.0 L569.9 285.9 L570.4 285.9 L570.9 285.9 L571.4 285.9 L571.9 286.0 L572.4 286.0 L572.9 285.9 L573.4 285.8 L573.9 285.7 L574.4 285.8 L574.9 285.9 L575.4 285.9 L575.9 285.7 L576.4 285.5 L576.9 285.1 L577.4 284.8 L577.9 284.3 L578.4 283.9 L578.9 283.6 L579.4 283.6 L579.9 283.8 L580.4 284.1 L580.9 284.5 L581.4 284.7 L581.9 284.7 L582.4 284.6 L582.9 284.7 L583.4 285.0 L583.9 285.4 L584.4 285.6 L584.9 285.5 L585.4 285.2 L585.9 284.8 L586.4 284.6 L586.9 284.6 L587.4 285.0 L587.9 285.6 L588.4 286.1 L588.9 286.4 L589.4 286.3 L589.9 285.9 L590.4 285.4 L590.9 285.0 L591.4 284.7 L591.9 284.6 L592.4 284.5 L592.9 284.5 L593.4 284.6 L593.9 284.8 L594.4 285.0 L594.9 285.1 L595.4 285.1 L595.9 285.1 L596.4 285.0 L596.9 284.9 L597.4 284.6 L597.9 284.3 L598.4 284.1 L598.9 284.2 L599.4 284.4 L599.9 284.8 L600.4 285.2 L600.9 285.7 L601.4 286.1 L601.9 286.4 L602.4 286.6 L602.9 286.7 L603.4 286.8 L603.9 286.8 L604.4 286.8 L604.9 286.5 L605.4 286.1 L605.9 285.8 L606.4 285.5 L606.9 285.6 L607.4 285.9 L607.9 286.5 L608.4 287.3 L608.9 287.9 L609.4 288.3 L609.9 288.4 L610.4 288.3 L610.9 288.3 L611.4 288.5 L611.9 288.8 L612.4 289.3 L612.9 289.7 L613.4 290.1 L613.9 290.5 L614.4 291.1 L614.9 291.8 L615.4 292.6 L615.9 293.3 L616.4 293.9 L616.9 294.5 L617.4 295.2 L617.9 296.0 L618.4 296.6 L618.9 296.3 L619.4 295.6 L619.9 294.8 L620.4 294.2 L620.9 293.6 L621.4 293.0 L621.9 292.4 L622.4 291.8 L622.9 291.3 L623.4 290.9 L623.9 290.5 L624.4 290.1 L624.9 289.5 L625.4 289.0 L625.9 288.4 L626.4 287.9 L626.9 287.4 L627.4 287.0 L627.9 286.7 L628.4 286.5 L628.9 286.4 L629.4 286.4 L629.9 286.5 L630.4 286.7 L630.9 286.8 L631.4 286.7 L631.9 286.4 L632.4 285.9 L632.9 285.4 L633.4 285.1 L633.9 285.1 L634.4 285.1 L634.9 285.1 L635.4 285.2 L635.9 285.2 L636.4 285.1 L636.9 285.2 L637.4 285.3 L637.9 285.5 L638.4 285.8 L638.9 286.3 L639.4 286.8 L639.9 287.2 L640.4 287.4 L640.9 287.3 L641.4 287.1 L641.9 286.7 L642.4 286.2 L642.9 285.9 L643.4 285.8 L643.9 285.7 L644.4 285.7 L644.9 285.6 L645.4 285.6 L645.9 285.8 L646.4 286.1 L646.9 286.5 L647.4 286.8 L647.9 286.9 L648.4 286.8 L648.9 286.6 L649.4 286.4 L649.9 286.4 L650.4 286.5 L650.9 286.8 L651.4 287.0 L651.9 287.1 L652.4 287.1 L652.9 287.1 L653.4 287.0 L653.9 286.9 L654.4 286.7 L654.9 286.5 L655.4 286.4 L655.9 286.3 L656.4 286.2 L656.9 285.9 L657.4 285.5 L657.9 285.2 L658.4 284.9 L658.9 284.6 L659.4 284.4 L659.9 283.9 L660.4 283.5 L660.9 283.2 L661.4 283.0 L661.9 282.9 L662.4 282.9 L662.9 282.9 L663.4 282.9 L663.9 282.9 L664.4 283.0 L664.9 283.0 L665.4 283.2 L665.9 283.4 L666.4 283.7 L666.9 284.1 L667.4 284.4 L667.9 284.6 L668.4 284.8 L668.9 285.0 L669.4 285.2 L669.9 285.4 L670.4 285.3 L670.9 285.2 L671.4 285.0" fill="none" stroke="#F1A7AE" stroke-width="1.00" stroke-linejoin="round" stroke-opacity="0.9"/>
<path d="M488.4 282.3 L488.9 282.6 L489.4 283.0 L489.9 283.3 L490.4 283.6 L490.9 283.9 L491.4 284.2 L491.9 284.4 L492.4 284.6 L492.9 284.9 L493.4 285.1 L493.9 285.3 L494.4 285.6 L494.9 286.0 L495.4 286.4 L495.9 286.6 L496.4 286.7 L496.9 286.9 L497.4 287.1 L497.9 287.4 L498.4 287.7 L498.9 287.9 L499.4 287.8 L499.9 287.8 L500.4 287.8 L500.9 287.8 L501.4 287.8 L501.9 287.7 L502.4 287.5 L502.9 287.1 L503.4 286.7 L503.9 286.4 L504.4 286.2 L504.9 286.1 L505.4 286.2 L505.9 286.2 L506.4 286.2 L506.9 286.3 L507.4 286.4 L507.9 286.6 L508.4 286.9 L508.9 287.1 L509.4 287.3 L509.9 287.3 L510.4 287.4 L510.9 287.3 L511.4 287.3 L511.9 287.3 L512.4 287.3 L512.9 287.4 L513.4 287.5 L513.9 287.4 L514.4 287.1 L514.9 286.8 L515.4 286.5 L515.9 286.4 L516.4 286.5 L516.9 286.6 L517.4 286.8 L517.9 286.9 L518.4 286.9 L518.9 286.8 L519.4 286.5 L519.9 286.2 L520.4 286.0 L520.9 286.0 L521.4 286.1 L521.9 286.3 L522.4 286.6 L522.9 286.9 L523.4 287.2 L523.9 287.3 L524.4 287.3 L524.9 287.4 L525.4 287.5 L525.9 287.7 L526.4 287.9 L526.9 288.1 L527.4 288.1 L527.9 288.0 L528.4 288.0 L528.9 288.2 L529.4 288.4 L529.9 288.5 L530.4 288.3 L530.9 287.9 L531.4 287.3 L531.9 287.0 L532.4 287.0 L532.9 287.1 L533.4 287.2 L533.9 287.3 L534.4 287.3 L534.9 287.3 L535.4 287.5 L535.9 287.8 L536.4 288.1 L536.9 288.5 L537.4 288.9 L537.9 289.3 L538.4 289.4 L538.9 289.3 L539.4 289.1 L539.9 288.8 L540.4 288.2 L540.9 287.4 L541.4 286.4 L541.9 285.5 L542.4 284.8 L542.9 284.6 L543.4 284.8 L543.9 285.2 L544.4 285.5 L544.9 285.7 L545.4 285.7 L545.9 285.6 L546.4 285.5 L546.9 285.7 L547.4 286.1 L547.9 286.6 L548.4 287.0 L548.9 287.3 L549.4 287.3 L549.9 287.3 L550.4 287.2 L550.9 287.1 L551.4 287.0 L551.9 287.0 L552.4 286.9 L552.9 287.0 L553.4 287.2 L553.9 287.5 L554.4 287.7 L554.9 287.7 L555.4 287.3 L555.9 286.7 L556.4 286.2 L556.9 285.9 L557.4 285.8 L557.9 285.8 L558.4 286.0 L558.9 286.0 L559.4 285.9 L559.9 285.7 L560.4 285.5 L560.9 285.2 L561.4 285.0 L561.9 284.8 L562.4 284.5 L562.9 284.3 L563.4 284.1 L563.9 284.0 L564.4 284.0 L564.9 284.2 L565.4 284.5 L565.9 284.8 L566.4 285.3 L566.9 285.7 L567.4 285.9 L567.9 285.7 L568.4 285.3 L568.9 285.0 L569.4 284.9 L569.9 285.0 L570.4 285.2 L570.9 285.4 L571.4 285.6 L571.9 285.7 L572.4 285.9 L572.9 286.3 L573.4 286.7 L573.9 287.1 L574.4 287.2 L574.9 287.0 L575.4 286.6 L575.9 286.3 L576.4 286.1 L576.9 285.9 L577.4 285.7 L577.9 285.4 L578.4 284.9 L578.9 284.5 L579.4 284.2 L579.9 283.9 L580.4 283.7 L580.9 283.6 L581.4 283.6 L581.9 283.8 L582.4 284.2 L582.9 284.7 L583.4 285.1 L583.9 285.4 L584.4 285.5 L584.9 285.5 L585.4 285.6 L585.9 285.8 L586.4 285.9 L586.9 285.8 L587.4 285.7 L587.9 285.5 L588.4 285.1 L588.9 284.6 L589.4 284.1 L589.9 283.9 L590.4 284.1 L590.9 284.9 L591.4 285.9 L591.9 286.7 L592.4 287.0 L592.9 286.8 L593.4 286.1 L593.9 285.5 L594.4 285.1 L594.9 284.9 L595.4 285.0 L595.9 285.0 L596.4 285.2 L596.9 285.3 L597.4 285.4 L597.9 285.3 L598.4 285.1 L598.9 284.9 L599.4 284.8 L599.9 284.9 L600.4 285.0 L600.9 285.2 L601.4 285.2 L601.9 285.2 L602.4 285.4 L602.9 285.8 L603.4 286.3 L603.9 286.8 L604.4 287.0 L604.9 287.2 L605.4 287.4 L605.9 287.4 L606.4 287.4 L606.9 287.3 L607.4 287.2 L607.9 287.1 L608.4 287.2 L608.9 287.5 L609.4 287.9 L609.9 288.5 L610.4 289.1 L610.9 289.7 L611.4 290.0 L611.9 290.3 L612.4 290.7 L612.9 291.2 L613.4 291.8 L613.9 292.6 L614.4 293.6 L614.9 294.7 L615.4 295.6 L615.9 296.4 L616.4 297.1 L616.9 297.7 L617.4 298.6 L617.9 299.6 L618.4 300.8 L618.9 300.9 L619.4 300.7 L619.9 300.2 L620.4 299.4 L620.9 298.3 L621.4 296.9 L621.9 295.5 L622.4 294.2 L622.9 293.0 L623.4 292.1 L623.9 291.2 L624.4 290.6 L624.9 290.2 L625.4 289.9 L625.9 289.6 L626.4 289.3 L626.9 288.9 L627.4 288.7 L627.9 288.4 L628.4 288.0 L628.9 287.5 L629.4 287.0 L629.9 286.5 L630.4 286.1 L630.9 285.8 L631.4 285.6 L631.9 285.5 L632.4 285.4 L632.9 285.3 L633.4 285.3 L633.9 285.3 L634.4 285.3 L634.9 285.2 L635.4 285.0 L635.9 284.8 L636.4 284.7 L636.9 284.7 L637.4 284.8 L637.9 285.0 L638.4 285.1 L638.9 285.4 L639.4 285.6 L639.9 285.7 L640.4 285.8 L640.9 285.9 L641.4 286.2 L641.9 286.4 L642.4 286.4 L642.9 286.4 L643.4 286.4 L643.9 286.5 L644.4 286.7 L644.9 286.9 L645.4 287.0 L645.9 287.0 L646.4 287.1 L646.9 287.1 L647.4 287.1 L647.9 287.0 L648.4 287.0 L648.9 287.2 L649.4 287.4 L649.9 287.6 L650.4 287.5 L650.9 287.1 L651.4 286.6 L651.9 286.1 L652.4 285.8 L652.9 285.6 L653.4 285.6 L653.9 285.8 L654.4 286.1 L654.9 286.4 L655.4 286.7 L655.9 286.9 L656.4 286.9 L656.9 286.8 L657.4 286.5 L657.9 286.2 L658.4 285.8 L658.9 285.5 L659.4 285.1 L659.9 284.6 L660.4 284.1 L660.9 283.6 L661.4 283.2 L661.9 282.7 L662.4 282.4 L662.9 282.1 L663.4 282.1 L663.9 282.2 L664.4 282.5 L664.9 283.0 L665.4 283.5 L665.9 284.1 L666.4 284.4 L666.9 284.6 L667.4 284.5 L667.9 284.4 L668.4 284.4 L668.9 284.5 L669.4 284.6 L669.9 284.7 L670.4 284.7 L670.9 284.7 L671.4 284.8" fill="none" stroke="#EB7C84" stroke-width="1.00" stroke-linejoin="round" stroke-opacity="0.9"/>
<path d="M488.4 282.3 L488.9 282.6 L489.4 282.8 L489.9 282.9 L490.4 283.1 L490.9 283.3 L491.4 283.5 L491.9 283.7 L492.4 283.7 L492.9 283.8 L493.4 283.8 L493.9 283.8 L494.4 283.9 L494.9 284.2 L495.4 284.6 L495.9 284.9 L496.4 285.2 L496.9 285.6 L497.4 285.9 L497.9 286.3 L498.4 286.7 L498.9 287.0 L499.4 287.3 L499.9 287.4 L500.4 287.4 L500.9 287.2 L501.4 286.9 L501.9 286.7 L502.4 286.6 L502.9 286.6 L503.4 286.9 L503.9 287.2 L504.4 287.4 L504.9 287.4 L505.4 287.1 L505.9 286.8 L506.4 286.7 L506.9 286.8 L507.4 287.1 L507.9 287.3 L508.4 287.4 L508.9 287.3 L509.4 287.2 L509.9 286.9 L510.4 286.6 L510.9 286.3 L511.4 286.1 L511.9 285.9 L512.4 285.9 L512.9 286.1 L513.4 286.6 L513.9 287.3 L514.4 287.7 L514.9 287.9 L515.4 287.7 L515.9 287.4 L516.4 287.1 L516.9 286.8 L517.4 286.6 L517.9 286.6 L518.4 286.7 L518.9 287.1 L519.4 287.6 L519.9 288.1 L520.4 288.2 L520.9 287.9 L521.4 287.3 L521.9 286.6 L522.4 286.0 L522.9 285.7 L523.4 285.7 L523.9 285.9 L524.4 286.1 L524.9 286.4 L525.4 286.5 L525.9 286.7 L526.4 286.7 L526.9 286.7 L527.4 286.6 L527.9 286.3 L528.4 286.1 L528.9 286.1 L529.4 286.5 L529.9 287.0 L530.4 287.4 L530.9 287.6 L531.4 287.6 L531.9 287.5 L532.4 287.6 L532.9 287.8 L533.4 288.0 L533.9 288.2 L534.4 288.3 L534.9 288.3 L535.4 288.2 L535.9 288.2 L536.4 288.1 L536.9 288.1 L537.4 287.9 L537.9 287.6 L538.4 287.3 L538.9 287.0 L539.4 286.9 L539.9 287.0 L540.4 287.0 L540.9 286.9 L541.4 286.6 L541.9 286.1 L542.4 285.8 L542.9 285.7 L543.4 285.9 L543.9 286.1 L544.4 286.3 L544.9 286.5 L545.4 286.8 L545.9 287.2 L546.4 287.6 L546.9 288.0 L547.4 288.3 L547.9 288.4 L548.4 288.3 L548.9 288.0 L549.4 287.6 L549.9 287.1 L550.4 286.8 L550.9 286.7 L551.4 286.8 L551.9 286.9 L552.4 287.1 L552.9 287.4 L553.4 287.6 L553.9 287.5 L554.4 287.3 L554.9 287.0 L555.4 286.6 L555.9 286.3 L556.4 286.0 L556.9 285.8 L557.4 285.4 L557.9 284.8 L558.4 284.3 L558.9 283.9 L559.4 283.7 L559.9 283.6 L560.4 283.6 L560.9 283.8 L561.4 284.0 L561.9 284.0 L562.4 284.0 L562.9 283.9 L563.4 283.9 L563.9 284.3 L564.4 284.9 L564.9 285.5 L565.4 286.0 L565.9 286.1 L566.4 285.9 L566.9 285.6 L567.4 285.5 L567.9 285.5 L568.4 285.7 L568.9 286.1 L569.4 286.5 L569.9 286.8 L570.4 286.8 L570.9 286.7 L571.4 286.5 L571.9 286.4 L572.4 286.2 L572.9 286.0 L573.4 285.9 L573.9 286.0 L574.4 286.3 L574.9 286.5 L575.4 286.5 L575.9 286.1 L576.4 285.7 L576.9 285.4 L577.4 285.1 L577.9 284.9 L578.4 284.7 L578.9 284.4 L579.4 284.1 L579.9 283.6 L580.4 283.1 L580.9 282.8 L581.4 282.6 L581.9 282.9 L582.4 283.4 L582.9 283.9 L583.4 284.5 L583.9 285.0 L584.4 285.4 L584.9 285.7 L585.4 285.5 L585.9 285.0 L586.4 284.5 L586.9 284.1 L587.4 283.9 L587.9 283.8 L588.4 283.8 L588.9 283.8 L589.4 283.9 L589.9 283.8 L590.4 283.6 L590.9 283.4 L591.4 283.2 L591.9 283.3 L592.4 283.6 L592.9 283.9 L593.4 284.4 L593.9 284.9 L594.4 285.5 L594.9 285.9 L595.4 286.1 L595.9 285.9 L596.4 285.5 L596.9 285.0 L597.4 284.5 L597.9 284.3 L598.4 284.2 L598.9 284.4 L599.4 284.7 L599.9 285.2 L600.4 285.9 L600.9 286.5 L601.4 287.0 L601.9 287.3 L602.4 287.6 L602.9 287.7 L603.4 287.8 L603.9 288.0 L604.4 288.3 L604.9 288.7 L605.4 289.1 L605.9 289.5 L606.4 289.6 L606.9 289.4 L607.4 288.8 L607.9 288.0 L608.4 287.3 L608.9 287.2 L609.4 287.5 L609.9 287.9 L610.4 288.3 L610.9 288.6 L611.4 288.9 L611.9 289.5 L612.4 290.4 L612.9 291.5 L613.4 292.8 L613.9 294.1 L614.4 295.2 L614.9 296.3 L615.4 297.2 L615.9 298.0 L616.4 299.0 L616.9 300.1 L617.4 301.4 L617.9 302.7 L618.4 303.8 L618.9 303.3 L619.4 302.2 L619.9 301.0 L620.4 299.8 L620.9 298.6 L621.4 297.6 L621.9 296.7 L622.4 295.8 L622.9 294.8 L623.4 293.7 L623.9 292.7 L624.4 291.7 L624.9 290.9 L625.4 290.3 L625.9 289.8 L626.4 289.5 L626.9 289.3 L627.4 289.0 L627.9 288.8 L628.4 288.6 L628.9 288.4 L629.4 288.1 L629.9 287.7 L630.4 287.2 L630.9 287.1 L631.4 287.2 L631.9 287.5 L632.4 287.5 L632.9 287.2 L633.4 286.7 L633.9 286.1 L634.4 285.6 L634.9 285.4 L635.4 285.3 L635.9 285.5 L636.4 285.7 L636.9 286.0 L637.4 286.1 L637.9 286.1 L638.4 286.1 L638.9 286.0 L639.4 285.9 L639.9 285.9 L640.4 285.9 L640.9 285.9 L641.4 286.0 L641.9 286.1 L642.4 286.1 L642.9 286.0 L643.4 285.7 L643.9 285.5 L644.4 285.6 L644.9 286.2 L645.4 286.8 L645.9 287.3 L646.4 287.4 L646.9 287.3 L647.4 287.3 L647.9 287.4 L648.4 287.7 L648.9 287.8 L649.4 287.7 L649.9 287.4 L650.4 286.9 L650.9 286.5 L651.4 286.1 L651.9 285.9 L652.4 285.9 L652.9 286.0 L653.4 286.1 L653.9 286.2 L654.4 286.3 L654.9 286.2 L655.4 286.1 L655.9 285.9 L656.4 285.8 L656.9 285.6 L657.4 285.3 L657.9 285.1 L658.4 285.0 L658.9 285.0 L659.4 284.8 L659.9 284.4 L660.4 283.9 L660.9 283.6 L661.4 283.4 L661.9 283.5 L662.4 283.7 L662.9 283.9 L663.4 283.9 L663.9 283.8 L664.4 283.6 L664.9 283.5 L665.4 283.3 L665.9 283.3 L666.4 283.2 L666.9 283.3 L667.4 283.4 L667.9 283.5 L668.4 283.7 L668.9 284.0 L669.4 284.3 L669.9 284.7 L670.4 285.2 L670.9 285.6 L671.4 285.9" fill="none" stroke="#E64F59" stroke-width="1.00" stroke-linejoin="round" stroke-opacity="0.9"/>
<path d="M488.4 281.5 L488.9 281.9 L489.4 282.2 L489.9 282.5 L490.4 282.8 L490.9 283.1 L491.4 283.5 L491.9 284.0 L492.4 284.4 L492.9 284.9 L493.4 285.2 L493.9 285.3 L494.4 285.1 L494.9 284.9 L495.4 284.9 L495.9 285.1 L496.4 285.4 L496.9 285.5 L497.4 285.2 L497.9 284.6 L498.4 284.0 L498.9 283.7 L499.4 283.8 L499.9 284.2 L500.4 284.8 L500.9 285.4 L501.4 285.8 L501.9 286.0 L502.4 286.0 L502.9 286.1 L503.4 286.2 L503.9 286.4 L504.4 286.8 L504.9 287.1 L505.4 287.5 L505.9 288.0 L506.4 288.6 L506.9 288.8 L507.4 288.7 L507.9 288.2 L508.4 287.7 L508.9 287.5 L509.4 287.6 L509.9 287.9 L510.4 288.1 L510.9 288.2 L511.4 288.2 L511.9 288.3 L512.4 288.4 L512.9 288.4 L513.4 288.4 L513.9 288.2 L514.4 288.2 L514.9 288.2 L515.4 288.4 L515.9 288.7 L516.4 288.9 L516.9 289.0 L517.4 288.7 L517.9 288.2 L518.4 287.4 L518.9 286.6 L519.4 285.9 L519.9 285.6 L520.4 285.6 L520.9 285.9 L521.4 286.3 L521.9 286.6 L522.4 286.9 L522.9 287.2 L523.4 287.5 L523.9 287.8 L524.4 288.0 L524.9 288.1 L525.4 288.1 L525.9 288.0 L526.4 287.7 L526.9 287.3 L527.4 286.7 L527.9 286.4 L528.4 286.5 L528.9 286.9 L529.4 287.5 L529.9 287.9 L530.4 288.1 L530.9 288.2 L531.4 288.1 L531.9 287.8 L532.4 287.4 L532.9 287.2 L533.4 287.3 L533.9 287.8 L534.4 288.5 L534.9 289.1 L535.4 289.4 L535.9 289.3 L536.4 289.0 L536.9 288.5 L537.4 288.1 L537.9 287.7 L538.4 287.3 L538.9 287.0 L539.4 286.9 L539.9 287.0 L540.4 287.2 L540.9 287.2 L541.4 286.9 L541.9 286.5 L542.4 286.1 L542.9 286.0 L543.4 286.2 L543.9 286.7 L544.4 287.1 L544.9 287.4 L545.4 287.7 L545.9 287.9 L546.4 288.0 L546.9 288.0 L547.4 287.8 L547.9 287.6 L548.4 287.4 L548.9 287.2 L549.4 286.9 L549.9 286.7 L550.4 286.7 L550.9 286.8 L551.4 287.0 L551.9 287.3 L552.4 287.7 L552.9 288.2 L553.4 288.7 L553.9 289.1 L554.4 289.3 L554.9 289.2 L555.4 288.9 L555.9 288.4 L556.4 287.9 L556.9 287.4 L557.4 286.7 L557.9 286.1 L558.4 285.5 L558.9 285.1 L559.4 284.9 L559.9 284.7 L560.4 284.6 L560.9 284.6 L561.4 284.6 L561.9 284.6 L562.4 284.5 L562.9 284.6 L563.4 285.0 L563.9 285.5 L564.4 285.9 L564.9 286.3 L565.4 286.5 L565.9 286.8 L566.4 287.2 L566.9 287.5 L567.4 287.8 L567.9 288.0 L568.4 288.2 L568.9 288.3 L569.4 288.1 L569.9 287.7 L570.4 287.2 L570.9 286.9 L571.4 286.9 L571.9 287.2 L572.4 287.6 L572.9 287.7 L573.4 287.4 L573.9 286.9 L574.4 286.5 L574.9 286.4 L575.4 286.6 L575.9 287.0 L576.4 287.4 L576.9 287.5 L577.4 287.2 L577.9 286.7 L578.4 286.0 L578.9 285.5 L579.4 285.2 L579.9 285.1 L580.4 285.1 L580.9 285.2 L581.4 285.5 L581.9 285.7 L582.4 285.8 L582.9 285.6 L583.4 285.5 L583.9 285.5 L584.4 285.8 L584.9 286.4 L585.4 287.0 L585.9 287.6 L586.4 287.8 L586.9 287.6 L587.4 287.1 L587.9 286.5 L588.4 285.9 L588.9 285.3 L589.4 284.8 L589.9 284.4 L590.4 284.1 L590.9 284.1 L591.4 284.1 L591.9 284.0 L592.4 283.7 L592.9 283.4 L593.4 283.3 L593.9 283.5 L594.4 284.1 L594.9 284.8 L595.4 285.4 L595.9 285.9 L596.4 286.3 L596.9 287.0 L597.4 287.7 L597.9 288.4 L598.4 289.2 L598.9 290.3 L599.4 291.5 L599.9 292.4 L600.4 292.8 L600.9 292.8 L601.4 292.8 L601.9 293.1 L602.4 293.7 L602.9 294.2 L603.4 294.5 L603.9 294.4 L604.4 294.2 L604.9 293.9 L605.4 293.8 L605.9 293.6 L606.4 293.2 L606.9 292.5 L607.4 291.6 L607.9 290.7 L608.4 290.0 L608.9 289.5 L609.4 289.4 L609.9 289.4 L610.4 289.5 L610.9 289.7 L611.4 290.1 L611.9 290.8 L612.4 291.6 L612.9 292.3 L613.4 292.9 L613.9 293.6 L614.4 294.7 L614.9 296.0 L615.4 297.5 L615.9 299.0 L616.4 300.8 L616.9 302.7 L617.4 304.9 L617.9 307.1 L618.4 308.6 L618.9 308.0 L619.4 306.3 L619.9 304.5 L620.4 302.6 L620.9 300.9 L621.4 299.2 L621.9 297.8 L622.4 296.8 L622.9 296.0 L623.4 295.4 L623.9 294.6 L624.4 293.7 L624.9 292.8 L625.4 292.1 L625.9 291.5 L626.4 290.8 L626.9 289.9 L627.4 289.0 L627.9 288.1 L628.4 287.4 L628.9 287.0 L629.4 286.9 L629.9 286.9 L630.4 286.7 L630.9 286.4 L631.4 286.1 L631.9 285.8 L632.4 285.7 L632.9 285.6 L633.4 285.6 L633.9 285.7 L634.4 286.0 L634.9 286.2 L635.4 286.3 L635.9 286.3 L636.4 286.1 L636.9 285.7 L637.4 285.3 L637.9 285.0 L638.4 284.9 L638.9 285.1 L639.4 285.4 L639.9 285.7 L640.4 286.1 L640.9 286.4 L641.4 286.8 L641.9 287.3 L642.4 287.7 L642.9 287.7 L643.4 287.0 L643.9 286.0 L644.4 285.0 L644.9 284.5 L645.4 284.5 L645.9 284.9 L646.4 285.1 L646.9 285.2 L647.4 285.2 L647.9 285.5 L648.4 286.1 L648.9 286.6 L649.4 286.9 L649.9 286.9 L650.4 286.7 L650.9 286.5 L651.4 286.3 L651.9 286.3 L652.4 286.6 L652.9 287.0 L653.4 287.5 L653.9 287.8 L654.4 287.7 L654.9 287.0 L655.4 285.9 L655.9 284.6 L656.4 283.7 L656.9 283.4 L657.4 283.6 L657.9 284.0 L658.4 284.5 L658.9 284.9 L659.4 285.3 L659.9 285.6 L660.4 285.7 L660.9 285.6 L661.4 285.3 L661.9 285.0 L662.4 284.7 L662.9 284.6 L663.4 284.6 L663.9 284.7 L664.4 284.8 L664.9 284.8 L665.4 284.6 L665.9 284.3 L666.4 284.0 L666.9 283.8 L667.4 283.8 L667.9 283.9 L668.4 284.3 L668.9 284.9 L669.4 285.7 L669.9 286.4 L670.4 286.9 L670.9 286.8 L671.4 286.5" fill="none" stroke="#E32B36" stroke-width="1.00" stroke-linejoin="round" stroke-opacity="0.9"/>
<line x1="362.60" y1="260.40" x2="362.60" y2="278.40" stroke="#222" stroke-width="1.20" />
<line x1="360.00" y1="260.40" x2="365.20" y2="260.40" stroke="#222" stroke-width="1.20" />
<line x1="360.00" y1="278.40" x2="365.20" y2="278.40" stroke="#222" stroke-width="1.20" />
<text transform="translate(370.59 272.90) scale(1.0067 1)" fill="#111" font-size="10.20" ><tspan x="0.00" dy="0.00" font-size="10.20">0.0025</tspan></text>
<text transform="translate(449.45 267.10) scale(1.0002 1)" fill="#111" font-size="10.00" ><tspan x="0.00" dy="0.00" font-size="10.00">1594 cm</tspan><tspan x="38.36" dy="-3.80" font-size="7.20">-1</tspan></text>
<text transform="translate(502.70 264.90) scale(1.0145 1)" fill="#111" font-size="9.00" ><tspan x="0.00" dy="0.00" font-size="9.00">ν</tspan></text>
<text transform="translate(506.63 267.90) scale(1.0027 1)" fill="#111" font-size="7.30" ><tspan x="0.00" dy="0.00" font-size="7.30">C=C</tspan></text>
<text transform="translate(422.85 411.50) scale(1.0025 1)" fill="#111" font-size="10.00" ><tspan x="0.00" dy="0.00" font-size="10.00">1672 cm</tspan><tspan x="38.36" dy="-3.80" font-size="7.20">-1</tspan></text>
<text transform="translate(477.00 408.90) scale(1.1111 1)" fill="#111" font-size="9.00" ><tspan x="0.00" dy="0.00" font-size="9.00">ν</tspan></text>
<text transform="translate(481.55 411.90) scale(0.9728 1)" fill="#111" font-size="7.10" ><tspan x="0.00" dy="0.00" font-size="7.10">C≡C</tspan></text>
<text transform="translate(586.04 324.80) scale(1.0105 1)" fill="#111" font-size="10.00" ><tspan x="0.00" dy="0.00" font-size="10.00">1163 cm</tspan><tspan x="37.61" dy="-3.80" font-size="7.20">-1</tspan></text>
<text transform="translate(641.10 322.50) scale(1.1594 1)" fill="#111" font-size="9.00" ><tspan x="0.00" dy="0.00" font-size="9.00">ν</tspan></text>
<text transform="translate(645.55 325.00) scale(1.0040 1)" fill="#111" font-size="7.00" ><tspan x="0.00" dy="0.00" font-size="7.00">C−OH</tspan></text>
<rect x="532.6" y="304.20" width="9.1" height="11.20" fill="#F7D2D7"/>
<rect x="532.6" y="315.30" width="9.1" height="11.20" fill="#F4BCC2"/>
<rect x="532.6" y="326.40" width="9.1" height="11.20" fill="#F1A7AE"/>
<rect x="532.6" y="337.50" width="9.1" height="11.20" fill="#EE9299"/>
<rect x="532.6" y="348.60" width="9.1" height="11.20" fill="#EB7C84"/>
<rect x="532.6" y="359.70" width="9.1" height="11.20" fill="#E8666F"/>
<rect x="532.6" y="370.80" width="9.1" height="11.20" fill="#E64F59"/>
<rect x="532.6" y="381.90" width="9.1" height="11.20" fill="#E32B36"/>
<rect x="532.6" y="304.2" width="9.1" height="88.8" fill="none" stroke="#3a2020" stroke-width="0.9"/>
<text transform="translate(546.80 312.60) scale(1.0000 1)" fill="#111" font-size="9.00" ><tspan x="0.00" dy="0.00" font-size="9.00">OCP</tspan></text>
<text transform="translate(546.84 323.60) scale(1.0000 1)" fill="#111" font-size="9.00" ><tspan x="0.00" dy="0.00" font-size="9.00">30 s</tspan></text>
<text transform="translate(546.75 334.60) scale(1.0000 1)" fill="#111" font-size="9.00" ><tspan x="0.00" dy="0.00" font-size="9.00">60 s</tspan></text>
<text transform="translate(546.80 345.60) scale(1.0000 1)" fill="#111" font-size="9.00" ><tspan x="0.00" dy="0.00" font-size="9.00">90 s</tspan></text>
<text transform="translate(546.53 356.60) scale(1.0000 1)" fill="#111" font-size="9.00" ><tspan x="0.00" dy="0.00" font-size="9.00">120 s</tspan></text>
<text transform="translate(546.53 367.60) scale(1.0000 1)" fill="#111" font-size="9.00" ><tspan x="0.00" dy="0.00" font-size="9.00">150 s</tspan></text>
<text transform="translate(546.53 378.60) scale(1.0000 1)" fill="#111" font-size="9.00" ><tspan x="0.00" dy="0.00" font-size="9.00">180 s</tspan></text>
<text transform="translate(546.75 389.60) scale(1.0000 1)" fill="#111" font-size="9.00" ><tspan x="0.00" dy="0.00" font-size="9.00">210 s</tspan></text>
</svg></body></html>
